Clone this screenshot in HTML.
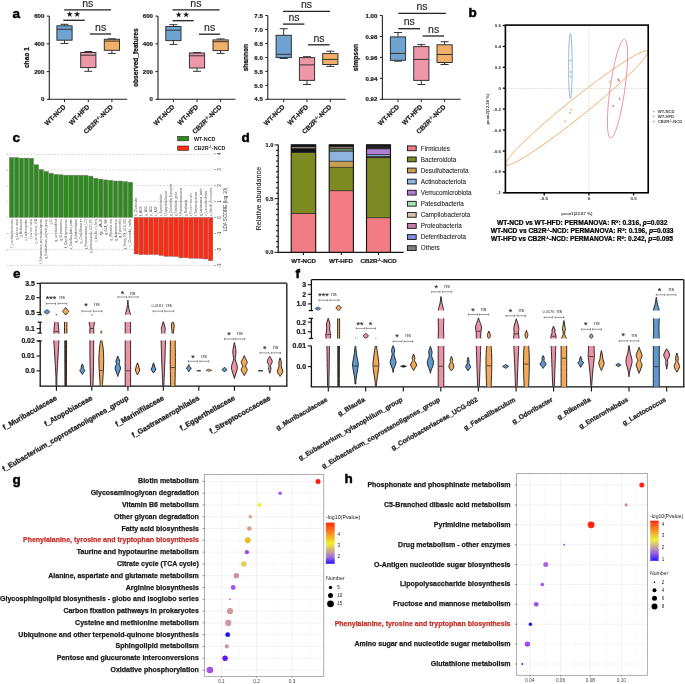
<!DOCTYPE html>
<html><head><meta charset="utf-8"><style>
html,body{margin:0;padding:0;background:#fff;width:685px;height:684px;overflow:hidden}
svg{display:block;font-family:"Liberation Sans", sans-serif;will-change:transform}
</style></head><body>
<svg width="685" height="684" viewBox="0 0 685 684">
<line x1="49.30" y1="16.10" x2="49.30" y2="99.90" stroke="#222" stroke-width="1.1"/>
<line x1="48.80" y1="99.30" x2="127.20" y2="99.30" stroke="#222" stroke-width="1.1"/>
<line x1="46.80" y1="16.10" x2="49.30" y2="16.10" stroke="#222" stroke-width="1"/>
<text x="44.30" y="18.20" font-size="6.1" text-anchor="end" font-weight="bold" fill="#222" stroke="#222" stroke-width="0.21">600</text>
<line x1="46.80" y1="43.80" x2="49.30" y2="43.80" stroke="#222" stroke-width="1"/>
<text x="44.30" y="45.90" font-size="6.1" text-anchor="end" font-weight="bold" fill="#222" stroke="#222" stroke-width="0.21">400</text>
<line x1="46.80" y1="71.60" x2="49.30" y2="71.60" stroke="#222" stroke-width="1"/>
<text x="44.30" y="73.70" font-size="6.1" text-anchor="end" font-weight="bold" fill="#222" stroke="#222" stroke-width="0.21">200</text>
<line x1="46.80" y1="99.30" x2="49.30" y2="99.30" stroke="#222" stroke-width="1"/>
<text x="44.30" y="101.40" font-size="6.1" text-anchor="end" font-weight="bold" fill="#222" stroke="#222" stroke-width="0.21">0</text>
<text x="29.50" y="57.60" font-size="6.6" text-anchor="middle" font-weight="bold" fill="#111" stroke="#111" stroke-width="0.23" transform="rotate(-90 29.50 57.60)">chao 1</text>
<line x1="64.50" y1="24.30" x2="64.50" y2="25.80" stroke="#333" stroke-width="1"/>
<line x1="64.50" y1="40.20" x2="64.50" y2="43.50" stroke="#333" stroke-width="1"/>
<line x1="60.50" y1="24.30" x2="68.50" y2="24.30" stroke="#333" stroke-width="1"/>
<line x1="60.50" y1="43.50" x2="68.50" y2="43.50" stroke="#333" stroke-width="1"/>
<rect x="56.90" y="25.80" width="15.20" height="14.40" fill="#6FA3D2" stroke="#333" stroke-width="1"/>
<line x1="56.90" y1="29.30" x2="72.10" y2="29.30" stroke="#333" stroke-width="1"/>
<line x1="64.50" y1="99.30" x2="64.50" y2="102.10" stroke="#222" stroke-width="1"/>
<text x="66.00" y="107.30" font-size="6.6" text-anchor="end" font-weight="bold" fill="#222" stroke="#222" stroke-width="0.23" transform="rotate(-45 66.00 107.30)">WT-NCD</text>
<line x1="88.30" y1="51.50" x2="88.30" y2="52.50" stroke="#333" stroke-width="1"/>
<line x1="88.30" y1="67.60" x2="88.30" y2="71.30" stroke="#333" stroke-width="1"/>
<line x1="84.30" y1="51.50" x2="92.30" y2="51.50" stroke="#333" stroke-width="1"/>
<line x1="84.30" y1="71.30" x2="92.30" y2="71.30" stroke="#333" stroke-width="1"/>
<rect x="80.70" y="52.50" width="15.20" height="15.10" fill="#EE97A8" stroke="#333" stroke-width="1"/>
<line x1="80.70" y1="55.20" x2="95.90" y2="55.20" stroke="#333" stroke-width="1"/>
<line x1="88.30" y1="99.30" x2="88.30" y2="102.10" stroke="#222" stroke-width="1"/>
<text x="89.80" y="107.30" font-size="6.6" text-anchor="end" font-weight="bold" fill="#222" stroke="#222" stroke-width="0.23" transform="rotate(-45 89.80 107.30)">WT-HFD</text>
<line x1="111.90" y1="38.80" x2="111.90" y2="39.30" stroke="#333" stroke-width="1"/>
<line x1="111.90" y1="50.30" x2="111.90" y2="53.40" stroke="#333" stroke-width="1"/>
<line x1="107.90" y1="38.80" x2="115.90" y2="38.80" stroke="#333" stroke-width="1"/>
<line x1="107.90" y1="53.40" x2="115.90" y2="53.40" stroke="#333" stroke-width="1"/>
<rect x="104.30" y="39.30" width="15.20" height="11.00" fill="#F2AF67" stroke="#333" stroke-width="1"/>
<line x1="104.30" y1="41.10" x2="119.50" y2="41.10" stroke="#333" stroke-width="1"/>
<line x1="111.90" y1="99.30" x2="111.90" y2="102.10" stroke="#222" stroke-width="1"/>
<text x="113.40" y="107.30" font-size="6.6" text-anchor="end" font-weight="bold" fill="#222" stroke="#222" stroke-width="0.23" transform="rotate(-45 113.40 107.30)">CB2R<tspan font-size="4" dy="-2.2">-/-</tspan><tspan dy="2.2">-NCD</tspan></text>
<line x1="64.20" y1="9.90" x2="111.00" y2="9.90" stroke="#222" stroke-width="1.3"/>
<text x="87.80" y="6.80" font-size="10.5" text-anchor="middle" fill="#222" stroke="#222" stroke-width="0.13">ns</text>
<line x1="63.30" y1="20.30" x2="84.80" y2="20.30" stroke="#222" stroke-width="1.3"/>
<polygon points="69.70,11.00 70.44,13.29 72.84,13.28 70.89,14.69 71.64,16.97 69.70,15.55 67.76,16.97 68.51,14.69 66.56,13.28 68.96,13.29" fill="#111"/>
<polygon points="77.10,11.00 77.84,13.29 80.24,13.28 78.29,14.69 79.04,16.97 77.10,15.55 75.16,16.97 75.91,14.69 73.96,13.28 76.36,13.29" fill="#111"/>
<line x1="89.90" y1="34.00" x2="111.10" y2="34.00" stroke="#222" stroke-width="1.3"/>
<text x="100.60" y="31.10" font-size="10.5" text-anchor="middle" fill="#222" stroke="#222" stroke-width="0.13">ns</text>
<line x1="158.00" y1="16.10" x2="158.00" y2="99.90" stroke="#222" stroke-width="1.1"/>
<line x1="157.50" y1="99.30" x2="235.50" y2="99.30" stroke="#222" stroke-width="1.1"/>
<line x1="155.50" y1="16.10" x2="158.00" y2="16.10" stroke="#222" stroke-width="1"/>
<text x="153.00" y="18.20" font-size="6.1" text-anchor="end" font-weight="bold" fill="#222" stroke="#222" stroke-width="0.21">600</text>
<line x1="155.50" y1="43.80" x2="158.00" y2="43.80" stroke="#222" stroke-width="1"/>
<text x="153.00" y="45.90" font-size="6.1" text-anchor="end" font-weight="bold" fill="#222" stroke="#222" stroke-width="0.21">400</text>
<line x1="155.50" y1="71.60" x2="158.00" y2="71.60" stroke="#222" stroke-width="1"/>
<text x="153.00" y="73.70" font-size="6.1" text-anchor="end" font-weight="bold" fill="#222" stroke="#222" stroke-width="0.21">200</text>
<line x1="155.50" y1="99.30" x2="158.00" y2="99.30" stroke="#222" stroke-width="1"/>
<text x="153.00" y="101.40" font-size="6.1" text-anchor="end" font-weight="bold" fill="#222" stroke="#222" stroke-width="0.21">0</text>
<text x="138.30" y="57.60" font-size="6.6" text-anchor="middle" font-weight="bold" fill="#111" stroke="#111" stroke-width="0.23" transform="rotate(-90 138.30 57.60)">observed_features</text>
<line x1="173.40" y1="24.70" x2="173.40" y2="26.50" stroke="#333" stroke-width="1"/>
<line x1="173.40" y1="40.60" x2="173.40" y2="44.40" stroke="#333" stroke-width="1"/>
<line x1="169.40" y1="24.70" x2="177.40" y2="24.70" stroke="#333" stroke-width="1"/>
<line x1="169.40" y1="44.40" x2="177.40" y2="44.40" stroke="#333" stroke-width="1"/>
<rect x="165.80" y="26.50" width="15.20" height="14.10" fill="#6FA3D2" stroke="#333" stroke-width="1"/>
<line x1="165.80" y1="30.20" x2="181.00" y2="30.20" stroke="#333" stroke-width="1"/>
<line x1="173.40" y1="99.30" x2="173.40" y2="102.10" stroke="#222" stroke-width="1"/>
<text x="174.90" y="107.30" font-size="6.6" text-anchor="end" font-weight="bold" fill="#222" stroke="#222" stroke-width="0.23" transform="rotate(-45 174.90 107.30)">WT-NCD</text>
<line x1="197.00" y1="52.50" x2="197.00" y2="53.00" stroke="#333" stroke-width="1"/>
<line x1="197.00" y1="68.00" x2="197.00" y2="71.30" stroke="#333" stroke-width="1"/>
<line x1="193.00" y1="52.50" x2="201.00" y2="52.50" stroke="#333" stroke-width="1"/>
<line x1="193.00" y1="71.30" x2="201.00" y2="71.30" stroke="#333" stroke-width="1"/>
<rect x="189.40" y="53.00" width="15.20" height="15.00" fill="#EE97A8" stroke="#333" stroke-width="1"/>
<line x1="189.40" y1="55.80" x2="204.60" y2="55.80" stroke="#333" stroke-width="1"/>
<line x1="197.00" y1="99.30" x2="197.00" y2="102.10" stroke="#222" stroke-width="1"/>
<text x="198.50" y="107.30" font-size="6.6" text-anchor="end" font-weight="bold" fill="#222" stroke="#222" stroke-width="0.23" transform="rotate(-45 198.50 107.30)">WT-HFD</text>
<line x1="220.60" y1="38.90" x2="220.60" y2="39.90" stroke="#333" stroke-width="1"/>
<line x1="220.60" y1="50.60" x2="220.60" y2="53.40" stroke="#333" stroke-width="1"/>
<line x1="216.60" y1="38.90" x2="224.60" y2="38.90" stroke="#333" stroke-width="1"/>
<line x1="216.60" y1="53.40" x2="224.60" y2="53.40" stroke="#333" stroke-width="1"/>
<rect x="213.00" y="39.90" width="15.20" height="10.70" fill="#F2AF67" stroke="#333" stroke-width="1"/>
<line x1="213.00" y1="41.70" x2="228.20" y2="41.70" stroke="#333" stroke-width="1"/>
<line x1="220.60" y1="99.30" x2="220.60" y2="102.10" stroke="#222" stroke-width="1"/>
<text x="222.10" y="107.30" font-size="6.6" text-anchor="end" font-weight="bold" fill="#222" stroke="#222" stroke-width="0.23" transform="rotate(-45 222.10 107.30)">CB2R<tspan font-size="4" dy="-2.2">-/-</tspan><tspan dy="2.2">-NCD</tspan></text>
<line x1="172.50" y1="9.90" x2="219.60" y2="9.90" stroke="#222" stroke-width="1.3"/>
<text x="195.90" y="6.80" font-size="10.5" text-anchor="middle" fill="#222" stroke="#222" stroke-width="0.13">ns</text>
<line x1="172.50" y1="20.70" x2="193.70" y2="20.70" stroke="#222" stroke-width="1.3"/>
<polygon points="178.70,11.40 179.44,13.69 181.84,13.68 179.89,15.09 180.64,17.37 178.70,15.95 176.76,17.37 177.51,15.09 175.56,13.68 177.96,13.69" fill="#111"/>
<polygon points="186.10,11.40 186.84,13.69 189.24,13.68 187.29,15.09 188.04,17.37 186.10,15.95 184.16,17.37 184.91,15.09 182.96,13.68 185.36,13.69" fill="#111"/>
<line x1="199.00" y1="34.20" x2="220.20" y2="34.20" stroke="#222" stroke-width="1.3"/>
<text x="209.60" y="31.10" font-size="10.5" text-anchor="middle" fill="#222" stroke="#222" stroke-width="0.13">ns</text>
<line x1="267.80" y1="15.50" x2="267.80" y2="99.90" stroke="#222" stroke-width="1.1"/>
<line x1="267.30" y1="99.30" x2="345.70" y2="99.30" stroke="#222" stroke-width="1.1"/>
<line x1="265.30" y1="15.50" x2="267.80" y2="15.50" stroke="#222" stroke-width="1"/>
<text x="262.80" y="17.60" font-size="6.1" text-anchor="end" font-weight="bold" fill="#222" stroke="#222" stroke-width="0.21">7.5</text>
<line x1="265.30" y1="29.50" x2="267.80" y2="29.50" stroke="#222" stroke-width="1"/>
<text x="262.80" y="31.60" font-size="6.1" text-anchor="end" font-weight="bold" fill="#222" stroke="#222" stroke-width="0.21">7.0</text>
<line x1="265.30" y1="43.50" x2="267.80" y2="43.50" stroke="#222" stroke-width="1"/>
<text x="262.80" y="45.60" font-size="6.1" text-anchor="end" font-weight="bold" fill="#222" stroke="#222" stroke-width="0.21">6.5</text>
<line x1="265.30" y1="57.50" x2="267.80" y2="57.50" stroke="#222" stroke-width="1"/>
<text x="262.80" y="59.60" font-size="6.1" text-anchor="end" font-weight="bold" fill="#222" stroke="#222" stroke-width="0.21">6.0</text>
<line x1="265.30" y1="71.40" x2="267.80" y2="71.40" stroke="#222" stroke-width="1"/>
<text x="262.80" y="73.50" font-size="6.1" text-anchor="end" font-weight="bold" fill="#222" stroke="#222" stroke-width="0.21">5.5</text>
<line x1="265.30" y1="85.40" x2="267.80" y2="85.40" stroke="#222" stroke-width="1"/>
<text x="262.80" y="87.50" font-size="6.1" text-anchor="end" font-weight="bold" fill="#222" stroke="#222" stroke-width="0.21">5.0</text>
<line x1="265.30" y1="99.30" x2="267.80" y2="99.30" stroke="#222" stroke-width="1"/>
<text x="262.80" y="101.40" font-size="6.1" text-anchor="end" font-weight="bold" fill="#222" stroke="#222" stroke-width="0.21">4.5</text>
<text x="247.80" y="57.60" font-size="6.6" text-anchor="middle" font-weight="bold" fill="#111" stroke="#111" stroke-width="0.23" transform="rotate(-90 247.80 57.60)">shannon</text>
<line x1="283.70" y1="28.70" x2="283.70" y2="35.30" stroke="#333" stroke-width="1"/>
<line x1="283.70" y1="57.60" x2="283.70" y2="58.50" stroke="#333" stroke-width="1"/>
<line x1="279.70" y1="28.70" x2="287.70" y2="28.70" stroke="#333" stroke-width="1"/>
<line x1="279.70" y1="58.50" x2="287.70" y2="58.50" stroke="#333" stroke-width="1"/>
<rect x="276.10" y="35.30" width="15.20" height="22.30" fill="#6FA3D2" stroke="#333" stroke-width="1"/>
<line x1="276.10" y1="54.30" x2="291.30" y2="54.30" stroke="#333" stroke-width="1"/>
<line x1="283.70" y1="99.30" x2="283.70" y2="102.10" stroke="#222" stroke-width="1"/>
<text x="285.20" y="107.30" font-size="6.6" text-anchor="end" font-weight="bold" fill="#222" stroke="#222" stroke-width="0.23" transform="rotate(-45 285.20 107.30)">WT-NCD</text>
<line x1="307.00" y1="56.70" x2="307.00" y2="57.60" stroke="#333" stroke-width="1"/>
<line x1="307.00" y1="80.40" x2="307.00" y2="84.50" stroke="#333" stroke-width="1"/>
<line x1="303.00" y1="56.70" x2="311.00" y2="56.70" stroke="#333" stroke-width="1"/>
<line x1="303.00" y1="84.50" x2="311.00" y2="84.50" stroke="#333" stroke-width="1"/>
<rect x="299.40" y="57.60" width="15.20" height="22.80" fill="#EE97A8" stroke="#333" stroke-width="1"/>
<line x1="299.40" y1="64.90" x2="314.60" y2="64.90" stroke="#333" stroke-width="1"/>
<line x1="307.00" y1="99.30" x2="307.00" y2="102.10" stroke="#222" stroke-width="1"/>
<text x="308.50" y="107.30" font-size="6.6" text-anchor="end" font-weight="bold" fill="#222" stroke="#222" stroke-width="0.23" transform="rotate(-45 308.50 107.30)">WT-HFD</text>
<line x1="330.30" y1="51.20" x2="330.30" y2="53.60" stroke="#333" stroke-width="1"/>
<line x1="330.30" y1="64.50" x2="330.30" y2="66.40" stroke="#333" stroke-width="1"/>
<line x1="326.30" y1="51.20" x2="334.30" y2="51.20" stroke="#333" stroke-width="1"/>
<line x1="326.30" y1="66.40" x2="334.30" y2="66.40" stroke="#333" stroke-width="1"/>
<rect x="322.70" y="53.60" width="15.20" height="10.90" fill="#F2AF67" stroke="#333" stroke-width="1"/>
<line x1="322.70" y1="59.40" x2="337.90" y2="59.40" stroke="#333" stroke-width="1"/>
<line x1="330.30" y1="99.30" x2="330.30" y2="102.10" stroke="#222" stroke-width="1"/>
<text x="331.80" y="107.30" font-size="6.6" text-anchor="end" font-weight="bold" fill="#222" stroke="#222" stroke-width="0.23" transform="rotate(-45 331.80 107.30)">CB2R<tspan font-size="4" dy="-2.2">-/-</tspan><tspan dy="2.2">-NCD</tspan></text>
<line x1="283.00" y1="11.30" x2="330.00" y2="11.30" stroke="#222" stroke-width="1.3"/>
<text x="306.50" y="8.00" font-size="10.5" text-anchor="middle" fill="#222" stroke="#222" stroke-width="0.13">ns</text>
<line x1="283.00" y1="24.10" x2="304.40" y2="24.10" stroke="#222" stroke-width="1.3"/>
<text x="294.00" y="21.00" font-size="10.5" text-anchor="middle" fill="#222" stroke="#222" stroke-width="0.13">ns</text>
<line x1="308.00" y1="44.80" x2="329.60" y2="44.80" stroke="#222" stroke-width="1.3"/>
<text x="319.00" y="41.50" font-size="10.5" text-anchor="middle" fill="#222" stroke="#222" stroke-width="0.13">ns</text>
<line x1="382.40" y1="15.50" x2="382.40" y2="99.90" stroke="#222" stroke-width="1.1"/>
<line x1="381.90" y1="99.30" x2="460.70" y2="99.30" stroke="#222" stroke-width="1.1"/>
<line x1="379.90" y1="15.50" x2="382.40" y2="15.50" stroke="#222" stroke-width="1"/>
<text x="377.40" y="17.60" font-size="6.1" text-anchor="end" font-weight="bold" fill="#222" stroke="#222" stroke-width="0.21">1.00</text>
<line x1="379.90" y1="36.50" x2="382.40" y2="36.50" stroke="#222" stroke-width="1"/>
<text x="377.40" y="38.60" font-size="6.1" text-anchor="end" font-weight="bold" fill="#222" stroke="#222" stroke-width="0.21">0.98</text>
<line x1="379.90" y1="57.40" x2="382.40" y2="57.40" stroke="#222" stroke-width="1"/>
<text x="377.40" y="59.50" font-size="6.1" text-anchor="end" font-weight="bold" fill="#222" stroke="#222" stroke-width="0.21">0.96</text>
<line x1="379.90" y1="78.40" x2="382.40" y2="78.40" stroke="#222" stroke-width="1"/>
<text x="377.40" y="80.50" font-size="6.1" text-anchor="end" font-weight="bold" fill="#222" stroke="#222" stroke-width="0.21">0.94</text>
<line x1="379.90" y1="99.30" x2="382.40" y2="99.30" stroke="#222" stroke-width="1"/>
<text x="377.40" y="101.40" font-size="6.1" text-anchor="end" font-weight="bold" fill="#222" stroke="#222" stroke-width="0.21">0.92</text>
<text x="358.50" y="57.60" font-size="6.6" text-anchor="middle" font-weight="bold" fill="#111" stroke="#111" stroke-width="0.23" transform="rotate(-90 358.50 57.60)">simpson</text>
<line x1="398.00" y1="32.50" x2="398.00" y2="36.90" stroke="#333" stroke-width="1"/>
<line x1="398.00" y1="60.30" x2="398.00" y2="61.20" stroke="#333" stroke-width="1"/>
<line x1="394.00" y1="32.50" x2="402.00" y2="32.50" stroke="#333" stroke-width="1"/>
<line x1="394.00" y1="61.20" x2="402.00" y2="61.20" stroke="#333" stroke-width="1"/>
<rect x="390.40" y="36.90" width="15.20" height="23.40" fill="#6FA3D2" stroke="#333" stroke-width="1"/>
<line x1="390.40" y1="53.40" x2="405.60" y2="53.40" stroke="#333" stroke-width="1"/>
<line x1="398.00" y1="99.30" x2="398.00" y2="102.10" stroke="#222" stroke-width="1"/>
<text x="399.50" y="107.30" font-size="6.6" text-anchor="end" font-weight="bold" fill="#222" stroke="#222" stroke-width="0.23" transform="rotate(-45 399.50 107.30)">WT-NCD</text>
<line x1="421.30" y1="44.60" x2="421.30" y2="46.60" stroke="#333" stroke-width="1"/>
<line x1="421.30" y1="80.40" x2="421.30" y2="84.50" stroke="#333" stroke-width="1"/>
<line x1="417.30" y1="44.60" x2="425.30" y2="44.60" stroke="#333" stroke-width="1"/>
<line x1="417.30" y1="84.50" x2="425.30" y2="84.50" stroke="#333" stroke-width="1"/>
<rect x="413.70" y="46.60" width="15.20" height="33.80" fill="#EE97A8" stroke="#333" stroke-width="1"/>
<line x1="413.70" y1="59.40" x2="428.90" y2="59.40" stroke="#333" stroke-width="1"/>
<line x1="421.30" y1="99.30" x2="421.30" y2="102.10" stroke="#222" stroke-width="1"/>
<text x="422.80" y="107.30" font-size="6.6" text-anchor="end" font-weight="bold" fill="#222" stroke="#222" stroke-width="0.23" transform="rotate(-45 422.80 107.30)">WT-HFD</text>
<line x1="444.60" y1="41.70" x2="444.60" y2="44.80" stroke="#333" stroke-width="1"/>
<line x1="444.60" y1="62.50" x2="444.60" y2="64.50" stroke="#333" stroke-width="1"/>
<line x1="440.60" y1="41.70" x2="448.60" y2="41.70" stroke="#333" stroke-width="1"/>
<line x1="440.60" y1="64.50" x2="448.60" y2="64.50" stroke="#333" stroke-width="1"/>
<rect x="437.00" y="44.80" width="15.20" height="17.70" fill="#F2AF67" stroke="#333" stroke-width="1"/>
<line x1="437.00" y1="54.50" x2="452.20" y2="54.50" stroke="#333" stroke-width="1"/>
<line x1="444.60" y1="99.30" x2="444.60" y2="102.10" stroke="#222" stroke-width="1"/>
<text x="446.10" y="107.30" font-size="6.6" text-anchor="end" font-weight="bold" fill="#222" stroke="#222" stroke-width="0.23" transform="rotate(-45 446.10 107.30)">CB2R<tspan font-size="4" dy="-2.2">-/-</tspan><tspan dy="2.2">-NCD</tspan></text>
<line x1="398.30" y1="13.30" x2="445.90" y2="13.30" stroke="#222" stroke-width="1.3"/>
<text x="422.00" y="10.30" font-size="10.5" text-anchor="middle" fill="#222" stroke="#222" stroke-width="0.13">ns</text>
<line x1="398.30" y1="28.70" x2="420.00" y2="28.70" stroke="#222" stroke-width="1.3"/>
<text x="409.30" y="25.20" font-size="10.5" text-anchor="middle" fill="#222" stroke="#222" stroke-width="0.13">ns</text>
<line x1="422.60" y1="36.00" x2="444.00" y2="36.00" stroke="#222" stroke-width="1.3"/>
<text x="433.60" y="32.60" font-size="10.5" text-anchor="middle" fill="#222" stroke="#222" stroke-width="0.13">ns</text>
<text x="12.50" y="17.50" font-size="13.5" text-anchor="start" font-weight="bold" fill="#000" stroke="#000" stroke-width="0.47">a</text>
<text x="468.50" y="17.00" font-size="13.5" text-anchor="start" font-weight="bold" fill="#000" stroke="#000" stroke-width="0.47">b</text>
<text x="12.50" y="142.30" font-size="13.5" text-anchor="start" font-weight="bold" fill="#000" stroke="#000" stroke-width="0.47">c</text>
<text x="241.50" y="141.70" font-size="13.5" text-anchor="start" font-weight="bold" fill="#000" stroke="#000" stroke-width="0.47">d</text>
<text x="13.00" y="277.70" font-size="13.5" text-anchor="start" font-weight="bold" fill="#000" stroke="#000" stroke-width="0.47">e</text>
<text x="295.50" y="277.70" font-size="13.5" text-anchor="start" font-weight="bold" fill="#000" stroke="#000" stroke-width="0.47">f</text>
<text x="12.50" y="484.00" font-size="13.5" text-anchor="start" font-weight="bold" fill="#000" stroke="#000" stroke-width="0.47">g</text>
<text x="344.50" y="483.10" font-size="13.5" text-anchor="start" font-weight="bold" fill="#000" stroke="#000" stroke-width="0.47">h</text>
<line x1="505.40" y1="88.50" x2="648.20" y2="88.50" stroke="#bbb" stroke-width="0.5" stroke-dasharray="1.5,1"/>
<line x1="588.90" y1="25.10" x2="588.90" y2="192.80" stroke="#bbb" stroke-width="0.5" stroke-dasharray="1.5,1"/>
<ellipse cx="570.40" cy="66.20" rx="1.80" ry="32.70" transform="rotate(0.00 570.40 66.20)" fill="none" stroke="#6C9FCB" stroke-width="0.7"/>
<ellipse cx="617.50" cy="88.70" rx="7.40" ry="50.00" transform="rotate(8.00 617.50 88.70)" fill="none" stroke="#E0708A" stroke-width="0.7"/>
<ellipse cx="576.70" cy="108.00" rx="90.70" ry="9.20" transform="rotate(-38.75 576.70 108.00)" fill="none" stroke="#EDA35A" stroke-width="0.8"/>
<line x1="569.50" y1="60.40" x2="571.50" y2="60.40" stroke="#6C9FCB" stroke-width="0.5"/>
<line x1="570.50" y1="59.40" x2="570.50" y2="61.40" stroke="#6C9FCB" stroke-width="0.5"/>
<line x1="569.50" y1="72.10" x2="571.50" y2="72.10" stroke="#6C9FCB" stroke-width="0.5"/>
<line x1="570.50" y1="71.10" x2="570.50" y2="73.10" stroke="#6C9FCB" stroke-width="0.5"/>
<line x1="569.50" y1="76.90" x2="571.50" y2="76.90" stroke="#6C9FCB" stroke-width="0.5"/>
<line x1="570.50" y1="75.90" x2="570.50" y2="77.90" stroke="#6C9FCB" stroke-width="0.5"/>
<polygon points="618.10,77.90 619.40,80.20 616.80,80.20" fill="#E0708A"/>
<polygon points="619.20,79.20 620.50,81.50 617.90,81.50" fill="#E0708A"/>
<polygon points="619.50,97.20 620.80,99.50 618.20,99.50" fill="#E0708A"/>
<polygon points="613.30,104.50 614.60,106.80 612.00,106.80" fill="#E0708A"/>
<circle cx="569.90" cy="112.80" r="0.90" fill="#EDA35A" stroke="none" stroke-width="0"/>
<circle cx="571.20" cy="109.60" r="0.90" fill="#EDA35A" stroke="none" stroke-width="0"/>
<circle cx="565.10" cy="121.10" r="0.90" fill="#EDA35A" stroke="none" stroke-width="0"/>
<circle cx="609.90" cy="81.70" r="0.90" fill="#EDA35A" stroke="none" stroke-width="0"/>
<rect x="505.40" y="25.10" width="142.80" height="167.70" fill="none" stroke="#000" stroke-width="1.6"/>
<line x1="502.80" y1="25.50" x2="505.40" y2="25.50" stroke="#000" stroke-width="1.3"/>
<text x="500.90" y="27.00" font-size="4.4" text-anchor="end" font-weight="bold" fill="#333">0.6</text>
<line x1="502.80" y1="46.40" x2="505.40" y2="46.40" stroke="#000" stroke-width="1.3"/>
<text x="500.90" y="47.90" font-size="4.4" text-anchor="end" font-weight="bold" fill="#333">0.4</text>
<line x1="502.80" y1="67.30" x2="505.40" y2="67.30" stroke="#000" stroke-width="1.3"/>
<text x="500.90" y="68.80" font-size="4.4" text-anchor="end" font-weight="bold" fill="#333">0.2</text>
<line x1="502.80" y1="88.20" x2="505.40" y2="88.20" stroke="#000" stroke-width="1.3"/>
<text x="500.90" y="89.70" font-size="4.4" text-anchor="end" font-weight="bold" fill="#333">0</text>
<line x1="502.80" y1="109.10" x2="505.40" y2="109.10" stroke="#000" stroke-width="1.3"/>
<text x="500.90" y="110.60" font-size="4.4" text-anchor="end" font-weight="bold" fill="#333">-0.2</text>
<line x1="502.80" y1="130.00" x2="505.40" y2="130.00" stroke="#000" stroke-width="1.3"/>
<text x="500.90" y="131.50" font-size="4.4" text-anchor="end" font-weight="bold" fill="#333">-0.4</text>
<line x1="502.80" y1="151.00" x2="505.40" y2="151.00" stroke="#000" stroke-width="1.3"/>
<text x="500.90" y="152.50" font-size="4.4" text-anchor="end" font-weight="bold" fill="#333">-0.6</text>
<line x1="502.80" y1="171.90" x2="505.40" y2="171.90" stroke="#000" stroke-width="1.3"/>
<text x="500.90" y="173.40" font-size="4.4" text-anchor="end" font-weight="bold" fill="#333">-0.8</text>
<line x1="502.80" y1="192.80" x2="505.40" y2="192.80" stroke="#000" stroke-width="1.3"/>
<text x="500.90" y="194.30" font-size="4.4" text-anchor="end" font-weight="bold" fill="#333">-1</text>
<line x1="544.20" y1="192.80" x2="544.20" y2="195.40" stroke="#000" stroke-width="1.3"/>
<text x="544.20" y="200.00" font-size="4.4" text-anchor="middle" font-weight="bold" fill="#333">-0.5</text>
<line x1="588.90" y1="192.80" x2="588.90" y2="195.40" stroke="#000" stroke-width="1.3"/>
<text x="588.90" y="200.00" font-size="4.4" text-anchor="middle" font-weight="bold" fill="#333">0</text>
<line x1="633.60" y1="192.80" x2="633.60" y2="195.40" stroke="#000" stroke-width="1.3"/>
<text x="633.60" y="200.00" font-size="4.4" text-anchor="middle" font-weight="bold" fill="#333">0.5</text>
<text x="576.80" y="215.20" font-size="4.3" text-anchor="middle" font-weight="bold" fill="#444">pcoa1(22.87 %)</text>
<text x="488.60" y="109.00" font-size="4.3" text-anchor="middle" font-weight="bold" fill="#444" transform="rotate(-90 488.60 109.00)">pcoa2(12.34 %)</text>
<line x1="652.80" y1="111.50" x2="654.80" y2="111.50" stroke="#6C9FCB" stroke-width="0.5"/>
<line x1="653.80" y1="110.50" x2="653.80" y2="112.50" stroke="#6C9FCB" stroke-width="0.5"/>
<polygon points="653.8,115.5 654.8,117.3 652.8,117.3" fill="#E0708A"/>
<circle cx="653.80" cy="121.50" r="0.90" fill="#EDA35A" stroke="none" stroke-width="0"/>
<text x="657.80" y="113.00" font-size="4.2" text-anchor="start" font-weight="bold" fill="#444">WT-NCD</text>
<text x="657.80" y="118.10" font-size="4.2" text-anchor="start" font-weight="bold" fill="#444">WT-HFD</text>
<text x="657.80" y="123.00" font-size="4.2" text-anchor="start" font-weight="bold" fill="#444">CB2R<tspan font-size="2.8" dy="-1.3">-/-</tspan><tspan dy="1.3">-NCD</tspan></text>
<text x="582.20" y="225.40" font-size="6.65" text-anchor="middle" font-weight="bold" fill="#000" stroke="#000" stroke-width="0.23">WT-NCD vs WT-HFD: PERMANOVA: R<tspan font-size="4.4" dy="-2.4">2</tspan><tspan dy="2.4">: 0.316, </tspan><tspan font-style="italic">p</tspan>=0.032</text>
<text x="582.20" y="233.10" font-size="6.65" text-anchor="middle" font-weight="bold" fill="#000" stroke="#000" stroke-width="0.23">WT-NCD vs CB2R<tspan font-size="3.6" dy="-2.4">-/-</tspan><tspan dy="2.4">-NCD: PERMANOVA: R</tspan><tspan font-size="4.4" dy="-2.4">2</tspan><tspan dy="2.4">: 0.196, </tspan><tspan font-style="italic">p</tspan>=0.033</text>
<text x="581.90" y="241.00" font-size="6.65" text-anchor="middle" font-weight="bold" fill="#000" stroke="#000" stroke-width="0.23">WT-HFD vs CB2R<tspan font-size="3.6" dy="-2.4">-/-</tspan><tspan dy="2.4">-NCD: PERMANOVA: R</tspan><tspan font-size="4.4" dy="-2.4">2</tspan><tspan dy="2.4">: 0.242, </tspan><tspan font-style="italic">p</tspan>=0.095</text>
<line x1="6.70" y1="154.30" x2="215.00" y2="154.30" stroke="#b4b4b4" stroke-width="0.6" stroke-dasharray="1.8,1.6"/>
<line x1="6.70" y1="170.00" x2="215.00" y2="170.00" stroke="#b4b4b4" stroke-width="0.6" stroke-dasharray="1.8,1.6"/>
<line x1="6.70" y1="185.60" x2="215.00" y2="185.60" stroke="#b4b4b4" stroke-width="0.6" stroke-dasharray="1.8,1.6"/>
<line x1="6.70" y1="201.40" x2="215.00" y2="201.40" stroke="#b4b4b4" stroke-width="0.6" stroke-dasharray="1.8,1.6"/>
<line x1="6.70" y1="233.50" x2="215.00" y2="233.50" stroke="#b4b4b4" stroke-width="0.6" stroke-dasharray="1.8,1.6"/>
<line x1="6.70" y1="249.70" x2="215.00" y2="249.70" stroke="#b4b4b4" stroke-width="0.6" stroke-dasharray="1.8,1.6"/>
<line x1="6.70" y1="265.40" x2="215.00" y2="265.40" stroke="#b4b4b4" stroke-width="0.6" stroke-dasharray="1.8,1.6"/>
<rect x="9.35" y="157.50" width="4.45" height="60.00" fill="#2F8A1E" stroke="#777" stroke-width="0.4"/>
<rect x="14.30" y="157.50" width="4.45" height="60.00" fill="#2F8A1E" stroke="#777" stroke-width="0.4"/>
<rect x="19.25" y="158.10" width="4.45" height="59.40" fill="#2F8A1E" stroke="#777" stroke-width="0.4"/>
<rect x="24.20" y="158.10" width="4.45" height="59.40" fill="#2F8A1E" stroke="#777" stroke-width="0.4"/>
<rect x="29.15" y="158.20" width="4.45" height="59.30" fill="#2F8A1E" stroke="#777" stroke-width="0.4"/>
<rect x="34.10" y="164.70" width="4.45" height="52.80" fill="#2F8A1E" stroke="#777" stroke-width="0.4"/>
<rect x="39.05" y="169.50" width="4.45" height="48.00" fill="#2F8A1E" stroke="#777" stroke-width="0.4"/>
<rect x="44.00" y="171.40" width="4.45" height="46.10" fill="#2F8A1E" stroke="#777" stroke-width="0.4"/>
<rect x="48.95" y="173.30" width="4.45" height="44.20" fill="#2F8A1E" stroke="#777" stroke-width="0.4"/>
<rect x="53.90" y="174.40" width="4.45" height="43.10" fill="#2F8A1E" stroke="#777" stroke-width="0.4"/>
<rect x="58.85" y="174.80" width="4.45" height="42.70" fill="#2F8A1E" stroke="#777" stroke-width="0.4"/>
<rect x="63.80" y="175.20" width="4.45" height="42.30" fill="#2F8A1E" stroke="#777" stroke-width="0.4"/>
<rect x="68.75" y="175.20" width="4.45" height="42.30" fill="#2F8A1E" stroke="#777" stroke-width="0.4"/>
<rect x="73.70" y="175.20" width="4.45" height="42.30" fill="#2F8A1E" stroke="#777" stroke-width="0.4"/>
<rect x="78.65" y="175.30" width="4.45" height="42.20" fill="#2F8A1E" stroke="#777" stroke-width="0.4"/>
<rect x="83.60" y="175.30" width="4.45" height="42.20" fill="#2F8A1E" stroke="#777" stroke-width="0.4"/>
<rect x="88.55" y="176.10" width="4.45" height="41.40" fill="#2F8A1E" stroke="#777" stroke-width="0.4"/>
<rect x="93.50" y="178.20" width="4.45" height="39.30" fill="#2F8A1E" stroke="#777" stroke-width="0.4"/>
<rect x="98.45" y="179.10" width="4.45" height="38.40" fill="#2F8A1E" stroke="#777" stroke-width="0.4"/>
<rect x="103.40" y="179.90" width="4.45" height="37.60" fill="#2F8A1E" stroke="#777" stroke-width="0.4"/>
<rect x="108.35" y="180.30" width="4.45" height="37.20" fill="#2F8A1E" stroke="#777" stroke-width="0.4"/>
<rect x="113.30" y="181.00" width="4.45" height="36.50" fill="#2F8A1E" stroke="#777" stroke-width="0.4"/>
<rect x="118.25" y="181.00" width="4.45" height="36.50" fill="#2F8A1E" stroke="#777" stroke-width="0.4"/>
<rect x="123.20" y="181.60" width="4.45" height="35.90" fill="#2F8A1E" stroke="#777" stroke-width="0.4"/>
<rect x="128.15" y="182.20" width="4.45" height="35.30" fill="#2F8A1E" stroke="#777" stroke-width="0.4"/>
<rect x="134.15" y="217.50" width="4.45" height="36.50" fill="#FF2A12" stroke="#666" stroke-width="0.4"/>
<rect x="139.10" y="217.50" width="4.45" height="37.10" fill="#FF2A12" stroke="#666" stroke-width="0.4"/>
<rect x="144.05" y="217.50" width="4.45" height="37.10" fill="#FF2A12" stroke="#666" stroke-width="0.4"/>
<rect x="149.00" y="217.50" width="4.45" height="37.10" fill="#FF2A12" stroke="#666" stroke-width="0.4"/>
<rect x="153.95" y="217.50" width="4.45" height="37.10" fill="#FF2A12" stroke="#666" stroke-width="0.4"/>
<rect x="158.90" y="217.50" width="4.45" height="38.00" fill="#FF2A12" stroke="#666" stroke-width="0.4"/>
<rect x="163.85" y="217.50" width="4.45" height="38.80" fill="#FF2A12" stroke="#666" stroke-width="0.4"/>
<rect x="168.80" y="217.50" width="4.45" height="38.80" fill="#FF2A12" stroke="#666" stroke-width="0.4"/>
<rect x="173.75" y="217.50" width="4.45" height="39.00" fill="#FF2A12" stroke="#666" stroke-width="0.4"/>
<rect x="178.70" y="217.50" width="4.45" height="40.30" fill="#FF2A12" stroke="#666" stroke-width="0.4"/>
<rect x="183.65" y="217.50" width="4.45" height="40.30" fill="#FF2A12" stroke="#666" stroke-width="0.4"/>
<rect x="188.60" y="217.50" width="4.45" height="40.70" fill="#FF2A12" stroke="#666" stroke-width="0.4"/>
<rect x="193.55" y="217.50" width="4.45" height="40.70" fill="#FF2A12" stroke="#666" stroke-width="0.4"/>
<rect x="198.50" y="217.50" width="4.45" height="41.10" fill="#FF2A12" stroke="#666" stroke-width="0.4"/>
<rect x="203.45" y="217.50" width="4.45" height="41.50" fill="#FF2A12" stroke="#666" stroke-width="0.4"/>
<rect x="208.40" y="217.50" width="4.45" height="43.20" fill="#FF2A12" stroke="#666" stroke-width="0.4"/>
<line x1="214.30" y1="153.70" x2="216.20" y2="153.70" stroke="#555" stroke-width="0.5"/>
<text x="221.20" y="153.70" font-size="4.5" text-anchor="middle" fill="#333" transform="rotate(-90 221.20 153.70)">4</text>
<line x1="214.30" y1="169.50" x2="216.20" y2="169.50" stroke="#555" stroke-width="0.5"/>
<text x="221.20" y="169.50" font-size="4.5" text-anchor="middle" fill="#333" transform="rotate(-90 221.20 169.50)">3</text>
<line x1="214.30" y1="185.60" x2="216.20" y2="185.60" stroke="#555" stroke-width="0.5"/>
<text x="221.20" y="185.60" font-size="4.5" text-anchor="middle" fill="#333" transform="rotate(-90 221.20 185.60)">2</text>
<line x1="214.30" y1="201.40" x2="216.20" y2="201.40" stroke="#555" stroke-width="0.5"/>
<text x="221.20" y="201.40" font-size="4.5" text-anchor="middle" fill="#333" transform="rotate(-90 221.20 201.40)">1</text>
<line x1="214.30" y1="217.50" x2="216.20" y2="217.50" stroke="#555" stroke-width="0.5"/>
<text x="221.20" y="217.50" font-size="4.5" text-anchor="middle" fill="#333" transform="rotate(-90 221.20 217.50)">0</text>
<line x1="214.30" y1="233.50" x2="216.20" y2="233.50" stroke="#555" stroke-width="0.5"/>
<text x="221.20" y="233.50" font-size="4.5" text-anchor="middle" fill="#333" transform="rotate(-90 221.20 233.50)">-1</text>
<line x1="214.30" y1="249.70" x2="216.20" y2="249.70" stroke="#555" stroke-width="0.5"/>
<text x="221.20" y="249.70" font-size="4.5" text-anchor="middle" fill="#333" transform="rotate(-90 221.20 249.70)">-2</text>
<line x1="214.30" y1="265.40" x2="216.20" y2="265.40" stroke="#555" stroke-width="0.5"/>
<text x="221.20" y="265.40" font-size="4.5" text-anchor="middle" fill="#333" transform="rotate(-90 221.20 265.40)">-3</text>
<line x1="6.50" y1="154.30" x2="8.00" y2="154.30" stroke="#bbb" stroke-width="0.5"/>
<line x1="6.50" y1="170.00" x2="8.00" y2="170.00" stroke="#bbb" stroke-width="0.5"/>
<line x1="6.50" y1="185.60" x2="8.00" y2="185.60" stroke="#bbb" stroke-width="0.5"/>
<line x1="6.50" y1="201.40" x2="8.00" y2="201.40" stroke="#bbb" stroke-width="0.5"/>
<line x1="6.50" y1="217.50" x2="8.00" y2="217.50" stroke="#bbb" stroke-width="0.5"/>
<line x1="6.50" y1="233.50" x2="8.00" y2="233.50" stroke="#bbb" stroke-width="0.5"/>
<line x1="6.50" y1="249.70" x2="8.00" y2="249.70" stroke="#bbb" stroke-width="0.5"/>
<line x1="6.50" y1="265.40" x2="8.00" y2="265.40" stroke="#bbb" stroke-width="0.5"/>
<text x="227.00" y="209.40" font-size="4.65" text-anchor="middle" fill="#333" transform="rotate(-90 227.00 209.40)">LDA SCORE (log 10)</text>
<rect x="177.70" y="136.40" width="10.90" height="4.40" fill="#2F8A1E" stroke="#222" stroke-width="0.6"/>
<rect x="177.70" y="146.00" width="10.90" height="4.40" fill="#FF2A12" stroke="#222" stroke-width="0.6"/>
<text x="193.90" y="140.60" font-size="5.4" text-anchor="start" font-weight="bold" fill="#222">WT-NCD</text>
<text x="193.90" y="150.20" font-size="5.4" text-anchor="start" font-weight="bold" fill="#222">CB2R<tspan font-size="3.6" dy="-1.8">-/-</tspan><tspan dy="1.8">-NCD</tspan></text>
<text x="12.57" y="219.0" font-size="3.0" fill="#555" text-anchor="end" textLength="28.4" lengthAdjust="spacingAndGlyphs" transform="rotate(-90 12.57 219.0)">f_Lachnospiraceae</text>
<text x="17.53" y="219.0" font-size="3.0" fill="#555" text-anchor="end" textLength="20.8" lengthAdjust="spacingAndGlyphs" transform="rotate(-90 17.53 219.0)">g_Lachnospiraceae</text>
<text x="22.48" y="219.0" font-size="3.0" fill="#555" text-anchor="end" textLength="17.9" lengthAdjust="spacingAndGlyphs" transform="rotate(-90 22.48 219.0)">g_Muribaculum</text>
<text x="27.43" y="219.0" font-size="3.0" fill="#555" text-anchor="end" textLength="21.7" lengthAdjust="spacingAndGlyphs" transform="rotate(-90 27.43 219.0)">o_Lachnospirales</text>
<text x="32.38" y="219.0" font-size="3.0" fill="#555" text-anchor="end" textLength="19.8" lengthAdjust="spacingAndGlyphs" transform="rotate(-90 32.38 219.0)">f_Lachnospiraceae</text>
<text x="37.33" y="219.0" font-size="3.0" fill="#555" text-anchor="end" textLength="24.6" lengthAdjust="spacingAndGlyphs" transform="rotate(-90 37.33 219.0)">g_Lachnospiraceae_NK4A</text>
<text x="42.28" y="219.0" font-size="3.0" fill="#555" text-anchor="end" textLength="44.5" lengthAdjust="spacingAndGlyphs" transform="rotate(-90 42.28 219.0)">f_Eubacterium_coprostanoligenes</text>
<text x="47.23" y="219.0" font-size="3.0" fill="#555" text-anchor="end" textLength="39.8" lengthAdjust="spacingAndGlyphs" transform="rotate(-90 47.23 219.0)">g_Eubacterium_coprost_group</text>
<text x="52.18" y="219.0" font-size="3.0" fill="#555" text-anchor="end" textLength="5.6" lengthAdjust="spacingAndGlyphs" transform="rotate(-90 52.18 219.0)">g_UC5</text>
<text x="57.13" y="219.0" font-size="3.0" fill="#555" text-anchor="end" textLength="22.7" lengthAdjust="spacingAndGlyphs" transform="rotate(-90 57.13 219.0)">g_unclassified</text>
<text x="62.08" y="219.0" font-size="3.0" fill="#555" text-anchor="end" textLength="21.7" lengthAdjust="spacingAndGlyphs" transform="rotate(-90 62.08 219.0)">g_Ruminococcus</text>
<text x="67.03" y="219.0" font-size="3.0" fill="#555" text-anchor="end" textLength="29.3" lengthAdjust="spacingAndGlyphs" transform="rotate(-90 67.03 219.0)">f_Oscillospiraceae</text>
<text x="71.97" y="219.0" font-size="3.0" fill="#555" text-anchor="end" textLength="30.3" lengthAdjust="spacingAndGlyphs" transform="rotate(-90 71.97 219.0)">o_Oscillospirales_order</text>
<text x="76.92" y="219.0" font-size="3.0" fill="#555" text-anchor="end" textLength="23.6" lengthAdjust="spacingAndGlyphs" transform="rotate(-90 76.92 219.0)">g_Colidextribacter</text>
<text x="81.87" y="219.0" font-size="3.0" fill="#555" text-anchor="end" textLength="24.6" lengthAdjust="spacingAndGlyphs" transform="rotate(-90 81.87 219.0)">g_Oscillibacter</text>
<text x="86.82" y="219.0" font-size="3.0" fill="#555" text-anchor="end" textLength="30.3" lengthAdjust="spacingAndGlyphs" transform="rotate(-90 86.82 219.0)">g_Ruminococcaceae_UCG</text>
<text x="91.77" y="219.0" font-size="3.0" fill="#555" text-anchor="end" textLength="34.1" lengthAdjust="spacingAndGlyphs" transform="rotate(-90 91.77 219.0)">g_Lachnospiraceae_UCG_006</text>
<text x="96.72" y="219.0" font-size="3.0" fill="#555" text-anchor="end" textLength="22.7" lengthAdjust="spacingAndGlyphs" transform="rotate(-90 96.72 219.0)">g_Desulfovibrio_family</text>
<text x="101.67" y="219.0" font-size="3.0" fill="#555" text-anchor="end" textLength="16.0" lengthAdjust="spacingAndGlyphs" transform="rotate(-90 101.67 219.0)">g_A2</text>
<text x="106.62" y="219.0" font-size="3.0" fill="#555" text-anchor="end" textLength="16.0" lengthAdjust="spacingAndGlyphs" transform="rotate(-90 106.62 219.0)">g_GCA_900</text>
<text x="111.57" y="219.0" font-size="3.0" fill="#555" text-anchor="end" textLength="21.7" lengthAdjust="spacingAndGlyphs" transform="rotate(-90 111.57 219.0)">g_Roseburia</text>
<text x="116.52" y="219.0" font-size="3.0" fill="#555" text-anchor="end" textLength="21.7" lengthAdjust="spacingAndGlyphs" transform="rotate(-90 116.52 219.0)">g_Anaerotruncus</text>
<text x="121.47" y="219.0" font-size="3.0" fill="#555" text-anchor="end" textLength="18.9" lengthAdjust="spacingAndGlyphs" transform="rotate(-90 121.47 219.0)">g_Tyzzerella</text>
<text x="126.42" y="219.0" font-size="3.0" fill="#555" text-anchor="end" textLength="30.3" lengthAdjust="spacingAndGlyphs" transform="rotate(-90 126.42 219.0)">g_Family_XIII_UCG_001</text>
<text x="131.38" y="219.0" font-size="3.0" fill="#555" text-anchor="end" textLength="27.4" lengthAdjust="spacingAndGlyphs" transform="rotate(-90 131.38 219.0)">c_Clostridia_vadin</text>
<text x="137.38" y="216.0" font-size="3.0" fill="#555" textLength="18.0" lengthAdjust="spacingAndGlyphs" transform="rotate(-90 137.38 216.0)">k_Clostridia</text>
<text x="142.32" y="216.0" font-size="3.0" fill="#555" textLength="9.5" lengthAdjust="spacingAndGlyphs" transform="rotate(-90 142.32 216.0)">f_A03</text>
<text x="147.28" y="216.0" font-size="3.0" fill="#555" textLength="9.5" lengthAdjust="spacingAndGlyphs" transform="rotate(-90 147.28 216.0)">g_A03</text>
<text x="152.22" y="216.0" font-size="3.0" fill="#555" textLength="9.5" lengthAdjust="spacingAndGlyphs" transform="rotate(-90 152.22 216.0)">p_A03</text>
<text x="157.18" y="216.0" font-size="3.0" fill="#555" textLength="9.5" lengthAdjust="spacingAndGlyphs" transform="rotate(-90 157.18 216.0)">c_A03</text>
<text x="162.12" y="216.0" font-size="3.0" fill="#555" textLength="21.8" lengthAdjust="spacingAndGlyphs" transform="rotate(-90 162.12 216.0)">o_Erysipelotrichales</text>
<text x="167.08" y="216.0" font-size="3.0" fill="#555" textLength="25.1" lengthAdjust="spacingAndGlyphs" transform="rotate(-90 167.08 216.0)">f_Erysipelotrichaceae</text>
<text x="172.03" y="216.0" font-size="3.0" fill="#555" textLength="32.3" lengthAdjust="spacingAndGlyphs" transform="rotate(-90 172.03 216.0)">g_Dubosiella_Erysipelot</text>
<text x="176.97" y="216.0" font-size="3.0" fill="#555" textLength="24.3" lengthAdjust="spacingAndGlyphs" transform="rotate(-90 176.97 216.0)">g_Turicibacter_genus</text>
<text x="181.93" y="216.0" font-size="3.0" fill="#555" textLength="28.5" lengthAdjust="spacingAndGlyphs" transform="rotate(-90 181.93 216.0)">f_Peptostreptococcaceae</text>
<text x="186.88" y="216.0" font-size="3.0" fill="#555" textLength="16.1" lengthAdjust="spacingAndGlyphs" transform="rotate(-90 186.88 216.0)">g_Romboutsia</text>
<text x="191.83" y="216.0" font-size="3.0" fill="#555" textLength="22.8" lengthAdjust="spacingAndGlyphs" transform="rotate(-90 191.83 216.0)">o_Peptostreptococcales</text>
<text x="196.78" y="216.0" font-size="3.0" fill="#555" textLength="24.3" lengthAdjust="spacingAndGlyphs" transform="rotate(-90 196.78 216.0)">f_Streptococcaceae</text>
<text x="201.72" y="216.0" font-size="3.0" fill="#555" textLength="27.5" lengthAdjust="spacingAndGlyphs" transform="rotate(-90 201.72 216.0)">g_Lactococcus_lactis</text>
<text x="206.67" y="216.0" font-size="3.0" fill="#555" textLength="25.1" lengthAdjust="spacingAndGlyphs" transform="rotate(-90 206.67 216.0)">o_Lactobacillales</text>
<text x="211.62" y="216.0" font-size="3.0" fill="#555" textLength="28.5" lengthAdjust="spacingAndGlyphs" transform="rotate(-90 211.62 216.0)">c_Bacilli_Firmicutes</text>
<line x1="278.20" y1="144.40" x2="278.20" y2="252.80" stroke="#111" stroke-width="1.2"/>
<line x1="278.20" y1="252.30" x2="403.70" y2="252.30" stroke="#111" stroke-width="1.2"/>
<line x1="274.60" y1="252.30" x2="278.20" y2="252.30" stroke="#111" stroke-width="1.0"/>
<line x1="276.00" y1="246.93" x2="278.20" y2="246.93" stroke="#111" stroke-width="1.0"/>
<line x1="276.00" y1="241.56" x2="278.20" y2="241.56" stroke="#111" stroke-width="1.0"/>
<line x1="276.00" y1="236.19" x2="278.20" y2="236.19" stroke="#111" stroke-width="1.0"/>
<line x1="276.00" y1="230.82" x2="278.20" y2="230.82" stroke="#111" stroke-width="1.0"/>
<line x1="276.00" y1="225.45" x2="278.20" y2="225.45" stroke="#111" stroke-width="1.0"/>
<line x1="276.00" y1="220.08" x2="278.20" y2="220.08" stroke="#111" stroke-width="1.0"/>
<line x1="276.00" y1="214.71" x2="278.20" y2="214.71" stroke="#111" stroke-width="1.0"/>
<line x1="276.00" y1="209.34" x2="278.20" y2="209.34" stroke="#111" stroke-width="1.0"/>
<line x1="276.00" y1="203.97" x2="278.20" y2="203.97" stroke="#111" stroke-width="1.0"/>
<line x1="274.60" y1="198.60" x2="278.20" y2="198.60" stroke="#111" stroke-width="1.0"/>
<line x1="276.00" y1="193.23" x2="278.20" y2="193.23" stroke="#111" stroke-width="1.0"/>
<line x1="276.00" y1="187.86" x2="278.20" y2="187.86" stroke="#111" stroke-width="1.0"/>
<line x1="276.00" y1="182.49" x2="278.20" y2="182.49" stroke="#111" stroke-width="1.0"/>
<line x1="276.00" y1="177.12" x2="278.20" y2="177.12" stroke="#111" stroke-width="1.0"/>
<line x1="276.00" y1="171.75" x2="278.20" y2="171.75" stroke="#111" stroke-width="1.0"/>
<line x1="276.00" y1="166.38" x2="278.20" y2="166.38" stroke="#111" stroke-width="1.0"/>
<line x1="276.00" y1="161.01" x2="278.20" y2="161.01" stroke="#111" stroke-width="1.0"/>
<line x1="276.00" y1="155.64" x2="278.20" y2="155.64" stroke="#111" stroke-width="1.0"/>
<line x1="276.00" y1="150.27" x2="278.20" y2="150.27" stroke="#111" stroke-width="1.0"/>
<line x1="274.60" y1="144.90" x2="278.20" y2="144.90" stroke="#111" stroke-width="1.0"/>
<text x="273.40" y="146.90" font-size="5.6" text-anchor="end" font-weight="bold" fill="#222" stroke="#222" stroke-width="0.20">1.0</text>
<text x="273.40" y="200.60" font-size="5.6" text-anchor="end" font-weight="bold" fill="#222" stroke="#222" stroke-width="0.20">0.5</text>
<text x="273.40" y="254.30" font-size="5.6" text-anchor="end" font-weight="bold" fill="#222" stroke="#222" stroke-width="0.20">0.0</text>
<text x="261.30" y="198.60" font-size="7.2" text-anchor="middle" fill="#222" stroke="#222" stroke-width="0.09" transform="rotate(-90 261.30 198.60)">Relative abundance</text>
<rect x="291.20" y="213.50" width="24.50" height="38.80" fill="#F27C84" stroke="none" stroke-width="0"/>
<rect x="291.20" y="152.50" width="24.50" height="61.00" fill="#7D8A21" stroke="none" stroke-width="0"/>
<rect x="291.20" y="148.30" width="24.50" height="4.20" fill="#111" stroke="none" stroke-width="0"/>
<rect x="291.20" y="146.90" width="24.50" height="1.40" fill="#D9C3AC" stroke="none" stroke-width="0"/>
<rect x="291.20" y="144.90" width="24.50" height="2.00" fill="#111" stroke="none" stroke-width="0"/>
<line x1="291.20" y1="213.50" x2="315.70" y2="213.50" stroke="#111" stroke-width="0.7"/>
<line x1="291.20" y1="152.50" x2="315.70" y2="152.50" stroke="#111" stroke-width="0.7"/>
<line x1="291.20" y1="148.30" x2="315.70" y2="148.30" stroke="#111" stroke-width="0.7"/>
<line x1="291.20" y1="146.90" x2="315.70" y2="146.90" stroke="#111" stroke-width="0.7"/>
<line x1="291.20" y1="144.90" x2="315.70" y2="144.90" stroke="#111" stroke-width="0.7"/>
<rect x="291.20" y="144.90" width="24.50" height="107.40" fill="none" stroke="#111" stroke-width="1.1"/>
<rect x="329.20" y="190.70" width="24.20" height="61.60" fill="#F27C84" stroke="none" stroke-width="0"/>
<rect x="329.20" y="167.40" width="24.20" height="23.30" fill="#7D8A21" stroke="none" stroke-width="0"/>
<rect x="329.20" y="161.30" width="24.20" height="6.10" fill="#C9A052" stroke="none" stroke-width="0"/>
<rect x="329.20" y="151.30" width="24.20" height="10.00" fill="#8EB5DF" stroke="none" stroke-width="0"/>
<rect x="329.20" y="148.60" width="24.20" height="2.70" fill="#6A8A6A" stroke="none" stroke-width="0"/>
<rect x="329.20" y="146.60" width="24.20" height="2.00" fill="#8A7A70" stroke="none" stroke-width="0"/>
<rect x="329.20" y="144.90" width="24.20" height="1.70" fill="#111" stroke="none" stroke-width="0"/>
<line x1="329.20" y1="190.70" x2="353.40" y2="190.70" stroke="#111" stroke-width="0.7"/>
<line x1="329.20" y1="167.40" x2="353.40" y2="167.40" stroke="#111" stroke-width="0.7"/>
<line x1="329.20" y1="161.30" x2="353.40" y2="161.30" stroke="#111" stroke-width="0.7"/>
<line x1="329.20" y1="151.30" x2="353.40" y2="151.30" stroke="#111" stroke-width="0.7"/>
<line x1="329.20" y1="148.60" x2="353.40" y2="148.60" stroke="#111" stroke-width="0.7"/>
<line x1="329.20" y1="146.60" x2="353.40" y2="146.60" stroke="#111" stroke-width="0.7"/>
<line x1="329.20" y1="144.90" x2="353.40" y2="144.90" stroke="#111" stroke-width="0.7"/>
<rect x="329.20" y="144.90" width="24.20" height="107.40" fill="none" stroke="#111" stroke-width="1.1"/>
<rect x="366.50" y="217.70" width="24.00" height="34.60" fill="#F27C84" stroke="none" stroke-width="0"/>
<rect x="366.50" y="157.60" width="24.00" height="60.10" fill="#7D8A21" stroke="none" stroke-width="0"/>
<rect x="366.50" y="156.40" width="24.00" height="1.20" fill="#111" stroke="none" stroke-width="0"/>
<rect x="366.50" y="154.50" width="24.00" height="1.90" fill="#8EB5DF" stroke="none" stroke-width="0"/>
<rect x="366.50" y="148.80" width="24.00" height="5.70" fill="#B17ED6" stroke="none" stroke-width="0"/>
<rect x="366.50" y="144.90" width="24.00" height="3.90" fill="#222" stroke="none" stroke-width="0"/>
<line x1="366.50" y1="217.70" x2="390.50" y2="217.70" stroke="#111" stroke-width="0.7"/>
<line x1="366.50" y1="157.60" x2="390.50" y2="157.60" stroke="#111" stroke-width="0.7"/>
<line x1="366.50" y1="156.40" x2="390.50" y2="156.40" stroke="#111" stroke-width="0.7"/>
<line x1="366.50" y1="154.50" x2="390.50" y2="154.50" stroke="#111" stroke-width="0.7"/>
<line x1="366.50" y1="148.80" x2="390.50" y2="148.80" stroke="#111" stroke-width="0.7"/>
<line x1="366.50" y1="144.90" x2="390.50" y2="144.90" stroke="#111" stroke-width="0.7"/>
<rect x="366.50" y="144.90" width="24.00" height="107.40" fill="none" stroke="#111" stroke-width="1.1"/>
<line x1="303.40" y1="252.30" x2="303.40" y2="254.90" stroke="#111" stroke-width="1.1"/>
<line x1="341.30" y1="252.30" x2="341.30" y2="254.90" stroke="#111" stroke-width="1.1"/>
<line x1="378.50" y1="252.30" x2="378.50" y2="254.90" stroke="#111" stroke-width="1.1"/>
<text x="303.50" y="263.00" font-size="6.2" text-anchor="middle" font-weight="bold" fill="#222" stroke="#222" stroke-width="0.22">WT-NCD</text>
<text x="341.00" y="263.00" font-size="6.2" text-anchor="middle" font-weight="bold" fill="#222" stroke="#222" stroke-width="0.22">WT-HFD</text>
<text x="378.60" y="263.00" font-size="6.2" text-anchor="middle" font-weight="bold" fill="#222" stroke="#222" stroke-width="0.22">CB2R<tspan font-size="4" dy="-2">-/-</tspan><tspan dy="2">-NCD</tspan></text>
<rect x="407.40" y="145.90" width="8.80" height="4.80" fill="#F27C84" stroke="#111" stroke-width="0.9"/>
<text x="420.80" y="150.50" font-size="6.3" text-anchor="start" fill="#222" stroke="#222" stroke-width="0.08">Firmicutes</text>
<rect x="407.40" y="156.99" width="8.80" height="4.80" fill="#7D8A21" stroke="#111" stroke-width="0.9"/>
<text x="420.80" y="161.59" font-size="6.3" text-anchor="start" fill="#222" stroke="#222" stroke-width="0.08">Bacteroidota</text>
<rect x="407.40" y="168.08" width="8.80" height="4.80" fill="#C9A052" stroke="#111" stroke-width="0.9"/>
<text x="420.80" y="172.68" font-size="6.3" text-anchor="start" fill="#222" stroke="#222" stroke-width="0.08">Desulfobacterota</text>
<rect x="407.40" y="179.17" width="8.80" height="4.80" fill="#8EB5DF" stroke="#111" stroke-width="0.9"/>
<text x="420.80" y="183.77" font-size="6.3" text-anchor="start" fill="#222" stroke="#222" stroke-width="0.08">Actinobacteriota</text>
<rect x="407.40" y="190.26" width="8.80" height="4.80" fill="#B17ED6" stroke="#111" stroke-width="0.9"/>
<text x="420.80" y="194.86" font-size="6.3" text-anchor="start" fill="#222" stroke="#222" stroke-width="0.08">Verrucomicrobiota</text>
<rect x="407.40" y="201.35" width="8.80" height="4.80" fill="#A9E2B3" stroke="#111" stroke-width="0.9"/>
<text x="420.80" y="205.95" font-size="6.3" text-anchor="start" fill="#222" stroke="#222" stroke-width="0.08">Patescibacteria</text>
<rect x="407.40" y="212.44" width="8.80" height="4.80" fill="#D9C3AC" stroke="#111" stroke-width="0.9"/>
<text x="420.80" y="217.04" font-size="6.3" text-anchor="start" fill="#222" stroke="#222" stroke-width="0.08">Campilobacterota</text>
<rect x="407.40" y="223.53" width="8.80" height="4.80" fill="#C77BA9" stroke="#111" stroke-width="0.9"/>
<text x="420.80" y="228.13" font-size="6.3" text-anchor="start" fill="#222" stroke="#222" stroke-width="0.08">Proteobacteria</text>
<rect x="407.40" y="234.62" width="8.80" height="4.80" fill="#7E8CE0" stroke="#111" stroke-width="0.9"/>
<text x="420.80" y="239.22" font-size="6.3" text-anchor="start" fill="#222" stroke="#222" stroke-width="0.08">Deferribacterota</text>
<rect x="407.40" y="245.71" width="8.80" height="4.80" fill="#7F7F7F" stroke="#111" stroke-width="0.9"/>
<text x="420.80" y="250.31" font-size="6.3" text-anchor="start" fill="#222" stroke="#222" stroke-width="0.08">Others</text>
<line x1="40.20" y1="283.20" x2="286.80" y2="283.20" stroke="#111" stroke-width="1.3"/>
<line x1="286.80" y1="283.20" x2="286.80" y2="386.20" stroke="#111" stroke-width="1.3"/>
<line x1="39.60" y1="386.20" x2="287.40" y2="386.20" stroke="#111" stroke-width="1.3"/>
<line x1="40.20" y1="283.20" x2="40.20" y2="314.60" stroke="#111" stroke-width="1.3"/>
<line x1="40.20" y1="322.20" x2="40.20" y2="333.10" stroke="#111" stroke-width="1.3"/>
<line x1="40.20" y1="340.90" x2="40.20" y2="386.20" stroke="#111" stroke-width="1.3"/>
<line x1="37.60" y1="314.60" x2="41.80" y2="314.60" stroke="#111" stroke-width="1.2"/>
<line x1="37.60" y1="322.20" x2="41.80" y2="322.20" stroke="#111" stroke-width="1.2"/>
<line x1="37.60" y1="333.10" x2="41.80" y2="333.10" stroke="#111" stroke-width="1.2"/>
<line x1="37.60" y1="340.90" x2="41.80" y2="340.90" stroke="#111" stroke-width="1.2"/>
<line x1="36.60" y1="283.40" x2="40.20" y2="283.40" stroke="#111" stroke-width="1.1"/>
<text x="34.80" y="285.80" font-size="6.9" text-anchor="end" font-weight="bold" fill="#222" stroke="#222" stroke-width="0.24">3.5</text>
<line x1="36.60" y1="297.70" x2="40.20" y2="297.70" stroke="#111" stroke-width="1.1"/>
<text x="34.80" y="300.10" font-size="6.9" text-anchor="end" font-weight="bold" fill="#222" stroke="#222" stroke-width="0.24">2.0</text>
<line x1="36.60" y1="312.40" x2="40.20" y2="312.40" stroke="#111" stroke-width="1.1"/>
<text x="34.80" y="314.80" font-size="6.9" text-anchor="end" font-weight="bold" fill="#222" stroke="#222" stroke-width="0.24">0.5</text>
<line x1="36.60" y1="328.60" x2="40.20" y2="328.60" stroke="#111" stroke-width="1.1"/>
<text x="34.80" y="331.00" font-size="6.9" text-anchor="end" font-weight="bold" fill="#222" stroke="#222" stroke-width="0.24">0.1</text>
<line x1="36.60" y1="341.00" x2="40.20" y2="341.00" stroke="#111" stroke-width="1.1"/>
<text x="34.80" y="343.40" font-size="6.9" text-anchor="end" font-weight="bold" fill="#222" stroke="#222" stroke-width="0.24">0.02</text>
<line x1="36.60" y1="356.00" x2="40.20" y2="356.00" stroke="#111" stroke-width="1.1"/>
<text x="34.80" y="358.40" font-size="6.9" text-anchor="end" font-weight="bold" fill="#222" stroke="#222" stroke-width="0.24">0.01</text>
<line x1="36.60" y1="370.90" x2="40.20" y2="370.90" stroke="#111" stroke-width="1.1"/>
<text x="34.80" y="373.30" font-size="6.9" text-anchor="end" font-weight="bold" fill="#222" stroke="#222" stroke-width="0.24">0.0</text>
<line x1="56.40" y1="386.20" x2="56.40" y2="390.80" stroke="#111" stroke-width="1.1"/>
<text x="57.60" y="399.40" font-size="7.3" text-anchor="end" font-weight="bold" fill="#222" stroke="#222" stroke-width="0.26" transform="rotate(-30 57.60 399.40)">f_Muribaculaceae</text>
<line x1="91.80" y1="386.20" x2="91.80" y2="390.80" stroke="#111" stroke-width="1.1"/>
<text x="93.00" y="399.40" font-size="7.3" text-anchor="end" font-weight="bold" fill="#222" stroke="#222" stroke-width="0.26" transform="rotate(-30 93.00 399.40)">f_Atopobiaceae</text>
<line x1="127.90" y1="386.20" x2="127.90" y2="390.80" stroke="#111" stroke-width="1.1"/>
<text x="129.10" y="399.40" font-size="7.3" text-anchor="end" font-weight="bold" fill="#222" stroke="#222" stroke-width="0.26" transform="rotate(-30 129.10 399.40)">f_Eubacterium_coprostanoligenes_group</text>
<line x1="163.30" y1="386.20" x2="163.30" y2="390.80" stroke="#111" stroke-width="1.1"/>
<text x="164.50" y="399.40" font-size="7.3" text-anchor="end" font-weight="bold" fill="#222" stroke="#222" stroke-width="0.26" transform="rotate(-30 164.50 399.40)">f_Marinifilaceae</text>
<line x1="198.80" y1="386.20" x2="198.80" y2="390.80" stroke="#111" stroke-width="1.1"/>
<text x="200.00" y="399.40" font-size="7.3" text-anchor="end" font-weight="bold" fill="#222" stroke="#222" stroke-width="0.26" transform="rotate(-30 200.00 399.40)">f_Gastranaerophilales</text>
<line x1="234.40" y1="386.20" x2="234.40" y2="390.80" stroke="#111" stroke-width="1.1"/>
<text x="235.60" y="399.40" font-size="7.3" text-anchor="end" font-weight="bold" fill="#222" stroke="#222" stroke-width="0.26" transform="rotate(-30 235.60 399.40)">f_Eggerthellaceae</text>
<line x1="269.90" y1="386.20" x2="269.90" y2="390.80" stroke="#111" stroke-width="1.1"/>
<text x="271.10" y="399.40" font-size="7.3" text-anchor="end" font-weight="bold" fill="#222" stroke="#222" stroke-width="0.26" transform="rotate(-30 271.10 399.40)">f_Streptococcaceae</text>
<path d="M46.90,309.60 C47.25,309.83 48.50,310.60 49.00,310.98 C49.50,311.36 49.90,311.59 49.90,311.90 C49.90,312.21 49.50,312.44 49.00,312.82 C48.50,313.20 47.25,313.97 46.90,314.20 L46.90,314.20 C46.55,313.97 45.30,313.20 44.80,312.82 C44.30,312.44 43.90,312.21 43.90,311.90 C43.90,311.59 44.30,311.36 44.80,310.98 C45.30,310.60 46.55,309.83 46.90,309.60 Z" fill="#5F98CC" stroke="none"/>
<path d="M46.90,309.60 C47.25,309.83 48.50,310.60 49.00,310.98 C49.50,311.36 49.90,311.59 49.90,311.90 C49.90,312.21 49.50,312.44 49.00,312.82 C48.50,313.20 47.25,313.97 46.90,314.20" fill="none" stroke="#1a1a1a" stroke-width="0.6"/>
<path d="M46.90,309.60 C46.55,309.83 45.30,310.60 44.80,310.98 C44.30,311.36 43.90,311.59 43.90,311.90 C43.90,312.21 44.30,312.44 44.80,312.82 C45.30,313.20 46.55,313.97 46.90,314.20" fill="none" stroke="#1a1a1a" stroke-width="0.6"/>
<path d="M56.40,314.00 C56.50,314.13 56.90,314.67 57.00,314.80 L55.80,314.80 C55.90,314.67 56.30,314.13 56.40,314.00 Z" fill="#EE93A6" stroke="none"/>
<path d="M56.40,314.00 C56.50,314.13 56.90,314.67 57.00,314.80" fill="none" stroke="#1a1a1a" stroke-width="0.5"/>
<path d="M56.40,314.00 C56.30,314.13 55.90,314.67 55.80,314.80" fill="none" stroke="#1a1a1a" stroke-width="0.5"/>
<line x1="55.80" y1="314.80" x2="57.00" y2="314.80" stroke="#1a1a1a" stroke-width="0.5"/>
<path d="M58.00,321.90 C58.05,322.42 58.18,323.82 58.30,325.00 C58.42,326.18 58.58,327.58 58.70,329.00 C58.82,330.42 58.95,332.75 59.00,333.50 L53.80,333.50 C53.85,332.75 53.98,330.42 54.10,329.00 C54.22,327.58 54.38,326.18 54.50,325.00 C54.62,323.82 54.75,322.42 54.80,321.90 Z" fill="#EE93A6" stroke="none"/>
<path d="M58.00,321.90 C58.05,322.42 58.18,323.82 58.30,325.00 C58.42,326.18 58.58,327.58 58.70,329.00 C58.82,330.42 58.95,332.75 59.00,333.50" fill="none" stroke="#1a1a1a" stroke-width="0.9"/>
<path d="M54.80,321.90 C54.75,322.42 54.62,323.82 54.50,325.00 C54.38,326.18 54.22,327.58 54.10,329.00 C53.98,330.42 53.85,332.75 53.80,333.50" fill="none" stroke="#1a1a1a" stroke-width="0.9"/>
<line x1="54.54" y1="331.60" x2="58.26" y2="331.60" stroke="#1a1a1a" stroke-width="0.7"/>
<path d="M59.00,340.40 C58.90,342.00 58.62,346.40 58.40,350.00 C58.18,353.60 57.92,358.33 57.70,362.00 C57.48,365.67 57.24,369.33 57.10,372.00 C56.96,374.67 56.89,375.67 56.85,378.00 C56.81,380.33 56.85,384.67 56.85,386.00 L55.95,386.00 C55.95,384.67 55.99,380.33 55.95,378.00 C55.91,375.67 55.84,374.67 55.70,372.00 C55.56,369.33 55.32,365.67 55.10,362.00 C54.88,358.33 54.62,353.60 54.40,350.00 C54.18,346.40 53.90,342.00 53.80,340.40 Z" fill="#EE93A6" stroke="none"/>
<path d="M59.00,340.40 C58.90,342.00 58.62,346.40 58.40,350.00 C58.18,353.60 57.92,358.33 57.70,362.00 C57.48,365.67 57.24,369.33 57.10,372.00 C56.96,374.67 56.89,375.67 56.85,378.00 C56.81,380.33 56.85,384.67 56.85,386.00" fill="none" stroke="#1a1a1a" stroke-width="0.9"/>
<path d="M53.80,340.40 C53.90,342.00 54.18,346.40 54.40,350.00 C54.62,353.60 54.88,358.33 55.10,362.00 C55.32,365.67 55.56,369.33 55.70,372.00 C55.84,374.67 55.91,375.67 55.95,378.00 C55.99,380.33 55.95,384.67 55.95,386.00" fill="none" stroke="#1a1a1a" stroke-width="0.9"/>
<path d="M65.70,307.40 C65.95,307.75 66.70,308.85 67.20,309.50 C67.70,310.15 68.70,310.68 68.70,311.30 C68.70,311.92 67.70,312.58 67.20,313.20 C66.70,313.82 65.95,314.70 65.70,315.00 L65.70,315.00 C65.45,314.70 64.70,313.82 64.20,313.20 C63.70,312.58 62.70,311.92 62.70,311.30 C62.70,310.68 63.70,310.15 64.20,309.50 C64.70,308.85 65.45,307.75 65.70,307.40 Z" fill="#F2A95A" stroke="none"/>
<path d="M65.70,307.40 C65.95,307.75 66.70,308.85 67.20,309.50 C67.70,310.15 68.70,310.68 68.70,311.30 C68.70,311.92 67.70,312.58 67.20,313.20 C66.70,313.82 65.95,314.70 65.70,315.00" fill="none" stroke="#1a1a1a" stroke-width="0.9"/>
<path d="M65.70,307.40 C65.45,307.75 64.70,308.85 64.20,309.50 C63.70,310.15 62.70,310.68 62.70,311.30 C62.70,311.92 63.70,312.58 64.20,313.20 C64.70,313.82 65.45,314.70 65.70,315.00" fill="none" stroke="#1a1a1a" stroke-width="0.9"/>
<path d="M66.90,321.90 C66.90,323.83 66.90,331.57 66.90,333.50 L64.50,333.50 C64.50,331.57 64.50,323.83 64.50,321.90 Z" fill="#F2A95A" stroke="none"/>
<path d="M66.90,321.90 C66.90,323.83 66.90,331.57 66.90,333.50" fill="none" stroke="#1a1a1a" stroke-width="0.9"/>
<path d="M64.50,321.90 C64.50,323.83 64.50,331.57 64.50,333.50" fill="none" stroke="#1a1a1a" stroke-width="0.9"/>
<path d="M66.60,340.40 C66.57,348.00 66.43,378.40 66.40,386.00 L65.00,386.00 C64.97,378.40 64.83,348.00 64.80,340.40 Z" fill="#5a3a18" stroke="none"/>
<path d="M66.60,340.40 C66.57,348.00 66.43,378.40 66.40,386.00" fill="none" stroke="#1a1a1a" stroke-width="0.9"/>
<path d="M64.80,340.40 C64.83,348.00 64.97,378.40 65.00,386.00" fill="none" stroke="#1a1a1a" stroke-width="0.9"/>
<path d="M82.30,364.00 C82.45,364.33 82.98,365.25 83.20,366.00 C83.42,366.75 83.33,367.75 83.60,368.50 C83.87,369.25 84.77,369.92 84.80,370.50 C84.83,371.08 84.22,371.33 83.80,372.00 C83.38,372.67 82.55,374.08 82.30,374.50 L82.30,374.50 C82.05,374.08 81.22,372.67 80.80,372.00 C80.38,371.33 79.77,371.08 79.80,370.50 C79.83,369.92 80.73,369.25 81.00,368.50 C81.27,367.75 81.18,366.75 81.40,366.00 C81.62,365.25 82.15,364.33 82.30,364.00 Z" fill="#5F98CC" stroke="none"/>
<path d="M82.30,364.00 C82.45,364.33 82.98,365.25 83.20,366.00 C83.42,366.75 83.33,367.75 83.60,368.50 C83.87,369.25 84.77,369.92 84.80,370.50 C84.83,371.08 84.22,371.33 83.80,372.00 C83.38,372.67 82.55,374.08 82.30,374.50" fill="none" stroke="#1a1a1a" stroke-width="0.9"/>
<path d="M82.30,364.00 C82.15,364.33 81.62,365.25 81.40,366.00 C81.18,366.75 81.27,367.75 81.00,368.50 C80.73,369.25 79.83,369.92 79.80,370.50 C79.77,371.08 80.38,371.33 80.80,372.00 C81.22,372.67 82.05,374.08 82.30,374.50" fill="none" stroke="#1a1a1a" stroke-width="0.9"/>
<path d="M91.80,314.30 C91.88,314.43 92.22,314.97 92.30,315.10 L91.30,315.10 C91.38,314.97 91.72,314.43 91.80,314.30 Z" fill="#EE93A6" stroke="none"/>
<path d="M91.80,314.30 C91.88,314.43 92.22,314.97 92.30,315.10" fill="none" stroke="#1a1a1a" stroke-width="0.4"/>
<path d="M91.80,314.30 C91.72,314.43 91.38,314.97 91.30,315.10" fill="none" stroke="#1a1a1a" stroke-width="0.4"/>
<line x1="91.30" y1="315.10" x2="92.30" y2="315.10" stroke="#1a1a1a" stroke-width="0.4"/>
<path d="M94.40,321.90 C94.38,322.25 94.43,323.07 94.30,324.00 C94.17,324.93 93.68,326.50 93.60,327.50 C93.52,328.50 93.77,329.00 93.80,330.00 C93.83,331.00 93.80,332.92 93.80,333.50 L89.80,333.50 C89.80,332.92 89.77,331.00 89.80,330.00 C89.83,329.00 90.08,328.50 90.00,327.50 C89.92,326.50 89.43,324.93 89.30,324.00 C89.17,323.07 89.22,322.25 89.20,321.90 Z" fill="#EE93A6" stroke="none"/>
<path d="M94.40,321.90 C94.38,322.25 94.43,323.07 94.30,324.00 C94.17,324.93 93.68,326.50 93.60,327.50 C93.52,328.50 93.77,329.00 93.80,330.00 C93.83,331.00 93.80,332.92 93.80,333.50" fill="none" stroke="#1a1a1a" stroke-width="0.9"/>
<path d="M89.20,321.90 C89.22,322.25 89.17,323.07 89.30,324.00 C89.43,324.93 89.92,326.50 90.00,327.50 C90.08,328.50 89.83,329.00 89.80,330.00 C89.77,331.00 89.80,332.92 89.80,333.50" fill="none" stroke="#1a1a1a" stroke-width="0.9"/>
<line x1="90.39" y1="328.50" x2="93.21" y2="328.50" stroke="#1a1a1a" stroke-width="0.7"/>
<path d="M93.70,340.40 C93.68,343.67 93.67,354.23 93.60,360.00 C93.53,365.77 93.42,370.67 93.30,375.00 C93.18,379.33 92.97,384.17 92.90,386.00 L90.70,386.00 C90.63,384.17 90.42,379.33 90.30,375.00 C90.18,370.67 90.07,365.77 90.00,360.00 C89.93,354.23 89.92,343.67 89.90,340.40 Z" fill="#EE93A6" stroke="none"/>
<path d="M93.70,340.40 C93.68,343.67 93.67,354.23 93.60,360.00 C93.53,365.77 93.42,370.67 93.30,375.00 C93.18,379.33 92.97,384.17 92.90,386.00" fill="none" stroke="#1a1a1a" stroke-width="0.9"/>
<path d="M89.90,340.40 C89.92,343.67 89.93,354.23 90.00,360.00 C90.07,365.77 90.18,370.67 90.30,375.00 C90.42,379.33 90.63,384.17 90.70,386.00" fill="none" stroke="#1a1a1a" stroke-width="0.9"/>
<path d="M101.30,330.50 C101.40,330.75 101.77,331.50 101.90,332.00 C102.03,332.50 102.07,333.25 102.10,333.50 L100.50,333.50 C100.53,333.25 100.57,332.50 100.70,332.00 C100.83,331.50 101.20,330.75 101.30,330.50 Z" fill="#F2A95A" stroke="none"/>
<path d="M101.30,330.50 C101.40,330.75 101.77,331.50 101.90,332.00 C102.03,332.50 102.07,333.25 102.10,333.50" fill="none" stroke="#1a1a1a" stroke-width="0.5"/>
<path d="M101.30,330.50 C101.20,330.75 100.83,331.50 100.70,332.00 C100.57,332.50 100.53,333.25 100.50,333.50" fill="none" stroke="#1a1a1a" stroke-width="0.5"/>
<path d="M101.90,340.40 C102.10,341.67 102.80,345.07 103.10,348.00 C103.40,350.93 103.63,354.67 103.70,358.00 C103.77,361.33 103.63,364.67 103.50,368.00 C103.37,371.33 103.08,375.00 102.90,378.00 C102.72,381.00 102.48,384.67 102.40,386.00 L100.20,386.00 C100.12,384.67 99.88,381.00 99.70,378.00 C99.52,375.00 99.23,371.33 99.10,368.00 C98.97,364.67 98.83,361.33 98.90,358.00 C98.97,354.67 99.20,350.93 99.50,348.00 C99.80,345.07 100.50,341.67 100.70,340.40 Z" fill="#F2A95A" stroke="none"/>
<path d="M101.90,340.40 C102.10,341.67 102.80,345.07 103.10,348.00 C103.40,350.93 103.63,354.67 103.70,358.00 C103.77,361.33 103.63,364.67 103.50,368.00 C103.37,371.33 103.08,375.00 102.90,378.00 C102.72,381.00 102.48,384.67 102.40,386.00" fill="none" stroke="#1a1a1a" stroke-width="0.9"/>
<path d="M100.70,340.40 C100.50,341.67 99.80,345.07 99.50,348.00 C99.20,350.93 98.97,354.67 98.90,358.00 C98.83,361.33 98.97,364.67 99.10,368.00 C99.23,371.33 99.52,375.00 99.70,378.00 C99.88,381.00 100.12,384.67 100.20,386.00" fill="none" stroke="#1a1a1a" stroke-width="0.9"/>
<line x1="99.76" y1="370.50" x2="102.84" y2="370.50" stroke="#1a1a1a" stroke-width="0.7"/>
<path d="M117.80,356.00 C117.97,356.42 118.48,357.58 118.80,358.50 C119.12,359.42 119.65,360.58 119.70,361.50 C119.75,362.42 118.95,362.92 119.10,364.00 C119.25,365.08 120.57,366.67 120.60,368.00 C120.63,369.33 119.77,370.58 119.30,372.00 C118.83,373.42 118.05,375.75 117.80,376.50 L117.80,376.50 C117.55,375.75 116.77,373.42 116.30,372.00 C115.83,370.58 114.97,369.33 115.00,368.00 C115.03,366.67 116.35,365.08 116.50,364.00 C116.65,362.92 115.85,362.42 115.90,361.50 C115.95,360.58 116.48,359.42 116.80,358.50 C117.12,357.58 117.63,356.42 117.80,356.00 Z" fill="#5F98CC" stroke="none"/>
<path d="M117.80,356.00 C117.97,356.42 118.48,357.58 118.80,358.50 C119.12,359.42 119.65,360.58 119.70,361.50 C119.75,362.42 118.95,362.92 119.10,364.00 C119.25,365.08 120.57,366.67 120.60,368.00 C120.63,369.33 119.77,370.58 119.30,372.00 C118.83,373.42 118.05,375.75 117.80,376.50" fill="none" stroke="#1a1a1a" stroke-width="0.9"/>
<path d="M117.80,356.00 C117.63,356.42 117.12,357.58 116.80,358.50 C116.48,359.42 115.95,360.58 115.90,361.50 C115.85,362.42 116.65,362.92 116.50,364.00 C116.35,365.08 115.03,366.67 115.00,368.00 C114.97,369.33 115.83,370.58 116.30,372.00 C116.77,373.42 117.55,375.75 117.80,376.50" fill="none" stroke="#1a1a1a" stroke-width="0.9"/>
<path d="M127.90,300.00 C127.98,301.00 128.13,304.17 128.40,306.00 C128.67,307.83 129.13,309.53 129.50,311.00 C129.87,312.47 130.42,314.17 130.60,314.80 L125.20,314.80 C125.38,314.17 125.93,312.47 126.30,311.00 C126.67,309.53 127.13,307.83 127.40,306.00 C127.67,304.17 127.82,301.00 127.90,300.00 Z" fill="#EE93A6" stroke="none"/>
<path d="M127.90,300.00 C127.98,301.00 128.13,304.17 128.40,306.00 C128.67,307.83 129.13,309.53 129.50,311.00 C129.87,312.47 130.42,314.17 130.60,314.80" fill="none" stroke="#1a1a1a" stroke-width="0.9"/>
<path d="M127.90,300.00 C127.82,301.00 127.67,304.17 127.40,306.00 C127.13,307.83 126.67,309.53 126.30,311.00 C125.93,312.47 125.38,314.17 125.20,314.80" fill="none" stroke="#1a1a1a" stroke-width="0.9"/>
<path d="M130.60,321.90 C130.60,323.83 130.60,331.57 130.60,333.50 L125.20,333.50 C125.20,331.57 125.20,323.83 125.20,321.90 Z" fill="#EE93A6" stroke="none"/>
<path d="M130.60,321.90 C130.60,323.83 130.60,331.57 130.60,333.50" fill="none" stroke="#1a1a1a" stroke-width="0.9"/>
<path d="M125.20,321.90 C125.20,323.83 125.20,331.57 125.20,333.50" fill="none" stroke="#1a1a1a" stroke-width="0.9"/>
<path d="M130.60,340.40 C130.60,348.00 130.60,378.40 130.60,386.00 L125.20,386.00 C125.20,378.40 125.20,348.00 125.20,340.40 Z" fill="#EE93A6" stroke="none"/>
<path d="M130.60,340.40 C130.60,348.00 130.60,378.40 130.60,386.00" fill="none" stroke="#1a1a1a" stroke-width="0.9"/>
<path d="M125.20,340.40 C125.20,348.00 125.20,378.40 125.20,386.00" fill="none" stroke="#1a1a1a" stroke-width="0.9"/>
<line x1="125.88" y1="370.80" x2="129.93" y2="370.80" stroke="#1a1a1a" stroke-width="0.7"/>
<path d="M137.50,362.80 C137.68,363.25 138.33,364.63 138.60,365.50 C138.87,366.37 138.92,367.25 139.10,368.00 C139.28,368.75 139.77,369.25 139.70,370.00 C139.63,370.75 139.07,371.67 138.70,372.50 C138.33,373.33 137.70,374.58 137.50,375.00 L137.50,375.00 C137.30,374.58 136.67,373.33 136.30,372.50 C135.93,371.67 135.37,370.75 135.30,370.00 C135.23,369.25 135.72,368.75 135.90,368.00 C136.08,367.25 136.13,366.37 136.40,365.50 C136.67,364.63 137.32,363.25 137.50,362.80 Z" fill="#F2A95A" stroke="none"/>
<path d="M137.50,362.80 C137.68,363.25 138.33,364.63 138.60,365.50 C138.87,366.37 138.92,367.25 139.10,368.00 C139.28,368.75 139.77,369.25 139.70,370.00 C139.63,370.75 139.07,371.67 138.70,372.50 C138.33,373.33 137.70,374.58 137.50,375.00" fill="none" stroke="#1a1a1a" stroke-width="0.9"/>
<path d="M137.50,362.80 C137.32,363.25 136.67,364.63 136.40,365.50 C136.13,366.37 136.08,367.25 135.90,368.00 C135.72,368.75 135.23,369.25 135.30,370.00 C135.37,370.75 135.93,371.67 136.30,372.50 C136.67,373.33 137.30,374.58 137.50,375.00" fill="none" stroke="#1a1a1a" stroke-width="0.9"/>
<path d="M153.50,362.80 C153.63,363.17 154.10,364.30 154.30,365.00 C154.50,365.70 154.43,366.33 154.70,367.00 C154.97,367.67 155.87,368.33 155.90,369.00 C155.93,369.67 155.30,370.33 154.90,371.00 C154.50,371.67 153.73,372.67 153.50,373.00 L153.50,373.00 C153.27,372.67 152.50,371.67 152.10,371.00 C151.70,370.33 151.07,369.67 151.10,369.00 C151.13,368.33 152.03,367.67 152.30,367.00 C152.57,366.33 152.50,365.70 152.70,365.00 C152.90,364.30 153.37,363.17 153.50,362.80 Z" fill="#5F98CC" stroke="none"/>
<path d="M153.50,362.80 C153.63,363.17 154.10,364.30 154.30,365.00 C154.50,365.70 154.43,366.33 154.70,367.00 C154.97,367.67 155.87,368.33 155.90,369.00 C155.93,369.67 155.30,370.33 154.90,371.00 C154.50,371.67 153.73,372.67 153.50,373.00" fill="none" stroke="#1a1a1a" stroke-width="0.9"/>
<path d="M153.50,362.80 C153.37,363.17 152.90,364.30 152.70,365.00 C152.50,365.70 152.57,366.33 152.30,367.00 C152.03,367.67 151.13,368.33 151.10,369.00 C151.07,369.67 151.70,370.33 152.10,371.00 C152.50,371.67 153.27,372.67 153.50,373.00" fill="none" stroke="#1a1a1a" stroke-width="0.9"/>
<path d="M163.30,321.60 C163.43,322.00 163.83,323.10 164.10,324.00 C164.37,324.90 164.70,326.08 164.90,327.00 C165.10,327.92 165.30,328.75 165.30,329.50 C165.30,330.25 164.93,330.83 164.90,331.50 C164.87,332.17 165.07,333.17 165.10,333.50 L161.50,333.50 C161.53,333.17 161.73,332.17 161.70,331.50 C161.67,330.83 161.30,330.25 161.30,329.50 C161.30,328.75 161.50,327.92 161.70,327.00 C161.90,326.08 162.23,324.90 162.50,324.00 C162.77,323.10 163.17,322.00 163.30,321.60 Z" fill="#EE93A6" stroke="none"/>
<path d="M163.30,321.60 C163.43,322.00 163.83,323.10 164.10,324.00 C164.37,324.90 164.70,326.08 164.90,327.00 C165.10,327.92 165.30,328.75 165.30,329.50 C165.30,330.25 164.93,330.83 164.90,331.50 C164.87,332.17 165.07,333.17 165.10,333.50" fill="none" stroke="#1a1a1a" stroke-width="0.9"/>
<path d="M163.30,321.60 C163.17,322.00 162.77,323.10 162.50,324.00 C162.23,324.90 161.90,326.08 161.70,327.00 C161.50,327.92 161.30,328.75 161.30,329.50 C161.30,330.25 161.67,330.83 161.70,331.50 C161.73,332.17 161.53,333.17 161.50,333.50" fill="none" stroke="#1a1a1a" stroke-width="0.9"/>
<path d="M165.50,340.40 C165.40,343.67 165.10,354.23 164.90,360.00 C164.70,365.77 164.48,370.67 164.30,375.00 C164.12,379.33 163.88,384.17 163.80,386.00 L162.80,386.00 C162.72,384.17 162.48,379.33 162.30,375.00 C162.12,370.67 161.90,365.77 161.70,360.00 C161.50,354.23 161.20,343.67 161.10,340.40 Z" fill="#EE93A6" stroke="none"/>
<path d="M165.50,340.40 C165.40,343.67 165.10,354.23 164.90,360.00 C164.70,365.77 164.48,370.67 164.30,375.00 C164.12,379.33 163.88,384.17 163.80,386.00" fill="none" stroke="#1a1a1a" stroke-width="0.9"/>
<path d="M161.10,340.40 C161.20,343.67 161.50,354.23 161.70,360.00 C161.90,365.77 162.12,370.67 162.30,375.00 C162.48,379.33 162.72,384.17 162.80,386.00" fill="none" stroke="#1a1a1a" stroke-width="0.9"/>
<path d="M173.40,321.90 C173.48,322.25 173.77,323.15 173.90,324.00 C174.03,324.85 174.23,326.00 174.20,327.00 C174.17,328.00 173.82,328.92 173.70,330.00 C173.58,331.08 173.53,332.92 173.50,333.50 L172.10,333.50 C172.07,332.92 172.02,331.08 171.90,330.00 C171.78,328.92 171.43,328.00 171.40,327.00 C171.37,326.00 171.57,324.85 171.70,324.00 C171.83,323.15 172.12,322.25 172.20,321.90 Z" fill="#F2A95A" stroke="none"/>
<path d="M173.40,321.90 C173.48,322.25 173.77,323.15 173.90,324.00 C174.03,324.85 174.23,326.00 174.20,327.00 C174.17,328.00 173.82,328.92 173.70,330.00 C173.58,331.08 173.53,332.92 173.50,333.50" fill="none" stroke="#1a1a1a" stroke-width="0.9"/>
<path d="M172.20,321.90 C172.12,322.25 171.83,323.15 171.70,324.00 C171.57,324.85 171.37,326.00 171.40,327.00 C171.43,328.00 171.78,328.92 171.90,330.00 C172.02,331.08 172.07,332.92 172.10,333.50" fill="none" stroke="#1a1a1a" stroke-width="0.9"/>
<path d="M175.20,340.40 C175.23,343.67 175.40,354.23 175.40,360.00 C175.40,365.77 175.27,370.67 175.20,375.00 C175.13,379.33 175.03,384.17 175.00,386.00 L170.60,386.00 C170.57,384.17 170.47,379.33 170.40,375.00 C170.33,370.67 170.20,365.77 170.20,360.00 C170.20,354.23 170.37,343.67 170.40,340.40 Z" fill="#F2A95A" stroke="none"/>
<path d="M175.20,340.40 C175.23,343.67 175.40,354.23 175.40,360.00 C175.40,365.77 175.27,370.67 175.20,375.00 C175.13,379.33 175.03,384.17 175.00,386.00" fill="none" stroke="#1a1a1a" stroke-width="0.9"/>
<path d="M170.40,340.40 C170.37,343.67 170.20,354.23 170.20,360.00 C170.20,365.77 170.33,370.67 170.40,375.00 C170.47,379.33 170.57,384.17 170.60,386.00" fill="none" stroke="#1a1a1a" stroke-width="0.9"/>
<line x1="170.93" y1="367.50" x2="174.68" y2="367.50" stroke="#1a1a1a" stroke-width="0.7"/>
<path d="M188.80,364.50 C188.95,364.83 189.28,365.87 189.70,366.50 C190.12,367.13 191.25,367.75 191.30,368.30 C191.35,368.85 190.42,369.22 190.00,369.80 C189.58,370.38 189.00,371.47 188.80,371.80 L188.80,371.80 C188.60,371.47 188.02,370.38 187.60,369.80 C187.18,369.22 186.25,368.85 186.30,368.30 C186.35,367.75 187.48,367.13 187.90,366.50 C188.32,365.87 188.65,364.83 188.80,364.50 Z" fill="#5F98CC" stroke="none"/>
<path d="M188.80,364.50 C188.95,364.83 189.28,365.87 189.70,366.50 C190.12,367.13 191.25,367.75 191.30,368.30 C191.35,368.85 190.42,369.22 190.00,369.80 C189.58,370.38 189.00,371.47 188.80,371.80" fill="none" stroke="#1a1a1a" stroke-width="0.9"/>
<path d="M188.80,364.50 C188.65,364.83 188.32,365.87 187.90,366.50 C187.48,367.13 186.35,367.75 186.30,368.30 C186.25,368.85 187.18,369.22 187.60,369.80 C188.02,370.38 188.60,371.47 188.80,371.80" fill="none" stroke="#1a1a1a" stroke-width="0.9"/>
<line x1="196.80" y1="370.80" x2="200.80" y2="370.80" stroke="#1a1a1a" stroke-width="1.2"/>
<path d="M208.90,369.20 C209.23,369.31 210.39,369.68 210.86,369.86 C211.33,370.04 211.70,370.15 211.70,370.30 C211.70,370.45 211.33,370.56 210.86,370.74 C210.39,370.92 209.23,371.29 208.90,371.40 L208.90,371.40 C208.57,371.29 207.41,370.92 206.94,370.74 C206.47,370.56 206.10,370.45 206.10,370.30 C206.10,370.15 206.47,370.04 206.94,369.86 C207.41,369.68 208.57,369.31 208.90,369.20 Z" fill="#F2A95A" stroke="none"/>
<path d="M208.90,369.20 C209.23,369.31 210.39,369.68 210.86,369.86 C211.33,370.04 211.70,370.15 211.70,370.30 C211.70,370.45 211.33,370.56 210.86,370.74 C210.39,370.92 209.23,371.29 208.90,371.40" fill="none" stroke="#1a1a1a" stroke-width="0.6"/>
<path d="M208.90,369.20 C208.57,369.31 207.41,369.68 206.94,369.86 C206.47,370.04 206.10,370.15 206.10,370.30 C206.10,370.45 206.47,370.56 206.94,370.74 C207.41,370.92 208.57,371.29 208.90,371.40" fill="none" stroke="#1a1a1a" stroke-width="0.6"/>
<path d="M224.50,367.30 C224.75,367.55 225.57,368.42 226.00,368.80 C226.43,369.18 227.10,369.33 227.10,369.60 C227.10,369.87 226.43,370.00 226.00,370.40 C225.57,370.80 224.75,371.73 224.50,372.00 L224.50,372.00 C224.25,371.73 223.43,370.80 223.00,370.40 C222.57,370.00 221.90,369.87 221.90,369.60 C221.90,369.33 222.57,369.18 223.00,368.80 C223.43,368.42 224.25,367.55 224.50,367.30 Z" fill="#5F98CC" stroke="none"/>
<path d="M224.50,367.30 C224.75,367.55 225.57,368.42 226.00,368.80 C226.43,369.18 227.10,369.33 227.10,369.60 C227.10,369.87 226.43,370.00 226.00,370.40 C225.57,370.80 224.75,371.73 224.50,372.00" fill="none" stroke="#1a1a1a" stroke-width="0.9"/>
<path d="M224.50,367.30 C224.25,367.55 223.43,368.42 223.00,368.80 C222.57,369.18 221.90,369.33 221.90,369.60 C221.90,369.87 222.57,370.00 223.00,370.40 C223.43,370.80 224.25,371.73 224.50,372.00" fill="none" stroke="#1a1a1a" stroke-width="0.9"/>
<path d="M234.40,342.50 C234.57,343.25 235.13,345.42 235.40,347.00 C235.67,348.58 236.00,350.33 236.00,352.00 C236.00,353.67 235.52,355.67 235.40,357.00 C235.28,358.33 235.08,358.83 235.30,360.00 C235.52,361.17 236.35,362.75 236.70,364.00 C237.05,365.25 237.40,366.33 237.40,367.50 C237.40,368.67 237.03,369.75 236.70,371.00 C236.37,372.25 235.78,373.75 235.40,375.00 C235.02,376.25 234.57,377.92 234.40,378.50 L234.40,378.50 C234.23,377.92 233.78,376.25 233.40,375.00 C233.02,373.75 232.43,372.25 232.10,371.00 C231.77,369.75 231.40,368.67 231.40,367.50 C231.40,366.33 231.75,365.25 232.10,364.00 C232.45,362.75 233.28,361.17 233.50,360.00 C233.72,358.83 233.52,358.33 233.40,357.00 C233.28,355.67 232.80,353.67 232.80,352.00 C232.80,350.33 233.13,348.58 233.40,347.00 C233.67,345.42 234.23,343.25 234.40,342.50 Z" fill="#EE93A6" stroke="none"/>
<path d="M234.40,342.50 C234.57,343.25 235.13,345.42 235.40,347.00 C235.67,348.58 236.00,350.33 236.00,352.00 C236.00,353.67 235.52,355.67 235.40,357.00 C235.28,358.33 235.08,358.83 235.30,360.00 C235.52,361.17 236.35,362.75 236.70,364.00 C237.05,365.25 237.40,366.33 237.40,367.50 C237.40,368.67 237.03,369.75 236.70,371.00 C236.37,372.25 235.78,373.75 235.40,375.00 C235.02,376.25 234.57,377.92 234.40,378.50" fill="none" stroke="#1a1a1a" stroke-width="0.9"/>
<path d="M234.40,342.50 C234.23,343.25 233.67,345.42 233.40,347.00 C233.13,348.58 232.80,350.33 232.80,352.00 C232.80,353.67 233.28,355.67 233.40,357.00 C233.52,358.33 233.72,358.83 233.50,360.00 C233.28,361.17 232.45,362.75 232.10,364.00 C231.75,365.25 231.40,366.33 231.40,367.50 C231.40,368.67 231.77,369.75 232.10,371.00 C232.43,372.25 233.02,373.75 233.40,375.00 C233.78,376.25 234.23,377.92 234.40,378.50" fill="none" stroke="#1a1a1a" stroke-width="0.9"/>
<path d="M244.20,355.60 C244.42,356.08 245.00,357.37 245.50,358.50 C246.00,359.63 247.18,361.15 247.20,362.40 C247.22,363.65 245.60,364.78 245.60,366.00 C245.60,367.22 247.18,368.53 247.20,369.70 C247.22,370.87 246.20,372.02 245.70,373.00 C245.20,373.98 244.45,375.17 244.20,375.60 L244.20,375.60 C243.95,375.17 243.20,373.98 242.70,373.00 C242.20,372.02 241.18,370.87 241.20,369.70 C241.22,368.53 242.80,367.22 242.80,366.00 C242.80,364.78 241.18,363.65 241.20,362.40 C241.22,361.15 242.40,359.63 242.90,358.50 C243.40,357.37 243.98,356.08 244.20,355.60 Z" fill="#F2A95A" stroke="none"/>
<path d="M244.20,355.60 C244.42,356.08 245.00,357.37 245.50,358.50 C246.00,359.63 247.18,361.15 247.20,362.40 C247.22,363.65 245.60,364.78 245.60,366.00 C245.60,367.22 247.18,368.53 247.20,369.70 C247.22,370.87 246.20,372.02 245.70,373.00 C245.20,373.98 244.45,375.17 244.20,375.60" fill="none" stroke="#1a1a1a" stroke-width="0.9"/>
<path d="M244.20,355.60 C243.98,356.08 243.40,357.37 242.90,358.50 C242.40,359.63 241.22,361.15 241.20,362.40 C241.18,363.65 242.80,364.78 242.80,366.00 C242.80,367.22 241.22,368.53 241.20,369.70 C241.18,370.87 242.20,372.02 242.70,373.00 C243.20,373.98 243.95,375.17 244.20,375.60" fill="none" stroke="#1a1a1a" stroke-width="0.9"/>
<line x1="258.20" y1="370.80" x2="263.00" y2="370.80" stroke="#1a1a1a" stroke-width="1.2"/>
<path d="M269.80,356.30 C270.03,356.68 270.78,357.72 271.20,358.60 C271.62,359.48 272.33,360.62 272.30,361.60 C272.27,362.58 271.28,363.68 271.00,364.50 C270.72,365.32 270.60,365.88 270.60,366.50 C270.60,367.12 271.00,367.53 271.00,368.20 C271.00,368.87 270.80,369.65 270.60,370.50 C270.40,371.35 269.93,372.83 269.80,373.30 L269.80,373.30 C269.67,372.83 269.20,371.35 269.00,370.50 C268.80,369.65 268.60,368.87 268.60,368.20 C268.60,367.53 269.00,367.12 269.00,366.50 C269.00,365.88 268.88,365.32 268.60,364.50 C268.32,363.68 267.33,362.58 267.30,361.60 C267.27,360.62 267.98,359.48 268.40,358.60 C268.82,357.72 269.57,356.68 269.80,356.30 Z" fill="#EE93A6" stroke="none"/>
<path d="M269.80,356.30 C270.03,356.68 270.78,357.72 271.20,358.60 C271.62,359.48 272.33,360.62 272.30,361.60 C272.27,362.58 271.28,363.68 271.00,364.50 C270.72,365.32 270.60,365.88 270.60,366.50 C270.60,367.12 271.00,367.53 271.00,368.20 C271.00,368.87 270.80,369.65 270.60,370.50 C270.40,371.35 269.93,372.83 269.80,373.30" fill="none" stroke="#1a1a1a" stroke-width="0.9"/>
<path d="M269.80,356.30 C269.57,356.68 268.82,357.72 268.40,358.60 C267.98,359.48 267.27,360.62 267.30,361.60 C267.33,362.58 268.32,363.68 268.60,364.50 C268.88,365.32 269.00,365.88 269.00,366.50 C269.00,367.12 268.60,367.53 268.60,368.20 C268.60,368.87 268.80,369.65 269.00,370.50 C269.20,371.35 269.67,372.83 269.80,373.30" fill="none" stroke="#1a1a1a" stroke-width="0.9"/>
<path d="M280.10,357.80 C280.25,358.25 280.78,359.50 281.00,360.50 C281.22,361.50 281.35,362.72 281.40,363.80 C281.45,364.88 281.05,365.78 281.30,367.00 C281.55,368.22 282.83,369.93 282.90,371.10 C282.97,372.27 282.17,373.12 281.70,374.00 C281.23,374.88 280.37,376.00 280.10,376.40 L280.10,376.40 C279.83,376.00 278.97,374.88 278.50,374.00 C278.03,373.12 277.23,372.27 277.30,371.10 C277.37,369.93 278.65,368.22 278.90,367.00 C279.15,365.78 278.75,364.88 278.80,363.80 C278.85,362.72 278.98,361.50 279.20,360.50 C279.42,359.50 279.95,358.25 280.10,357.80 Z" fill="#F2A95A" stroke="none"/>
<path d="M280.10,357.80 C280.25,358.25 280.78,359.50 281.00,360.50 C281.22,361.50 281.35,362.72 281.40,363.80 C281.45,364.88 281.05,365.78 281.30,367.00 C281.55,368.22 282.83,369.93 282.90,371.10 C282.97,372.27 282.17,373.12 281.70,374.00 C281.23,374.88 280.37,376.00 280.10,376.40" fill="none" stroke="#1a1a1a" stroke-width="0.9"/>
<path d="M280.10,357.80 C279.95,358.25 279.42,359.50 279.20,360.50 C278.98,361.50 278.85,362.72 278.80,363.80 C278.75,364.88 279.15,365.78 278.90,367.00 C278.65,368.22 277.37,369.93 277.30,371.10 C277.23,372.27 278.03,373.12 278.50,374.00 C278.97,374.88 279.83,376.00 280.10,376.40" fill="none" stroke="#1a1a1a" stroke-width="0.9"/>
<line x1="46.30" y1="303.60" x2="55.50" y2="303.60" stroke="#444" stroke-width="0.55"/>
<line x1="46.30" y1="302.50" x2="46.30" y2="304.70" stroke="#444" stroke-width="0.55"/>
<line x1="55.50" y1="302.50" x2="55.50" y2="304.70" stroke="#444" stroke-width="0.55"/>
<line x1="58.00" y1="303.60" x2="66.80" y2="303.60" stroke="#444" stroke-width="0.55"/>
<line x1="58.00" y1="302.50" x2="58.00" y2="304.70" stroke="#444" stroke-width="0.55"/>
<line x1="66.80" y1="302.50" x2="66.80" y2="304.70" stroke="#444" stroke-width="0.55"/>
<text x="50.90" y="301.50" font-size="9" text-anchor="middle" fill="#222" stroke="#222" stroke-width="0.11">***</text>
<text x="62.10" y="298.90" font-size="5.4" text-anchor="middle" fill="#333">ns</text>
<line x1="82.00" y1="311.20" x2="90.80" y2="311.20" stroke="#444" stroke-width="0.55"/>
<line x1="82.00" y1="310.10" x2="82.00" y2="312.30" stroke="#444" stroke-width="0.55"/>
<line x1="90.80" y1="310.10" x2="90.80" y2="312.30" stroke="#444" stroke-width="0.55"/>
<line x1="93.30" y1="311.20" x2="102.00" y2="311.20" stroke="#444" stroke-width="0.55"/>
<line x1="93.30" y1="310.10" x2="93.30" y2="312.30" stroke="#444" stroke-width="0.55"/>
<line x1="102.00" y1="310.10" x2="102.00" y2="312.30" stroke="#444" stroke-width="0.55"/>
<text x="86.00" y="308.80" font-size="9" text-anchor="middle" fill="#222" stroke="#222" stroke-width="0.11">*</text>
<text x="96.90" y="306.20" font-size="5.4" text-anchor="middle" fill="#333">ns</text>
<line x1="118.10" y1="297.00" x2="126.60" y2="297.00" stroke="#444" stroke-width="0.55"/>
<line x1="118.10" y1="295.90" x2="118.10" y2="298.10" stroke="#444" stroke-width="0.55"/>
<line x1="126.60" y1="295.90" x2="126.60" y2="298.10" stroke="#444" stroke-width="0.55"/>
<line x1="129.10" y1="297.00" x2="138.10" y2="297.00" stroke="#444" stroke-width="0.55"/>
<line x1="129.10" y1="295.90" x2="129.10" y2="298.10" stroke="#444" stroke-width="0.55"/>
<line x1="138.10" y1="295.90" x2="138.10" y2="298.10" stroke="#444" stroke-width="0.55"/>
<text x="122.50" y="297.10" font-size="9" text-anchor="middle" fill="#222" stroke="#222" stroke-width="0.11">*</text>
<text x="132.70" y="294.50" font-size="5.4" text-anchor="middle" fill="#333">ns</text>
<line x1="153.00" y1="311.20" x2="162.50" y2="311.20" stroke="#444" stroke-width="0.55"/>
<line x1="153.00" y1="310.10" x2="153.00" y2="312.30" stroke="#444" stroke-width="0.55"/>
<line x1="162.50" y1="310.10" x2="162.50" y2="312.30" stroke="#444" stroke-width="0.55"/>
<line x1="164.70" y1="311.20" x2="173.80" y2="311.20" stroke="#444" stroke-width="0.55"/>
<line x1="164.70" y1="310.10" x2="164.70" y2="312.30" stroke="#444" stroke-width="0.55"/>
<line x1="173.80" y1="310.10" x2="173.80" y2="312.30" stroke="#444" stroke-width="0.55"/>
<text x="157.40" y="306.90" font-size="3.9" text-anchor="middle" fill="#333">0.0181</text>
<text x="169.10" y="306.90" font-size="5.4" text-anchor="middle" fill="#333">ns</text>
<line x1="188.50" y1="361.30" x2="197.30" y2="361.30" stroke="#444" stroke-width="0.55"/>
<line x1="188.50" y1="360.20" x2="188.50" y2="362.40" stroke="#444" stroke-width="0.55"/>
<line x1="197.30" y1="360.20" x2="197.30" y2="362.40" stroke="#444" stroke-width="0.55"/>
<line x1="199.80" y1="361.30" x2="208.90" y2="361.30" stroke="#444" stroke-width="0.55"/>
<line x1="199.80" y1="360.20" x2="199.80" y2="362.40" stroke="#444" stroke-width="0.55"/>
<line x1="208.90" y1="360.20" x2="208.90" y2="362.40" stroke="#444" stroke-width="0.55"/>
<text x="192.90" y="360.70" font-size="9" text-anchor="middle" fill="#222" stroke="#222" stroke-width="0.11">*</text>
<text x="204.20" y="358.10" font-size="5.4" text-anchor="middle" fill="#333">ns</text>
<line x1="224.50" y1="339.00" x2="233.60" y2="339.00" stroke="#444" stroke-width="0.55"/>
<line x1="224.50" y1="337.90" x2="224.50" y2="340.10" stroke="#444" stroke-width="0.55"/>
<line x1="233.60" y1="337.90" x2="233.60" y2="340.10" stroke="#444" stroke-width="0.55"/>
<line x1="235.20" y1="339.00" x2="244.70" y2="339.00" stroke="#444" stroke-width="0.55"/>
<line x1="235.20" y1="337.90" x2="235.20" y2="340.10" stroke="#444" stroke-width="0.55"/>
<line x1="244.70" y1="337.90" x2="244.70" y2="340.10" stroke="#444" stroke-width="0.55"/>
<text x="228.90" y="337.80" font-size="9" text-anchor="middle" fill="#222" stroke="#222" stroke-width="0.11">*</text>
<text x="239.90" y="335.20" font-size="5.4" text-anchor="middle" fill="#333">ns</text>
<line x1="260.00" y1="352.90" x2="268.80" y2="352.90" stroke="#444" stroke-width="0.55"/>
<line x1="260.00" y1="351.80" x2="260.00" y2="354.00" stroke="#444" stroke-width="0.55"/>
<line x1="268.80" y1="351.80" x2="268.80" y2="354.00" stroke="#444" stroke-width="0.55"/>
<line x1="271.30" y1="352.90" x2="280.40" y2="352.90" stroke="#444" stroke-width="0.55"/>
<line x1="271.30" y1="351.80" x2="271.30" y2="354.00" stroke="#444" stroke-width="0.55"/>
<line x1="280.40" y1="351.80" x2="280.40" y2="354.00" stroke="#444" stroke-width="0.55"/>
<text x="264.70" y="351.90" font-size="9" text-anchor="middle" fill="#222" stroke="#222" stroke-width="0.11">*</text>
<text x="275.70" y="349.30" font-size="5.4" text-anchor="middle" fill="#333">ns</text>
<line x1="311.40" y1="279.70" x2="683.80" y2="279.70" stroke="#111" stroke-width="1.3"/>
<line x1="683.80" y1="279.70" x2="683.80" y2="386.90" stroke="#111" stroke-width="1.3"/>
<line x1="310.80" y1="386.90" x2="684.40" y2="386.90" stroke="#111" stroke-width="1.3"/>
<line x1="311.40" y1="279.70" x2="311.40" y2="310.60" stroke="#111" stroke-width="1.3"/>
<line x1="311.40" y1="318.40" x2="311.40" y2="338.50" stroke="#111" stroke-width="1.3"/>
<line x1="311.40" y1="345.90" x2="311.40" y2="386.90" stroke="#111" stroke-width="1.3"/>
<line x1="308.80" y1="310.60" x2="313.00" y2="310.60" stroke="#111" stroke-width="1.2"/>
<line x1="308.80" y1="318.40" x2="313.00" y2="318.40" stroke="#111" stroke-width="1.2"/>
<line x1="308.80" y1="338.50" x2="313.00" y2="338.50" stroke="#111" stroke-width="1.2"/>
<line x1="307.80" y1="284.70" x2="311.40" y2="284.70" stroke="#111" stroke-width="1.1"/>
<text x="306.00" y="287.10" font-size="6.9" text-anchor="end" font-weight="bold" fill="#222" stroke="#222" stroke-width="0.24">3</text>
<line x1="307.80" y1="294.30" x2="311.40" y2="294.30" stroke="#111" stroke-width="1.1"/>
<text x="306.00" y="296.70" font-size="6.9" text-anchor="end" font-weight="bold" fill="#222" stroke="#222" stroke-width="0.24">2</text>
<line x1="307.80" y1="303.90" x2="311.40" y2="303.90" stroke="#111" stroke-width="1.1"/>
<text x="306.00" y="306.30" font-size="6.9" text-anchor="end" font-weight="bold" fill="#222" stroke="#222" stroke-width="0.24">1.0</text>
<line x1="307.80" y1="322.10" x2="311.40" y2="322.10" stroke="#111" stroke-width="1.1"/>
<text x="306.00" y="324.50" font-size="6.9" text-anchor="end" font-weight="bold" fill="#222" stroke="#222" stroke-width="0.24">0.2</text>
<line x1="307.80" y1="331.80" x2="311.40" y2="331.80" stroke="#111" stroke-width="1.1"/>
<text x="306.00" y="334.20" font-size="6.9" text-anchor="end" font-weight="bold" fill="#222" stroke="#222" stroke-width="0.24">0.1</text>
<line x1="307.80" y1="345.90" x2="311.40" y2="345.90" stroke="#111" stroke-width="1.1"/>
<text x="306.00" y="348.30" font-size="6.9" text-anchor="end" font-weight="bold" fill="#222" stroke="#222" stroke-width="0.24">0.01</text>
<line x1="307.80" y1="366.60" x2="311.40" y2="366.60" stroke="#111" stroke-width="1.1"/>
<text x="306.00" y="369.00" font-size="6.9" text-anchor="end" font-weight="bold" fill="#222" stroke="#222" stroke-width="0.24">0.0</text>
<line x1="328.30" y1="386.90" x2="328.30" y2="391.50" stroke="#111" stroke-width="1.1"/>
<text x="328.10" y="400.90" font-size="6.75" text-anchor="end" font-weight="bold" fill="#222" stroke="#222" stroke-width="0.24" transform="rotate(-30 328.10 400.90)">g_Muribaculaceae</text>
<line x1="365.70" y1="386.90" x2="365.70" y2="391.50" stroke="#111" stroke-width="1.1"/>
<text x="365.50" y="400.90" font-size="6.75" text-anchor="end" font-weight="bold" fill="#222" stroke="#222" stroke-width="0.24" transform="rotate(-30 365.50 400.90)">g_Blautia</text>
<line x1="403.30" y1="386.90" x2="403.30" y2="391.50" stroke="#111" stroke-width="1.1"/>
<text x="403.10" y="400.90" font-size="6.75" text-anchor="end" font-weight="bold" fill="#222" stroke="#222" stroke-width="0.24" transform="rotate(-30 403.10 400.90)">g_Eubacterium_xylanophilum_group</text>
<line x1="440.80" y1="386.90" x2="440.80" y2="391.50" stroke="#111" stroke-width="1.1"/>
<text x="440.60" y="400.90" font-size="6.75" text-anchor="end" font-weight="bold" fill="#222" stroke="#222" stroke-width="0.24" transform="rotate(-30 440.60 400.90)">g_Eubacterium_coprostanoligenes_group</text>
<line x1="478.40" y1="386.90" x2="478.40" y2="391.50" stroke="#111" stroke-width="1.1"/>
<text x="478.20" y="400.90" font-size="6.75" text-anchor="end" font-weight="bold" fill="#222" stroke="#222" stroke-width="0.24" transform="rotate(-30 478.20 400.90)">g_Coriobacteriaceae_UCG-002</text>
<line x1="516.10" y1="386.90" x2="516.10" y2="391.50" stroke="#111" stroke-width="1.1"/>
<text x="515.90" y="400.90" font-size="6.75" text-anchor="end" font-weight="bold" fill="#222" stroke="#222" stroke-width="0.24" transform="rotate(-30 515.90 400.90)">g_Faecalibaculum</text>
<line x1="553.60" y1="386.90" x2="553.60" y2="391.50" stroke="#111" stroke-width="1.1"/>
<text x="553.40" y="400.90" font-size="6.75" text-anchor="end" font-weight="bold" fill="#222" stroke="#222" stroke-width="0.24" transform="rotate(-30 553.40 400.90)">g_Odoribacter</text>
<line x1="591.40" y1="386.90" x2="591.40" y2="391.50" stroke="#111" stroke-width="1.1"/>
<text x="591.20" y="400.90" font-size="6.75" text-anchor="end" font-weight="bold" fill="#222" stroke="#222" stroke-width="0.24" transform="rotate(-30 591.20 400.90)">g_Rikenella</text>
<line x1="629.00" y1="386.90" x2="629.00" y2="391.50" stroke="#111" stroke-width="1.1"/>
<text x="628.80" y="400.90" font-size="6.75" text-anchor="end" font-weight="bold" fill="#222" stroke="#222" stroke-width="0.24" transform="rotate(-30 628.80 400.90)">g_Enterorhabdus</text>
<line x1="666.70" y1="386.90" x2="666.70" y2="391.50" stroke="#111" stroke-width="1.1"/>
<text x="666.50" y="400.90" font-size="6.75" text-anchor="end" font-weight="bold" fill="#222" stroke="#222" stroke-width="0.24" transform="rotate(-30 666.50 400.90)">g_Lactococcus</text>
<path d="M317.90,307.00 C318.23,307.16 319.39,307.69 319.86,307.96 C320.33,308.23 320.70,308.39 320.70,308.60 C320.70,308.81 320.33,308.97 319.86,309.24 C319.39,309.51 318.23,310.04 317.90,310.20 L317.90,310.20 C317.57,310.04 316.41,309.51 315.94,309.24 C315.47,308.97 315.10,308.81 315.10,308.60 C315.10,308.39 315.47,308.23 315.94,307.96 C316.41,307.69 317.57,307.16 317.90,307.00 Z" fill="#5F98CC" stroke="none"/>
<path d="M317.90,307.00 C318.23,307.16 319.39,307.69 319.86,307.96 C320.33,308.23 320.70,308.39 320.70,308.60 C320.70,308.81 320.33,308.97 319.86,309.24 C319.39,309.51 318.23,310.04 317.90,310.20" fill="none" stroke="#1a1a1a" stroke-width="0.6"/>
<path d="M317.90,307.00 C317.57,307.16 316.41,307.69 315.94,307.96 C315.47,308.23 315.10,308.39 315.10,308.60 C315.10,308.81 315.47,308.97 315.94,309.24 C316.41,309.51 317.57,310.04 317.90,310.20" fill="none" stroke="#1a1a1a" stroke-width="0.6"/>
<path d="M328.20,318.20 C328.35,318.67 328.80,319.87 329.10,321.00 C329.40,322.13 329.92,323.83 330.00,325.00 C330.08,326.17 329.58,326.83 329.60,328.00 C329.62,329.17 329.92,330.83 330.10,332.00 C330.28,333.17 330.68,333.92 330.70,335.00 C330.72,336.08 330.28,337.92 330.20,338.50 L326.20,338.50 C326.12,337.92 325.68,336.08 325.70,335.00 C325.72,333.92 326.12,333.17 326.30,332.00 C326.48,330.83 326.78,329.17 326.80,328.00 C326.82,326.83 326.32,326.17 326.40,325.00 C326.48,323.83 327.00,322.13 327.30,321.00 C327.60,319.87 328.05,318.67 328.20,318.20 Z" fill="#EE93A6" stroke="none"/>
<path d="M328.20,318.20 C328.35,318.67 328.80,319.87 329.10,321.00 C329.40,322.13 329.92,323.83 330.00,325.00 C330.08,326.17 329.58,326.83 329.60,328.00 C329.62,329.17 329.92,330.83 330.10,332.00 C330.28,333.17 330.68,333.92 330.70,335.00 C330.72,336.08 330.28,337.92 330.20,338.50" fill="none" stroke="#1a1a1a" stroke-width="0.9"/>
<path d="M328.20,318.20 C328.05,318.67 327.60,319.87 327.30,321.00 C327.00,322.13 326.48,323.83 326.40,325.00 C326.32,326.17 326.82,326.83 326.80,328.00 C326.78,329.17 326.48,330.83 326.30,332.00 C326.12,333.17 325.72,333.92 325.70,335.00 C325.68,336.08 326.12,337.92 326.20,338.50" fill="none" stroke="#1a1a1a" stroke-width="0.9"/>
<line x1="326.40" y1="334.50" x2="330.00" y2="334.50" stroke="#1a1a1a" stroke-width="0.7"/>
<path d="M329.50,345.90 C329.45,349.08 329.32,358.18 329.20,365.00 C329.08,371.82 328.87,383.17 328.80,386.80 L327.60,386.80 C327.53,383.17 327.32,371.82 327.20,365.00 C327.08,358.18 326.95,349.08 326.90,345.90 Z" fill="#EE93A6" stroke="none"/>
<path d="M329.50,345.90 C329.45,349.08 329.32,358.18 329.20,365.00 C329.08,371.82 328.87,383.17 328.80,386.80" fill="none" stroke="#1a1a1a" stroke-width="0.9"/>
<path d="M326.90,345.90 C326.95,349.08 327.08,358.18 327.20,365.00 C327.32,371.82 327.53,383.17 327.60,386.80" fill="none" stroke="#1a1a1a" stroke-width="0.9"/>
<path d="M338.60,305.00 C338.83,305.25 339.57,306.03 340.00,306.50 C340.43,306.97 341.20,307.33 341.20,307.80 C341.20,308.27 340.37,308.83 340.00,309.30 C339.63,309.77 339.17,310.38 339.00,310.60 L338.20,310.60 C338.03,310.38 337.57,309.77 337.20,309.30 C336.83,308.83 336.00,308.27 336.00,307.80 C336.00,307.33 336.77,306.97 337.20,306.50 C337.63,306.03 338.37,305.25 338.60,305.00 Z" fill="#F2A95A" stroke="none"/>
<path d="M338.60,305.00 C338.83,305.25 339.57,306.03 340.00,306.50 C340.43,306.97 341.20,307.33 341.20,307.80 C341.20,308.27 340.37,308.83 340.00,309.30 C339.63,309.77 339.17,310.38 339.00,310.60" fill="none" stroke="#1a1a1a" stroke-width="0.9"/>
<path d="M338.60,305.00 C338.37,305.25 337.63,306.03 337.20,306.50 C336.77,306.97 336.00,307.33 336.00,307.80 C336.00,308.27 336.83,308.83 337.20,309.30 C337.57,309.77 338.03,310.38 338.20,310.60" fill="none" stroke="#1a1a1a" stroke-width="0.9"/>
<path d="M339.60,318.40 C339.60,321.75 339.60,335.15 339.60,338.50 L337.60,338.50 C337.60,335.15 337.60,321.75 337.60,318.40 Z" fill="#F2A95A" stroke="none"/>
<path d="M339.60,318.40 C339.60,321.75 339.60,335.15 339.60,338.50" fill="none" stroke="#1a1a1a" stroke-width="0.9"/>
<path d="M337.60,318.40 C337.60,321.75 337.60,335.15 337.60,338.50" fill="none" stroke="#1a1a1a" stroke-width="0.9"/>
<path d="M339.40,345.90 C339.38,352.72 339.32,379.98 339.30,386.80 L337.90,386.80 C337.88,379.98 337.82,352.72 337.80,345.90 Z" fill="#5a3a18" stroke="none"/>
<path d="M339.40,345.90 C339.38,352.72 339.32,379.98 339.30,386.80" fill="none" stroke="#1a1a1a" stroke-width="0.9"/>
<path d="M337.80,345.90 C337.82,352.72 337.88,379.98 337.90,386.80" fill="none" stroke="#1a1a1a" stroke-width="0.9"/>
<path d="M355.70,345.90 C355.77,346.58 355.92,348.32 356.10,350.00 C356.28,351.68 356.48,354.00 356.80,356.00 C357.12,358.00 357.77,360.33 358.00,362.00 C358.23,363.67 358.33,364.33 358.20,366.00 C358.07,367.67 357.53,370.00 357.20,372.00 C356.87,374.00 356.43,376.00 356.20,378.00 C355.97,380.00 355.87,383.00 355.80,384.00 L355.00,384.00 C354.93,383.00 354.83,380.00 354.60,378.00 C354.37,376.00 353.93,374.00 353.60,372.00 C353.27,370.00 352.73,367.67 352.60,366.00 C352.47,364.33 352.57,363.67 352.80,362.00 C353.03,360.33 353.68,358.00 354.00,356.00 C354.32,354.00 354.52,351.68 354.70,350.00 C354.88,348.32 355.03,346.58 355.10,345.90 Z" fill="#5F98CC" stroke="none"/>
<path d="M355.70,345.90 C355.77,346.58 355.92,348.32 356.10,350.00 C356.28,351.68 356.48,354.00 356.80,356.00 C357.12,358.00 357.77,360.33 358.00,362.00 C358.23,363.67 358.33,364.33 358.20,366.00 C358.07,367.67 357.53,370.00 357.20,372.00 C356.87,374.00 356.43,376.00 356.20,378.00 C355.97,380.00 355.87,383.00 355.80,384.00" fill="none" stroke="#1a1a1a" stroke-width="0.9"/>
<path d="M355.10,345.90 C355.03,346.58 354.88,348.32 354.70,350.00 C354.52,351.68 354.32,354.00 354.00,356.00 C353.68,358.00 353.03,360.33 352.80,362.00 C352.57,363.67 352.47,364.33 352.60,366.00 C352.73,367.67 353.27,370.00 353.60,372.00 C353.93,374.00 354.37,376.00 354.60,378.00 C354.83,380.00 354.93,383.00 355.00,384.00" fill="none" stroke="#1a1a1a" stroke-width="0.9"/>
<line x1="355.00" y1="384.00" x2="355.80" y2="384.00" stroke="#1a1a1a" stroke-width="0.9"/>
<line x1="353.30" y1="366.00" x2="357.50" y2="366.00" stroke="#1a1a1a" stroke-width="0.7"/>
<circle cx="355.4" cy="338.0" r="0.45" fill="#222"/>
<path d="M365.80,333.40 C366.00,333.57 366.57,334.00 367.00,334.40 C367.43,334.80 368.33,335.33 368.40,335.80 C368.47,336.27 367.83,336.80 367.40,337.20 C366.97,337.60 366.07,338.03 365.80,338.20 L365.80,338.20 C365.53,338.03 364.63,337.60 364.20,337.20 C363.77,336.80 363.13,336.27 363.20,335.80 C363.27,335.33 364.17,334.80 364.60,334.40 C365.03,334.00 365.60,333.57 365.80,333.40 Z" fill="#EE93A6" stroke="none"/>
<path d="M365.80,333.40 C366.00,333.57 366.57,334.00 367.00,334.40 C367.43,334.80 368.33,335.33 368.40,335.80 C368.47,336.27 367.83,336.80 367.40,337.20 C366.97,337.60 366.07,338.03 365.80,338.20" fill="none" stroke="#1a1a1a" stroke-width="0.9"/>
<path d="M365.80,333.40 C365.60,333.57 365.03,334.00 364.60,334.40 C364.17,334.80 363.27,335.33 363.20,335.80 C363.13,336.27 363.77,336.80 364.20,337.20 C364.63,337.60 365.53,338.03 365.80,338.20" fill="none" stroke="#1a1a1a" stroke-width="0.9"/>
<circle cx="375.9" cy="338.0" r="0.45" fill="#222"/>
<path d="M376.40,345.90 C376.57,346.92 377.10,349.98 377.40,352.00 C377.70,354.02 377.95,355.85 378.20,358.00 C378.45,360.15 378.92,362.57 378.90,364.90 C378.88,367.23 378.43,369.48 378.10,372.00 C377.77,374.52 377.18,377.53 376.90,380.00 C376.62,382.47 376.48,385.67 376.40,386.80 L375.40,386.80 C375.32,385.67 375.18,382.47 374.90,380.00 C374.62,377.53 374.03,374.52 373.70,372.00 C373.37,369.48 372.92,367.23 372.90,364.90 C372.88,362.57 373.35,360.15 373.60,358.00 C373.85,355.85 374.10,354.02 374.40,352.00 C374.70,349.98 375.23,346.92 375.40,345.90 Z" fill="#F2A95A" stroke="none"/>
<path d="M376.40,345.90 C376.57,346.92 377.10,349.98 377.40,352.00 C377.70,354.02 377.95,355.85 378.20,358.00 C378.45,360.15 378.92,362.57 378.90,364.90 C378.88,367.23 378.43,369.48 378.10,372.00 C377.77,374.52 377.18,377.53 376.90,380.00 C376.62,382.47 376.48,385.67 376.40,386.80" fill="none" stroke="#1a1a1a" stroke-width="0.9"/>
<path d="M375.40,345.90 C375.23,346.92 374.70,349.98 374.40,352.00 C374.10,354.02 373.85,355.85 373.60,358.00 C373.35,360.15 372.88,362.57 372.90,364.90 C372.92,367.23 373.37,369.48 373.70,372.00 C374.03,374.52 374.62,377.53 374.90,380.00 C375.18,382.47 375.32,385.67 375.40,386.80" fill="none" stroke="#1a1a1a" stroke-width="0.9"/>
<line x1="373.74" y1="366.00" x2="378.06" y2="366.00" stroke="#1a1a1a" stroke-width="0.7"/>
<path d="M393.10,345.60 C393.25,346.00 393.73,347.17 394.00,348.00 C394.27,348.83 394.70,349.60 394.70,350.60 C394.70,351.60 393.97,352.77 394.00,354.00 C394.03,355.23 394.55,356.60 394.90,358.00 C395.25,359.40 396.10,361.07 396.10,362.40 C396.10,363.73 395.30,364.90 394.90,366.00 C394.50,367.10 394.00,367.92 393.70,369.00 C393.40,370.08 393.20,371.92 393.10,372.50 L393.10,372.50 C393.00,371.92 392.80,370.08 392.50,369.00 C392.20,367.92 391.70,367.10 391.30,366.00 C390.90,364.90 390.10,363.73 390.10,362.40 C390.10,361.07 390.95,359.40 391.30,358.00 C391.65,356.60 392.17,355.23 392.20,354.00 C392.23,352.77 391.50,351.60 391.50,350.60 C391.50,349.60 391.93,348.83 392.20,348.00 C392.47,347.17 392.95,346.00 393.10,345.60 Z" fill="#5F98CC" stroke="none"/>
<path d="M393.10,345.60 C393.25,346.00 393.73,347.17 394.00,348.00 C394.27,348.83 394.70,349.60 394.70,350.60 C394.70,351.60 393.97,352.77 394.00,354.00 C394.03,355.23 394.55,356.60 394.90,358.00 C395.25,359.40 396.10,361.07 396.10,362.40 C396.10,363.73 395.30,364.90 394.90,366.00 C394.50,367.10 394.00,367.92 393.70,369.00 C393.40,370.08 393.20,371.92 393.10,372.50" fill="none" stroke="#1a1a1a" stroke-width="0.9"/>
<path d="M393.10,345.60 C392.95,346.00 392.47,347.17 392.20,348.00 C391.93,348.83 391.50,349.60 391.50,350.60 C391.50,351.60 392.23,352.77 392.20,354.00 C392.17,355.23 391.65,356.60 391.30,358.00 C390.95,359.40 390.10,361.07 390.10,362.40 C390.10,363.73 390.90,364.90 391.30,366.00 C391.70,367.10 392.20,367.92 392.50,369.00 C392.80,370.08 393.00,371.92 393.10,372.50" fill="none" stroke="#1a1a1a" stroke-width="0.9"/>
<path d="M403.50,365.30 C403.85,365.40 405.10,365.73 405.60,365.90 C406.10,366.07 406.50,366.17 406.50,366.30 C406.50,366.43 406.10,366.53 405.60,366.70 C405.10,366.87 403.85,367.20 403.50,367.30 L403.50,367.30 C403.15,367.20 401.90,366.87 401.40,366.70 C400.90,366.53 400.50,366.43 400.50,366.30 C400.50,366.17 400.90,366.07 401.40,365.90 C401.90,365.73 403.15,365.40 403.50,365.30 Z" fill="#222" stroke="none"/>
<path d="M403.50,365.30 C403.85,365.40 405.10,365.73 405.60,365.90 C406.10,366.07 406.50,366.17 406.50,366.30 C406.50,366.43 406.10,366.53 405.60,366.70 C405.10,366.87 403.85,367.20 403.50,367.30" fill="none" stroke="#1a1a1a" stroke-width="0.6"/>
<path d="M403.50,365.30 C403.15,365.40 401.90,365.73 401.40,365.90 C400.90,366.07 400.50,366.17 400.50,366.30 C400.50,366.43 400.90,366.53 401.40,366.70 C401.90,366.87 403.15,367.20 403.50,367.30" fill="none" stroke="#1a1a1a" stroke-width="0.6"/>
<path d="M413.60,354.00 C413.73,354.33 414.18,355.30 414.40,356.00 C414.62,356.70 414.88,357.45 414.90,358.20 C414.92,358.95 414.35,359.70 414.50,360.50 C414.65,361.30 415.45,362.25 415.80,363.00 C416.15,363.75 416.67,364.25 416.60,365.00 C416.53,365.75 415.90,366.58 415.40,367.50 C414.90,368.42 413.90,370.00 413.60,370.50 L413.60,370.50 C413.30,370.00 412.30,368.42 411.80,367.50 C411.30,366.58 410.67,365.75 410.60,365.00 C410.53,364.25 411.05,363.75 411.40,363.00 C411.75,362.25 412.55,361.30 412.70,360.50 C412.85,359.70 412.28,358.95 412.30,358.20 C412.32,357.45 412.58,356.70 412.80,356.00 C413.02,355.30 413.47,354.33 413.60,354.00 Z" fill="#F2A95A" stroke="none"/>
<path d="M413.60,354.00 C413.73,354.33 414.18,355.30 414.40,356.00 C414.62,356.70 414.88,357.45 414.90,358.20 C414.92,358.95 414.35,359.70 414.50,360.50 C414.65,361.30 415.45,362.25 415.80,363.00 C416.15,363.75 416.67,364.25 416.60,365.00 C416.53,365.75 415.90,366.58 415.40,367.50 C414.90,368.42 413.90,370.00 413.60,370.50" fill="none" stroke="#1a1a1a" stroke-width="0.9"/>
<path d="M413.60,354.00 C413.47,354.33 413.02,355.30 412.80,356.00 C412.58,356.70 412.32,357.45 412.30,358.20 C412.28,358.95 412.85,359.70 412.70,360.50 C412.55,361.30 411.75,362.25 411.40,363.00 C411.05,363.75 410.53,364.25 410.60,365.00 C410.67,365.75 411.30,366.58 411.80,367.50 C412.30,368.42 413.30,370.00 413.60,370.50" fill="none" stroke="#1a1a1a" stroke-width="0.9"/>
<path d="M430.40,346.20 C430.55,346.67 431.02,347.98 431.30,349.00 C431.58,350.02 432.05,351.13 432.10,352.30 C432.15,353.47 431.50,354.88 431.60,356.00 C431.70,357.12 432.37,357.93 432.70,359.00 C433.03,360.07 433.58,361.23 433.60,362.40 C433.62,363.57 433.20,364.73 432.80,366.00 C432.40,367.27 431.60,368.78 431.20,370.00 C430.80,371.22 430.53,372.75 430.40,373.30 L430.40,373.30 C430.27,372.75 430.00,371.22 429.60,370.00 C429.20,368.78 428.40,367.27 428.00,366.00 C427.60,364.73 427.18,363.57 427.20,362.40 C427.22,361.23 427.77,360.07 428.10,359.00 C428.43,357.93 429.10,357.12 429.20,356.00 C429.30,354.88 428.65,353.47 428.70,352.30 C428.75,351.13 429.22,350.02 429.50,349.00 C429.78,347.98 430.25,346.67 430.40,346.20 Z" fill="#5F98CC" stroke="none"/>
<path d="M430.40,346.20 C430.55,346.67 431.02,347.98 431.30,349.00 C431.58,350.02 432.05,351.13 432.10,352.30 C432.15,353.47 431.50,354.88 431.60,356.00 C431.70,357.12 432.37,357.93 432.70,359.00 C433.03,360.07 433.58,361.23 433.60,362.40 C433.62,363.57 433.20,364.73 432.80,366.00 C432.40,367.27 431.60,368.78 431.20,370.00 C430.80,371.22 430.53,372.75 430.40,373.30" fill="none" stroke="#1a1a1a" stroke-width="0.9"/>
<path d="M430.40,346.20 C430.25,346.67 429.78,347.98 429.50,349.00 C429.22,350.02 428.75,351.13 428.70,352.30 C428.65,353.47 429.30,354.88 429.20,356.00 C429.10,357.12 428.43,357.93 428.10,359.00 C427.77,360.07 427.22,361.23 427.20,362.40 C427.18,363.57 427.60,364.73 428.00,366.00 C428.40,367.27 429.20,368.78 429.60,370.00 C430.00,371.22 430.27,372.75 430.40,373.30" fill="none" stroke="#1a1a1a" stroke-width="0.9"/>
<path d="M441.00,296.50 C441.08,297.08 441.32,298.75 441.50,300.00 C441.68,301.25 441.82,302.75 442.10,304.00 C442.38,305.25 442.93,306.40 443.20,307.50 C443.47,308.60 443.62,310.08 443.70,310.60 L438.30,310.60 C438.38,310.08 438.53,308.60 438.80,307.50 C439.07,306.40 439.62,305.25 439.90,304.00 C440.18,302.75 440.32,301.25 440.50,300.00 C440.68,298.75 440.92,297.08 441.00,296.50 Z" fill="#EE93A6" stroke="none"/>
<path d="M441.00,296.50 C441.08,297.08 441.32,298.75 441.50,300.00 C441.68,301.25 441.82,302.75 442.10,304.00 C442.38,305.25 442.93,306.40 443.20,307.50 C443.47,308.60 443.62,310.08 443.70,310.60" fill="none" stroke="#1a1a1a" stroke-width="0.9"/>
<path d="M441.00,296.50 C440.92,297.08 440.68,298.75 440.50,300.00 C440.32,301.25 440.18,302.75 439.90,304.00 C439.62,305.25 439.07,306.40 438.80,307.50 C438.53,308.60 438.38,310.08 438.30,310.60" fill="none" stroke="#1a1a1a" stroke-width="0.9"/>
<path d="M443.80,318.40 C443.77,320.00 443.60,324.65 443.60,328.00 C443.60,331.35 443.77,336.75 443.80,338.50 L438.20,338.50 C438.23,336.75 438.40,331.35 438.40,328.00 C438.40,324.65 438.23,320.00 438.20,318.40 Z" fill="#EE93A6" stroke="none"/>
<path d="M443.80,318.40 C443.77,320.00 443.60,324.65 443.60,328.00 C443.60,331.35 443.77,336.75 443.80,338.50" fill="none" stroke="#1a1a1a" stroke-width="0.9"/>
<path d="M438.20,318.40 C438.23,320.00 438.40,324.65 438.40,328.00 C438.40,331.35 438.23,336.75 438.20,338.50" fill="none" stroke="#1a1a1a" stroke-width="0.9"/>
<path d="M443.80,345.90 C443.80,352.72 443.80,379.98 443.80,386.80 L438.20,386.80 C438.20,379.98 438.20,352.72 438.20,345.90 Z" fill="#EE93A6" stroke="none"/>
<path d="M443.80,345.90 C443.80,352.72 443.80,379.98 443.80,386.80" fill="none" stroke="#1a1a1a" stroke-width="0.9"/>
<path d="M438.20,345.90 C438.20,352.72 438.20,379.98 438.20,386.80" fill="none" stroke="#1a1a1a" stroke-width="0.9"/>
<line x1="438.90" y1="366.30" x2="443.10" y2="366.30" stroke="#1a1a1a" stroke-width="0.7"/>
<path d="M451.40,356.30 C451.55,356.67 452.08,357.80 452.30,358.50 C452.52,359.20 452.68,359.83 452.70,360.50 C452.72,361.17 452.20,361.62 452.40,362.50 C452.60,363.38 453.77,364.80 453.90,365.80 C454.03,366.80 453.62,367.67 453.20,368.50 C452.78,369.33 451.70,370.42 451.40,370.80 L451.40,370.80 C451.10,370.42 450.02,369.33 449.60,368.50 C449.18,367.67 448.77,366.80 448.90,365.80 C449.03,364.80 450.20,363.38 450.40,362.50 C450.60,361.62 450.08,361.17 450.10,360.50 C450.12,359.83 450.28,359.20 450.50,358.50 C450.72,357.80 451.25,356.67 451.40,356.30 Z" fill="#F2A95A" stroke="none"/>
<path d="M451.40,356.30 C451.55,356.67 452.08,357.80 452.30,358.50 C452.52,359.20 452.68,359.83 452.70,360.50 C452.72,361.17 452.20,361.62 452.40,362.50 C452.60,363.38 453.77,364.80 453.90,365.80 C454.03,366.80 453.62,367.67 453.20,368.50 C452.78,369.33 451.70,370.42 451.40,370.80" fill="none" stroke="#1a1a1a" stroke-width="0.9"/>
<path d="M451.40,356.30 C451.25,356.67 450.72,357.80 450.50,358.50 C450.28,359.20 450.12,359.83 450.10,360.50 C450.08,361.17 450.60,361.62 450.40,362.50 C450.20,363.38 449.03,364.80 448.90,365.80 C448.77,366.80 449.18,367.67 449.60,368.50 C450.02,369.33 451.10,370.42 451.40,370.80" fill="none" stroke="#1a1a1a" stroke-width="0.9"/>
<path d="M468.10,357.20 C468.22,357.58 468.63,358.77 468.80,359.50 C468.97,360.23 469.08,360.93 469.10,361.60 C469.12,362.27 468.65,362.67 468.90,363.50 C469.15,364.33 470.50,365.72 470.60,366.60 C470.70,367.48 469.92,368.10 469.50,368.80 C469.08,369.50 468.33,370.47 468.10,370.80 L468.10,370.80 C467.87,370.47 467.12,369.50 466.70,368.80 C466.28,368.10 465.50,367.48 465.60,366.60 C465.70,365.72 467.05,364.33 467.30,363.50 C467.55,362.67 467.08,362.27 467.10,361.60 C467.12,360.93 467.23,360.23 467.40,359.50 C467.57,358.77 467.98,357.58 468.10,357.20 Z" fill="#5F98CC" stroke="none"/>
<path d="M468.10,357.20 C468.22,357.58 468.63,358.77 468.80,359.50 C468.97,360.23 469.08,360.93 469.10,361.60 C469.12,362.27 468.65,362.67 468.90,363.50 C469.15,364.33 470.50,365.72 470.60,366.60 C470.70,367.48 469.92,368.10 469.50,368.80 C469.08,369.50 468.33,370.47 468.10,370.80" fill="none" stroke="#1a1a1a" stroke-width="0.9"/>
<path d="M468.10,357.20 C467.98,357.58 467.57,358.77 467.40,359.50 C467.23,360.23 467.12,360.93 467.10,361.60 C467.08,362.27 467.55,362.67 467.30,363.50 C467.05,364.33 465.70,365.72 465.60,366.60 C465.50,367.48 466.28,368.10 466.70,368.80 C467.12,369.50 467.87,370.47 468.10,370.80" fill="none" stroke="#1a1a1a" stroke-width="0.9"/>
<path d="M478.50,317.80 C478.63,318.25 478.97,319.55 479.30,320.50 C479.63,321.45 480.13,322.40 480.50,323.50 C480.87,324.60 481.42,325.85 481.50,327.10 C481.58,328.35 481.13,329.68 481.00,331.00 C480.87,332.32 480.73,333.75 480.70,335.00 C480.67,336.25 480.78,337.92 480.80,338.50 L476.20,338.50 C476.22,337.92 476.33,336.25 476.30,335.00 C476.27,333.75 476.13,332.32 476.00,331.00 C475.87,329.68 475.42,328.35 475.50,327.10 C475.58,325.85 476.13,324.60 476.50,323.50 C476.87,322.40 477.37,321.45 477.70,320.50 C478.03,319.55 478.37,318.25 478.50,317.80 Z" fill="#EE93A6" stroke="none"/>
<path d="M478.50,317.80 C478.63,318.25 478.97,319.55 479.30,320.50 C479.63,321.45 480.13,322.40 480.50,323.50 C480.87,324.60 481.42,325.85 481.50,327.10 C481.58,328.35 481.13,329.68 481.00,331.00 C480.87,332.32 480.73,333.75 480.70,335.00 C480.67,336.25 480.78,337.92 480.80,338.50" fill="none" stroke="#1a1a1a" stroke-width="0.9"/>
<path d="M478.50,317.80 C478.37,318.25 478.03,319.55 477.70,320.50 C477.37,321.45 476.87,322.40 476.50,323.50 C476.13,324.60 475.58,325.85 475.50,327.10 C475.42,328.35 475.87,329.68 476.00,331.00 C476.13,332.32 476.27,333.75 476.30,335.00 C476.33,336.25 476.22,337.92 476.20,338.50" fill="none" stroke="#1a1a1a" stroke-width="0.9"/>
<line x1="476.64" y1="331.30" x2="480.36" y2="331.30" stroke="#1a1a1a" stroke-width="0.7"/>
<path d="M480.70,345.90 C480.60,349.08 480.33,358.18 480.10,365.00 C479.87,371.82 479.43,383.17 479.30,386.80 L477.70,386.80 C477.57,383.17 477.13,371.82 476.90,365.00 C476.67,358.18 476.40,349.08 476.30,345.90 Z" fill="#EE93A6" stroke="none"/>
<path d="M480.70,345.90 C480.60,349.08 480.33,358.18 480.10,365.00 C479.87,371.82 479.43,383.17 479.30,386.80" fill="none" stroke="#1a1a1a" stroke-width="0.9"/>
<path d="M476.30,345.90 C476.40,349.08 476.67,358.18 476.90,365.00 C477.13,371.82 477.57,383.17 477.70,386.80" fill="none" stroke="#1a1a1a" stroke-width="0.9"/>
<path d="M488.90,331.00 C489.05,331.33 489.55,332.25 489.80,333.00 C490.05,333.75 490.38,334.75 490.40,335.50 C490.42,336.25 490.08,337.00 489.90,337.50 C489.72,338.00 489.40,338.33 489.30,338.50 L488.50,338.50 C488.40,338.33 488.08,338.00 487.90,337.50 C487.72,337.00 487.38,336.25 487.40,335.50 C487.42,334.75 487.75,333.75 488.00,333.00 C488.25,332.25 488.75,331.33 488.90,331.00 Z" fill="#F2A95A" stroke="none"/>
<path d="M488.90,331.00 C489.05,331.33 489.55,332.25 489.80,333.00 C490.05,333.75 490.38,334.75 490.40,335.50 C490.42,336.25 490.08,337.00 489.90,337.50 C489.72,338.00 489.40,338.33 489.30,338.50" fill="none" stroke="#1a1a1a" stroke-width="0.9"/>
<path d="M488.90,331.00 C488.75,331.33 488.25,332.25 488.00,333.00 C487.75,333.75 487.42,334.75 487.40,335.50 C487.38,336.25 487.72,337.00 487.90,337.50 C488.08,338.00 488.40,338.33 488.50,338.50" fill="none" stroke="#1a1a1a" stroke-width="0.9"/>
<path d="M491.10,345.90 C491.20,347.42 491.58,351.65 491.70,355.00 C491.82,358.35 491.83,362.17 491.80,366.00 C491.77,369.83 491.62,374.53 491.50,378.00 C491.38,381.47 491.17,385.33 491.10,386.80 L486.70,386.80 C486.63,385.33 486.42,381.47 486.30,378.00 C486.18,374.53 486.03,369.83 486.00,366.00 C485.97,362.17 485.98,358.35 486.10,355.00 C486.22,351.65 486.60,347.42 486.70,345.90 Z" fill="#F2A95A" stroke="none"/>
<path d="M491.10,345.90 C491.20,347.42 491.58,351.65 491.70,355.00 C491.82,358.35 491.83,362.17 491.80,366.00 C491.77,369.83 491.62,374.53 491.50,378.00 C491.38,381.47 491.17,385.33 491.10,386.80" fill="none" stroke="#1a1a1a" stroke-width="0.9"/>
<path d="M486.70,345.90 C486.60,347.42 486.22,351.65 486.10,355.00 C485.98,358.35 485.97,362.17 486.00,366.00 C486.03,369.83 486.18,374.53 486.30,378.00 C486.42,381.47 486.63,385.33 486.70,386.80" fill="none" stroke="#1a1a1a" stroke-width="0.9"/>
<line x1="486.73" y1="365.80" x2="491.07" y2="365.80" stroke="#1a1a1a" stroke-width="0.7"/>
<path d="M505.70,364.20 C505.85,364.37 506.10,364.85 506.60,365.20 C507.10,365.55 508.58,365.95 508.70,366.30 C508.82,366.65 507.80,366.97 507.30,367.30 C506.80,367.63 505.97,368.13 505.70,368.30 L505.70,368.30 C505.43,368.13 504.60,367.63 504.10,367.30 C503.60,366.97 502.58,366.65 502.70,366.30 C502.82,365.95 504.30,365.55 504.80,365.20 C505.30,364.85 505.55,364.37 505.70,364.20 Z" fill="#5F98CC" stroke="none"/>
<path d="M505.70,364.20 C505.85,364.37 506.10,364.85 506.60,365.20 C507.10,365.55 508.58,365.95 508.70,366.30 C508.82,366.65 507.80,366.97 507.30,367.30 C506.80,367.63 505.97,368.13 505.70,368.30" fill="none" stroke="#1a1a1a" stroke-width="0.9"/>
<path d="M505.70,364.20 C505.55,364.37 505.30,364.85 504.80,365.20 C504.30,365.55 502.82,365.95 502.70,366.30 C502.58,366.65 503.60,366.97 504.10,367.30 C504.60,367.63 505.43,368.13 505.70,368.30" fill="none" stroke="#1a1a1a" stroke-width="0.9"/>
<path d="M516.30,318.80 C516.43,319.25 516.78,320.47 517.10,321.50 C517.42,322.53 517.92,323.78 518.20,325.00 C518.48,326.22 518.75,327.63 518.80,328.80 C518.85,329.97 518.52,330.97 518.50,332.00 C518.48,333.03 518.60,333.92 518.70,335.00 C518.80,336.08 519.03,337.92 519.10,338.50 L513.50,338.50 C513.57,337.92 513.80,336.08 513.90,335.00 C514.00,333.92 514.12,333.03 514.10,332.00 C514.08,330.97 513.75,329.97 513.80,328.80 C513.85,327.63 514.12,326.22 514.40,325.00 C514.68,323.78 515.18,322.53 515.50,321.50 C515.82,320.47 516.17,319.25 516.30,318.80 Z" fill="#EE93A6" stroke="none"/>
<path d="M516.30,318.80 C516.43,319.25 516.78,320.47 517.10,321.50 C517.42,322.53 517.92,323.78 518.20,325.00 C518.48,326.22 518.75,327.63 518.80,328.80 C518.85,329.97 518.52,330.97 518.50,332.00 C518.48,333.03 518.60,333.92 518.70,335.00 C518.80,336.08 519.03,337.92 519.10,338.50" fill="none" stroke="#1a1a1a" stroke-width="0.9"/>
<path d="M516.30,318.80 C516.17,319.25 515.82,320.47 515.50,321.50 C515.18,322.53 514.68,323.78 514.40,325.00 C514.12,326.22 513.85,327.63 513.80,328.80 C513.75,329.97 514.08,330.97 514.10,332.00 C514.12,333.03 514.00,333.92 513.90,335.00 C513.80,336.08 513.57,337.92 513.50,338.50" fill="none" stroke="#1a1a1a" stroke-width="0.9"/>
<line x1="514.56" y1="333.80" x2="518.04" y2="333.80" stroke="#1a1a1a" stroke-width="0.7"/>
<path d="M518.80,345.90 C518.65,349.08 518.18,358.18 517.90,365.00 C517.62,371.82 517.23,383.17 517.10,386.80 L515.50,386.80 C515.37,383.17 514.98,371.82 514.70,365.00 C514.42,358.18 513.95,349.08 513.80,345.90 Z" fill="#EE93A6" stroke="none"/>
<path d="M518.80,345.90 C518.65,349.08 518.18,358.18 517.90,365.00 C517.62,371.82 517.23,383.17 517.10,386.80" fill="none" stroke="#1a1a1a" stroke-width="0.9"/>
<path d="M513.80,345.90 C513.95,349.08 514.42,358.18 514.70,365.00 C514.98,371.82 515.37,383.17 515.50,386.80" fill="none" stroke="#1a1a1a" stroke-width="0.9"/>
<path d="M526.40,330.20 C526.53,330.58 526.95,331.75 527.20,332.50 C527.45,333.25 527.87,333.98 527.90,334.70 C527.93,335.42 527.58,336.17 527.40,336.80 C527.22,337.43 526.90,338.22 526.80,338.50 L526.00,338.50 C525.90,338.22 525.58,337.43 525.40,336.80 C525.22,336.17 524.87,335.42 524.90,334.70 C524.93,333.98 525.35,333.25 525.60,332.50 C525.85,331.75 526.27,330.58 526.40,330.20 Z" fill="#F2A95A" stroke="none"/>
<path d="M526.40,330.20 C526.53,330.58 526.95,331.75 527.20,332.50 C527.45,333.25 527.87,333.98 527.90,334.70 C527.93,335.42 527.58,336.17 527.40,336.80 C527.22,337.43 526.90,338.22 526.80,338.50" fill="none" stroke="#1a1a1a" stroke-width="0.9"/>
<path d="M526.40,330.20 C526.27,330.58 525.85,331.75 525.60,332.50 C525.35,333.25 524.93,333.98 524.90,334.70 C524.87,335.42 525.22,336.17 525.40,336.80 C525.58,337.43 525.90,338.22 526.00,338.50" fill="none" stroke="#1a1a1a" stroke-width="0.9"/>
<path d="M528.70,345.90 C528.78,347.42 529.10,351.65 529.20,355.00 C529.30,358.35 529.33,362.17 529.30,366.00 C529.27,369.83 529.12,374.53 529.00,378.00 C528.88,381.47 528.67,385.33 528.60,386.80 L524.20,386.80 C524.13,385.33 523.92,381.47 523.80,378.00 C523.68,374.53 523.53,369.83 523.50,366.00 C523.47,362.17 523.50,358.35 523.60,355.00 C523.70,351.65 524.02,347.42 524.10,345.90 Z" fill="#F2A95A" stroke="none"/>
<path d="M528.70,345.90 C528.78,347.42 529.10,351.65 529.20,355.00 C529.30,358.35 529.33,362.17 529.30,366.00 C529.27,369.83 529.12,374.53 529.00,378.00 C528.88,381.47 528.67,385.33 528.60,386.80" fill="none" stroke="#1a1a1a" stroke-width="0.9"/>
<path d="M524.10,345.90 C524.02,347.42 523.70,351.65 523.60,355.00 C523.50,358.35 523.47,362.17 523.50,366.00 C523.53,369.83 523.68,374.53 523.80,378.00 C523.92,381.47 524.13,385.33 524.20,386.80" fill="none" stroke="#1a1a1a" stroke-width="0.9"/>
<line x1="524.24" y1="364.10" x2="528.56" y2="364.10" stroke="#1a1a1a" stroke-width="0.7"/>
<path d="M543.10,355.50 C543.23,355.75 543.70,356.50 543.90,357.00 C544.10,357.50 544.28,357.92 544.30,358.50 C544.32,359.08 543.83,359.83 544.00,360.50 C544.17,361.17 544.95,361.88 545.30,362.50 C545.65,363.12 546.22,363.58 546.10,364.20 C545.98,364.82 545.10,365.50 544.60,366.20 C544.10,366.90 543.35,368.03 543.10,368.40 L543.10,368.40 C542.85,368.03 542.10,366.90 541.60,366.20 C541.10,365.50 540.22,364.82 540.10,364.20 C539.98,363.58 540.55,363.12 540.90,362.50 C541.25,361.88 542.03,361.17 542.20,360.50 C542.37,359.83 541.88,359.08 541.90,358.50 C541.92,357.92 542.10,357.50 542.30,357.00 C542.50,356.50 542.97,355.75 543.10,355.50 Z" fill="#5F98CC" stroke="none"/>
<path d="M543.10,355.50 C543.23,355.75 543.70,356.50 543.90,357.00 C544.10,357.50 544.28,357.92 544.30,358.50 C544.32,359.08 543.83,359.83 544.00,360.50 C544.17,361.17 544.95,361.88 545.30,362.50 C545.65,363.12 546.22,363.58 546.10,364.20 C545.98,364.82 545.10,365.50 544.60,366.20 C544.10,366.90 543.35,368.03 543.10,368.40" fill="none" stroke="#1a1a1a" stroke-width="0.9"/>
<path d="M543.10,355.50 C542.97,355.75 542.50,356.50 542.30,357.00 C542.10,357.50 541.92,357.92 541.90,358.50 C541.88,359.08 542.37,359.83 542.20,360.50 C542.03,361.17 541.25,361.88 540.90,362.50 C540.55,363.12 539.98,363.58 540.10,364.20 C540.22,364.82 541.10,365.50 541.60,366.20 C542.10,366.90 542.85,368.03 543.10,368.40" fill="none" stroke="#1a1a1a" stroke-width="0.9"/>
<path d="M553.50,326.00 C553.62,326.33 553.95,327.33 554.20,328.00 C554.45,328.67 554.88,329.25 555.00,330.00 C555.12,330.75 554.77,331.67 554.90,332.50 C555.03,333.33 555.60,334.25 555.80,335.00 C556.00,335.75 556.05,336.42 556.10,337.00 C556.15,337.58 556.10,338.25 556.10,338.50 L550.90,338.50 C550.90,338.25 550.85,337.58 550.90,337.00 C550.95,336.42 551.00,335.75 551.20,335.00 C551.40,334.25 551.97,333.33 552.10,332.50 C552.23,331.67 551.88,330.75 552.00,330.00 C552.12,329.25 552.55,328.67 552.80,328.00 C553.05,327.33 553.38,326.33 553.50,326.00 Z" fill="#EE93A6" stroke="none"/>
<path d="M553.50,326.00 C553.62,326.33 553.95,327.33 554.20,328.00 C554.45,328.67 554.88,329.25 555.00,330.00 C555.12,330.75 554.77,331.67 554.90,332.50 C555.03,333.33 555.60,334.25 555.80,335.00 C556.00,335.75 556.05,336.42 556.10,337.00 C556.15,337.58 556.10,338.25 556.10,338.50" fill="none" stroke="#1a1a1a" stroke-width="0.9"/>
<path d="M553.50,326.00 C553.38,326.33 553.05,327.33 552.80,328.00 C552.55,328.67 552.12,329.25 552.00,330.00 C551.88,330.75 552.23,331.67 552.10,332.50 C551.97,333.33 551.40,334.25 551.20,335.00 C551.00,335.75 550.95,336.42 550.90,337.00 C550.85,337.58 550.90,338.25 550.90,338.50" fill="none" stroke="#1a1a1a" stroke-width="0.9"/>
<line x1="551.63" y1="336.30" x2="555.37" y2="336.30" stroke="#1a1a1a" stroke-width="0.7"/>
<path d="M555.80,345.90 C555.68,349.08 555.35,358.18 555.10,365.00 C554.85,371.82 554.43,383.17 554.30,386.80 L552.70,386.80 C552.57,383.17 552.15,371.82 551.90,365.00 C551.65,358.18 551.32,349.08 551.20,345.90 Z" fill="#EE93A6" stroke="none"/>
<path d="M555.80,345.90 C555.68,349.08 555.35,358.18 555.10,365.00 C554.85,371.82 554.43,383.17 554.30,386.80" fill="none" stroke="#1a1a1a" stroke-width="0.9"/>
<path d="M551.20,345.90 C551.32,349.08 551.65,358.18 551.90,365.00 C552.15,371.82 552.57,383.17 552.70,386.80" fill="none" stroke="#1a1a1a" stroke-width="0.9"/>
<path d="M563.90,320.50 C563.98,320.92 564.25,322.08 564.40,323.00 C564.55,323.92 564.63,325.03 564.80,326.00 C564.97,326.97 565.40,327.88 565.40,328.80 C565.40,329.72 564.92,330.55 564.80,331.50 C564.68,332.45 564.58,333.67 564.70,334.50 C564.82,335.33 565.20,335.83 565.50,336.50 C565.80,337.17 566.33,338.17 566.50,338.50 L561.30,338.50 C561.47,338.17 562.00,337.17 562.30,336.50 C562.60,335.83 562.98,335.33 563.10,334.50 C563.22,333.67 563.12,332.45 563.00,331.50 C562.88,330.55 562.40,329.72 562.40,328.80 C562.40,327.88 562.83,326.97 563.00,326.00 C563.17,325.03 563.25,323.92 563.40,323.00 C563.55,322.08 563.82,320.92 563.90,320.50 Z" fill="#F2A95A" stroke="none"/>
<path d="M563.90,320.50 C563.98,320.92 564.25,322.08 564.40,323.00 C564.55,323.92 564.63,325.03 564.80,326.00 C564.97,326.97 565.40,327.88 565.40,328.80 C565.40,329.72 564.92,330.55 564.80,331.50 C564.68,332.45 564.58,333.67 564.70,334.50 C564.82,335.33 565.20,335.83 565.50,336.50 C565.80,337.17 566.33,338.17 566.50,338.50" fill="none" stroke="#1a1a1a" stroke-width="0.9"/>
<path d="M563.90,320.50 C563.82,320.92 563.55,322.08 563.40,323.00 C563.25,323.92 563.17,325.03 563.00,326.00 C562.83,326.97 562.40,327.88 562.40,328.80 C562.40,329.72 562.88,330.55 563.00,331.50 C563.12,332.45 563.22,333.67 563.10,334.50 C562.98,335.33 562.60,335.83 562.30,336.50 C562.00,337.17 561.47,338.17 561.30,338.50" fill="none" stroke="#1a1a1a" stroke-width="0.9"/>
<path d="M566.70,345.90 C566.70,352.72 566.70,379.98 566.70,386.80 L561.10,386.80 C561.10,379.98 561.10,352.72 561.10,345.90 Z" fill="#F2A95A" stroke="none"/>
<path d="M566.70,345.90 C566.70,352.72 566.70,379.98 566.70,386.80" fill="none" stroke="#1a1a1a" stroke-width="0.9"/>
<path d="M561.10,345.90 C561.10,352.72 561.10,379.98 561.10,386.80" fill="none" stroke="#1a1a1a" stroke-width="0.9"/>
<line x1="561.80" y1="358.20" x2="566.00" y2="358.20" stroke="#1a1a1a" stroke-width="0.7"/>
<path d="M580.70,356.30 C580.83,356.63 581.30,357.68 581.50,358.30 C581.70,358.92 581.87,359.55 581.90,360.00 C581.93,360.45 581.43,360.60 581.70,361.00 C581.97,361.40 583.40,361.82 583.50,362.40 C583.60,362.98 582.77,363.67 582.30,364.50 C581.83,365.33 580.97,366.92 580.70,367.40 L580.70,367.40 C580.43,366.92 579.57,365.33 579.10,364.50 C578.63,363.67 577.80,362.98 577.90,362.40 C578.00,361.82 579.43,361.40 579.70,361.00 C579.97,360.60 579.47,360.45 579.50,360.00 C579.53,359.55 579.70,358.92 579.90,358.30 C580.10,357.68 580.57,356.63 580.70,356.30 Z" fill="#5F98CC" stroke="none"/>
<path d="M580.70,356.30 C580.83,356.63 581.30,357.68 581.50,358.30 C581.70,358.92 581.87,359.55 581.90,360.00 C581.93,360.45 581.43,360.60 581.70,361.00 C581.97,361.40 583.40,361.82 583.50,362.40 C583.60,362.98 582.77,363.67 582.30,364.50 C581.83,365.33 580.97,366.92 580.70,367.40" fill="none" stroke="#1a1a1a" stroke-width="0.9"/>
<path d="M580.70,356.30 C580.57,356.63 580.10,357.68 579.90,358.30 C579.70,358.92 579.53,359.55 579.50,360.00 C579.47,360.45 579.97,360.60 579.70,361.00 C579.43,361.40 578.00,361.82 577.90,362.40 C577.80,362.98 578.63,363.67 579.10,364.50 C579.57,365.33 580.43,366.92 580.70,367.40" fill="none" stroke="#1a1a1a" stroke-width="0.9"/>
<path d="M591.30,333.80 C591.47,334.00 592.03,334.58 592.30,335.00 C592.57,335.42 592.90,335.87 592.90,336.30 C592.90,336.73 592.52,337.23 592.30,337.60 C592.08,337.97 591.72,338.35 591.60,338.50 L591.00,338.50 C590.88,338.35 590.52,337.97 590.30,337.60 C590.08,337.23 589.70,336.73 589.70,336.30 C589.70,335.87 590.03,335.42 590.30,335.00 C590.57,334.58 591.13,334.00 591.30,333.80 Z" fill="#EE93A6" stroke="none"/>
<path d="M591.30,333.80 C591.47,334.00 592.03,334.58 592.30,335.00 C592.57,335.42 592.90,335.87 592.90,336.30 C592.90,336.73 592.52,337.23 592.30,337.60 C592.08,337.97 591.72,338.35 591.60,338.50" fill="none" stroke="#1a1a1a" stroke-width="0.9"/>
<path d="M591.30,333.80 C591.13,334.00 590.57,334.58 590.30,335.00 C590.03,335.42 589.70,335.87 589.70,336.30 C589.70,336.73 590.08,337.23 590.30,337.60 C590.52,337.97 590.88,338.35 591.00,338.50" fill="none" stroke="#1a1a1a" stroke-width="0.9"/>
<path d="M594.00,345.90 C594.03,346.75 594.13,349.37 594.20,351.00 C594.27,352.63 594.47,353.87 594.40,355.70 C594.33,357.53 594.08,359.28 593.80,362.00 C593.52,364.72 593.07,367.87 592.70,372.00 C592.33,376.13 591.78,384.33 591.60,386.80 L591.00,386.80 C590.82,384.33 590.27,376.13 589.90,372.00 C589.53,367.87 589.08,364.72 588.80,362.00 C588.52,359.28 588.27,357.53 588.20,355.70 C588.13,353.87 588.33,352.63 588.40,351.00 C588.47,349.37 588.57,346.75 588.60,345.90 Z" fill="#EE93A6" stroke="none"/>
<path d="M594.00,345.90 C594.03,346.75 594.13,349.37 594.20,351.00 C594.27,352.63 594.47,353.87 594.40,355.70 C594.33,357.53 594.08,359.28 593.80,362.00 C593.52,364.72 593.07,367.87 592.70,372.00 C592.33,376.13 591.78,384.33 591.60,386.80" fill="none" stroke="#1a1a1a" stroke-width="0.9"/>
<path d="M588.60,345.90 C588.57,346.75 588.47,349.37 588.40,351.00 C588.33,352.63 588.13,353.87 588.20,355.70 C588.27,357.53 588.52,359.28 588.80,362.00 C589.08,364.72 589.53,367.87 589.90,372.00 C590.27,376.13 590.82,384.33 591.00,386.80" fill="none" stroke="#1a1a1a" stroke-width="0.9"/>
<line x1="589.03" y1="356.50" x2="593.57" y2="356.50" stroke="#1a1a1a" stroke-width="0.7"/>
<path d="M601.40,350.50 C601.50,350.92 601.82,352.08 602.00,353.00 C602.18,353.92 602.38,355.08 602.50,356.00 C602.62,356.92 602.53,357.67 602.70,358.50 C602.87,359.33 603.27,360.22 603.50,361.00 C603.73,361.78 604.15,362.28 604.10,363.20 C604.05,364.12 603.65,365.28 603.20,366.50 C602.75,367.72 601.70,369.83 601.40,370.50 L601.40,370.50 C601.10,369.83 600.05,367.72 599.60,366.50 C599.15,365.28 598.75,364.12 598.70,363.20 C598.65,362.28 599.07,361.78 599.30,361.00 C599.53,360.22 599.93,359.33 600.10,358.50 C600.27,357.67 600.18,356.92 600.30,356.00 C600.42,355.08 600.62,353.92 600.80,353.00 C600.98,352.08 601.30,350.92 601.40,350.50 Z" fill="#F2A95A" stroke="none"/>
<path d="M601.40,350.50 C601.50,350.92 601.82,352.08 602.00,353.00 C602.18,353.92 602.38,355.08 602.50,356.00 C602.62,356.92 602.53,357.67 602.70,358.50 C602.87,359.33 603.27,360.22 603.50,361.00 C603.73,361.78 604.15,362.28 604.10,363.20 C604.05,364.12 603.65,365.28 603.20,366.50 C602.75,367.72 601.70,369.83 601.40,370.50" fill="none" stroke="#1a1a1a" stroke-width="0.9"/>
<path d="M601.40,350.50 C601.30,350.92 600.98,352.08 600.80,353.00 C600.62,353.92 600.42,355.08 600.30,356.00 C600.18,356.92 600.27,357.67 600.10,358.50 C599.93,359.33 599.53,360.22 599.30,361.00 C599.07,361.78 598.65,362.28 598.70,363.20 C598.75,364.12 599.15,365.28 599.60,366.50 C600.05,367.72 601.10,369.83 601.40,370.50" fill="none" stroke="#1a1a1a" stroke-width="0.9"/>
<path d="M618.40,363.30 C618.67,363.47 619.57,364.03 620.00,364.30 C620.43,364.57 621.03,364.65 621.00,364.90 C620.97,365.15 620.23,365.50 619.80,365.80 C619.37,366.10 618.63,366.55 618.40,366.70 L618.40,366.70 C618.17,366.55 617.43,366.10 617.00,365.80 C616.57,365.50 615.83,365.15 615.80,364.90 C615.77,364.65 616.37,364.57 616.80,364.30 C617.23,364.03 618.13,363.47 618.40,363.30 Z" fill="#5F98CC" stroke="none"/>
<path d="M618.40,363.30 C618.67,363.47 619.57,364.03 620.00,364.30 C620.43,364.57 621.03,364.65 621.00,364.90 C620.97,365.15 620.23,365.50 619.80,365.80 C619.37,366.10 618.63,366.55 618.40,366.70" fill="none" stroke="#1a1a1a" stroke-width="0.9"/>
<path d="M618.40,363.30 C618.13,363.47 617.23,364.03 616.80,364.30 C616.37,364.57 615.77,364.65 615.80,364.90 C615.83,365.15 616.57,365.50 617.00,365.80 C617.43,366.10 618.17,366.55 618.40,366.70" fill="none" stroke="#1a1a1a" stroke-width="0.9"/>
<path d="M629.00,345.50 C629.10,346.08 629.40,347.75 629.60,349.00 C629.80,350.25 629.90,351.67 630.20,353.00 C630.50,354.33 631.08,355.57 631.40,357.00 C631.72,358.43 632.13,360.10 632.10,361.60 C632.07,363.10 631.55,364.60 631.20,366.00 C630.85,367.40 630.37,368.22 630.00,370.00 C629.63,371.78 629.17,375.58 629.00,376.70 L629.00,376.70 C628.83,375.58 628.37,371.78 628.00,370.00 C627.63,368.22 627.15,367.40 626.80,366.00 C626.45,364.60 625.93,363.10 625.90,361.60 C625.87,360.10 626.28,358.43 626.60,357.00 C626.92,355.57 627.50,354.33 627.80,353.00 C628.10,351.67 628.20,350.25 628.40,349.00 C628.60,347.75 628.90,346.08 629.00,345.50 Z" fill="#EE93A6" stroke="none"/>
<path d="M629.00,345.50 C629.10,346.08 629.40,347.75 629.60,349.00 C629.80,350.25 629.90,351.67 630.20,353.00 C630.50,354.33 631.08,355.57 631.40,357.00 C631.72,358.43 632.13,360.10 632.10,361.60 C632.07,363.10 631.55,364.60 631.20,366.00 C630.85,367.40 630.37,368.22 630.00,370.00 C629.63,371.78 629.17,375.58 629.00,376.70" fill="none" stroke="#1a1a1a" stroke-width="0.9"/>
<path d="M629.00,345.50 C628.90,346.08 628.60,347.75 628.40,349.00 C628.20,350.25 628.10,351.67 627.80,353.00 C627.50,354.33 626.92,355.57 626.60,357.00 C626.28,358.43 625.87,360.10 625.90,361.60 C625.93,363.10 626.45,364.60 626.80,366.00 C627.15,367.40 627.63,368.22 628.00,370.00 C628.37,371.78 628.83,375.58 629.00,376.70" fill="none" stroke="#1a1a1a" stroke-width="0.9"/>
<path d="M639.10,347.20 C639.27,347.67 639.73,349.03 640.10,350.00 C640.47,350.97 640.97,352.05 641.30,353.00 C641.63,353.95 642.13,354.78 642.10,355.70 C642.07,356.62 641.38,357.70 641.10,358.50 C640.82,359.30 640.37,359.83 640.40,360.50 C640.43,361.17 641.02,361.77 641.30,362.50 C641.58,363.23 642.13,363.98 642.10,364.90 C642.07,365.82 641.45,366.98 641.10,368.00 C640.75,369.02 640.33,370.10 640.00,371.00 C639.67,371.90 639.25,373.00 639.10,373.40 L639.10,373.40 C638.95,373.00 638.53,371.90 638.20,371.00 C637.87,370.10 637.45,369.02 637.10,368.00 C636.75,366.98 636.13,365.82 636.10,364.90 C636.07,363.98 636.62,363.23 636.90,362.50 C637.18,361.77 637.77,361.17 637.80,360.50 C637.83,359.83 637.38,359.30 637.10,358.50 C636.82,357.70 636.13,356.62 636.10,355.70 C636.07,354.78 636.57,353.95 636.90,353.00 C637.23,352.05 637.73,350.97 638.10,350.00 C638.47,349.03 638.93,347.67 639.10,347.20 Z" fill="#F2A95A" stroke="none"/>
<path d="M639.10,347.20 C639.27,347.67 639.73,349.03 640.10,350.00 C640.47,350.97 640.97,352.05 641.30,353.00 C641.63,353.95 642.13,354.78 642.10,355.70 C642.07,356.62 641.38,357.70 641.10,358.50 C640.82,359.30 640.37,359.83 640.40,360.50 C640.43,361.17 641.02,361.77 641.30,362.50 C641.58,363.23 642.13,363.98 642.10,364.90 C642.07,365.82 641.45,366.98 641.10,368.00 C640.75,369.02 640.33,370.10 640.00,371.00 C639.67,371.90 639.25,373.00 639.10,373.40" fill="none" stroke="#1a1a1a" stroke-width="0.9"/>
<path d="M639.10,347.20 C638.93,347.67 638.47,349.03 638.10,350.00 C637.73,350.97 637.23,352.05 636.90,353.00 C636.57,353.95 636.07,354.78 636.10,355.70 C636.13,356.62 636.82,357.70 637.10,358.50 C637.38,359.30 637.83,359.83 637.80,360.50 C637.77,361.17 637.18,361.77 636.90,362.50 C636.62,363.23 636.07,363.98 636.10,364.90 C636.13,365.82 636.75,366.98 637.10,368.00 C637.45,369.02 637.87,370.10 638.20,371.00 C638.53,371.90 638.95,373.00 639.10,373.40" fill="none" stroke="#1a1a1a" stroke-width="0.9"/>
<path d="M656.30,297.00 C656.38,297.50 656.62,298.83 656.80,300.00 C656.98,301.17 657.10,302.75 657.40,304.00 C657.70,305.25 658.30,306.40 658.60,307.50 C658.90,308.60 659.10,310.08 659.20,310.60 L653.40,310.60 C653.50,310.08 653.70,308.60 654.00,307.50 C654.30,306.40 654.90,305.25 655.20,304.00 C655.50,302.75 655.62,301.17 655.80,300.00 C655.98,298.83 656.22,297.50 656.30,297.00 Z" fill="#5F98CC" stroke="none"/>
<path d="M656.30,297.00 C656.38,297.50 656.62,298.83 656.80,300.00 C656.98,301.17 657.10,302.75 657.40,304.00 C657.70,305.25 658.30,306.40 658.60,307.50 C658.90,308.60 659.10,310.08 659.20,310.60" fill="none" stroke="#1a1a1a" stroke-width="0.9"/>
<path d="M656.30,297.00 C656.22,297.50 655.98,298.83 655.80,300.00 C655.62,301.17 655.50,302.75 655.20,304.00 C654.90,305.25 654.30,306.40 654.00,307.50 C653.70,308.60 653.50,310.08 653.40,310.60" fill="none" stroke="#1a1a1a" stroke-width="0.9"/>
<path d="M659.30,318.40 C659.25,320.00 659.00,324.65 659.00,328.00 C659.00,331.35 659.25,336.75 659.30,338.50 L653.30,338.50 C653.35,336.75 653.60,331.35 653.60,328.00 C653.60,324.65 653.35,320.00 653.30,318.40 Z" fill="#5F98CC" stroke="none"/>
<path d="M659.30,318.40 C659.25,320.00 659.00,324.65 659.00,328.00 C659.00,331.35 659.25,336.75 659.30,338.50" fill="none" stroke="#1a1a1a" stroke-width="0.9"/>
<path d="M653.30,318.40 C653.35,320.00 653.60,324.65 653.60,328.00 C653.60,331.35 653.35,336.75 653.30,338.50" fill="none" stroke="#1a1a1a" stroke-width="0.9"/>
<path d="M659.30,345.90 C659.30,352.72 659.30,379.98 659.30,386.80 L653.30,386.80 C653.30,379.98 653.30,352.72 653.30,345.90 Z" fill="#5F98CC" stroke="none"/>
<path d="M659.30,345.90 C659.30,352.72 659.30,379.98 659.30,386.80" fill="none" stroke="#1a1a1a" stroke-width="0.9"/>
<path d="M653.30,345.90 C653.30,352.72 653.30,379.98 653.30,386.80" fill="none" stroke="#1a1a1a" stroke-width="0.9"/>
<line x1="654.05" y1="366.60" x2="658.55" y2="366.60" stroke="#1a1a1a" stroke-width="0.7"/>
<path d="M666.70,348.80 C666.93,349.17 667.60,350.00 668.10,351.00 C668.60,352.00 669.63,353.63 669.70,354.80 C669.77,355.97 668.87,357.13 668.50,358.00 C668.13,358.87 667.62,359.27 667.50,360.00 C667.38,360.73 667.82,361.57 667.80,362.40 C667.78,363.23 667.58,363.87 667.40,365.00 C667.22,366.13 666.82,368.50 666.70,369.20 L666.70,369.20 C666.58,368.50 666.18,366.13 666.00,365.00 C665.82,363.87 665.62,363.23 665.60,362.40 C665.58,361.57 666.02,360.73 665.90,360.00 C665.78,359.27 665.27,358.87 664.90,358.00 C664.53,357.13 663.63,355.97 663.70,354.80 C663.77,353.63 664.80,352.00 665.30,351.00 C665.80,350.00 666.47,349.17 666.70,348.80 Z" fill="#EE93A6" stroke="none"/>
<path d="M666.70,348.80 C666.93,349.17 667.60,350.00 668.10,351.00 C668.60,352.00 669.63,353.63 669.70,354.80 C669.77,355.97 668.87,357.13 668.50,358.00 C668.13,358.87 667.62,359.27 667.50,360.00 C667.38,360.73 667.82,361.57 667.80,362.40 C667.78,363.23 667.58,363.87 667.40,365.00 C667.22,366.13 666.82,368.50 666.70,369.20" fill="none" stroke="#1a1a1a" stroke-width="0.9"/>
<path d="M666.70,348.80 C666.47,349.17 665.80,350.00 665.30,351.00 C664.80,352.00 663.77,353.63 663.70,354.80 C663.63,355.97 664.53,357.13 664.90,358.00 C665.27,358.87 665.78,359.27 665.90,360.00 C666.02,360.73 665.58,361.57 665.60,362.40 C665.62,363.23 665.82,363.87 666.00,365.00 C666.18,366.13 666.58,368.50 666.70,369.20" fill="none" stroke="#1a1a1a" stroke-width="0.9"/>
<path d="M676.90,353.00 C677.03,353.42 677.48,354.55 677.70,355.50 C677.92,356.45 678.17,357.70 678.20,358.70 C678.23,359.70 677.78,360.62 677.90,361.50 C678.02,362.38 678.62,363.15 678.90,364.00 C679.18,364.85 679.67,365.68 679.60,366.60 C679.53,367.52 678.95,368.57 678.50,369.50 C678.05,370.43 677.17,371.75 676.90,372.20 L676.90,372.20 C676.63,371.75 675.75,370.43 675.30,369.50 C674.85,368.57 674.27,367.52 674.20,366.60 C674.13,365.68 674.62,364.85 674.90,364.00 C675.18,363.15 675.78,362.38 675.90,361.50 C676.02,360.62 675.57,359.70 675.60,358.70 C675.63,357.70 675.88,356.45 676.10,355.50 C676.32,354.55 676.77,353.42 676.90,353.00 Z" fill="#F2A95A" stroke="none"/>
<path d="M676.90,353.00 C677.03,353.42 677.48,354.55 677.70,355.50 C677.92,356.45 678.17,357.70 678.20,358.70 C678.23,359.70 677.78,360.62 677.90,361.50 C678.02,362.38 678.62,363.15 678.90,364.00 C679.18,364.85 679.67,365.68 679.60,366.60 C679.53,367.52 678.95,368.57 678.50,369.50 C678.05,370.43 677.17,371.75 676.90,372.20" fill="none" stroke="#1a1a1a" stroke-width="0.9"/>
<path d="M676.90,353.00 C676.77,353.42 676.32,354.55 676.10,355.50 C675.88,356.45 675.63,357.70 675.60,358.70 C675.57,359.70 676.02,360.62 675.90,361.50 C675.78,362.38 675.18,363.15 674.90,364.00 C674.62,364.85 674.13,365.68 674.20,366.60 C674.27,367.52 674.85,368.57 675.30,369.50 C675.75,370.43 676.63,371.75 676.90,372.20" fill="none" stroke="#1a1a1a" stroke-width="0.9"/>
<line x1="319.00" y1="300.20" x2="327.70" y2="300.20" stroke="#444" stroke-width="0.55"/>
<line x1="319.00" y1="299.10" x2="319.00" y2="301.30" stroke="#444" stroke-width="0.55"/>
<line x1="327.70" y1="299.10" x2="327.70" y2="301.30" stroke="#444" stroke-width="0.55"/>
<line x1="329.90" y1="300.20" x2="339.00" y2="300.20" stroke="#444" stroke-width="0.55"/>
<line x1="329.90" y1="299.10" x2="329.90" y2="301.30" stroke="#444" stroke-width="0.55"/>
<line x1="339.00" y1="299.10" x2="339.00" y2="301.30" stroke="#444" stroke-width="0.55"/>
<text x="323.50" y="299.00" font-size="9" text-anchor="middle" fill="#222" stroke="#222" stroke-width="0.11">***</text>
<text x="333.90" y="296.40" font-size="5.4" text-anchor="middle" fill="#333">ns</text>
<line x1="356.30" y1="328.40" x2="364.70" y2="328.40" stroke="#444" stroke-width="0.55"/>
<line x1="356.30" y1="327.30" x2="356.30" y2="329.50" stroke="#444" stroke-width="0.55"/>
<line x1="364.70" y1="327.30" x2="364.70" y2="329.50" stroke="#444" stroke-width="0.55"/>
<line x1="366.30" y1="328.40" x2="375.60" y2="328.40" stroke="#444" stroke-width="0.55"/>
<line x1="366.30" y1="327.30" x2="366.30" y2="329.50" stroke="#444" stroke-width="0.55"/>
<line x1="375.60" y1="327.30" x2="375.60" y2="329.50" stroke="#444" stroke-width="0.55"/>
<text x="360.10" y="327.90" font-size="9" text-anchor="middle" fill="#222" stroke="#222" stroke-width="0.11">**</text>
<text x="370.50" y="327.90" font-size="9" text-anchor="middle" fill="#222" stroke="#222" stroke-width="0.11">*</text>
<line x1="393.10" y1="341.40" x2="401.80" y2="341.40" stroke="#444" stroke-width="0.55"/>
<line x1="393.10" y1="340.30" x2="393.10" y2="342.50" stroke="#444" stroke-width="0.55"/>
<line x1="401.80" y1="340.30" x2="401.80" y2="342.50" stroke="#444" stroke-width="0.55"/>
<line x1="404.00" y1="341.40" x2="412.70" y2="341.40" stroke="#444" stroke-width="0.55"/>
<line x1="404.00" y1="340.30" x2="404.00" y2="342.50" stroke="#444" stroke-width="0.55"/>
<line x1="412.70" y1="340.30" x2="412.70" y2="342.50" stroke="#444" stroke-width="0.55"/>
<text x="397.10" y="340.00" font-size="9" text-anchor="middle" fill="#222" stroke="#222" stroke-width="0.11">*</text>
<text x="408.20" y="337.40" font-size="5.4" text-anchor="middle" fill="#333">ns</text>
<line x1="431.70" y1="291.80" x2="440.10" y2="291.80" stroke="#444" stroke-width="0.55"/>
<line x1="431.70" y1="290.70" x2="431.70" y2="292.90" stroke="#444" stroke-width="0.55"/>
<line x1="440.10" y1="290.70" x2="440.10" y2="292.90" stroke="#444" stroke-width="0.55"/>
<line x1="442.60" y1="291.80" x2="451.90" y2="291.80" stroke="#444" stroke-width="0.55"/>
<line x1="442.60" y1="290.70" x2="442.60" y2="292.90" stroke="#444" stroke-width="0.55"/>
<line x1="451.90" y1="290.70" x2="451.90" y2="292.90" stroke="#444" stroke-width="0.55"/>
<text x="436.30" y="290.60" font-size="9" text-anchor="middle" fill="#222" stroke="#222" stroke-width="0.11">*</text>
<text x="447.20" y="288.00" font-size="5.4" text-anchor="middle" fill="#333">ns</text>
<line x1="468.40" y1="314.50" x2="477.60" y2="314.50" stroke="#444" stroke-width="0.55"/>
<line x1="468.40" y1="313.40" x2="468.40" y2="315.60" stroke="#444" stroke-width="0.55"/>
<line x1="477.60" y1="313.40" x2="477.60" y2="315.60" stroke="#444" stroke-width="0.55"/>
<line x1="479.30" y1="314.50" x2="488.60" y2="314.50" stroke="#444" stroke-width="0.55"/>
<line x1="479.30" y1="313.40" x2="479.30" y2="315.60" stroke="#444" stroke-width="0.55"/>
<line x1="488.60" y1="313.40" x2="488.60" y2="315.60" stroke="#444" stroke-width="0.55"/>
<text x="473.10" y="313.70" font-size="9" text-anchor="middle" fill="#222" stroke="#222" stroke-width="0.11">*</text>
<text x="483.50" y="311.10" font-size="5.4" text-anchor="middle" fill="#333">ns</text>
<line x1="506.20" y1="315.80" x2="514.60" y2="315.80" stroke="#444" stroke-width="0.55"/>
<line x1="506.20" y1="314.70" x2="506.20" y2="316.90" stroke="#444" stroke-width="0.55"/>
<line x1="514.60" y1="314.70" x2="514.60" y2="316.90" stroke="#444" stroke-width="0.55"/>
<line x1="517.10" y1="315.80" x2="525.50" y2="315.80" stroke="#444" stroke-width="0.55"/>
<line x1="517.10" y1="314.70" x2="517.10" y2="316.90" stroke="#444" stroke-width="0.55"/>
<line x1="525.50" y1="314.70" x2="525.50" y2="316.90" stroke="#444" stroke-width="0.55"/>
<text x="510.40" y="314.50" font-size="9" text-anchor="middle" fill="#222" stroke="#222" stroke-width="0.11">*</text>
<text x="521.30" y="311.90" font-size="5.4" text-anchor="middle" fill="#333">ns</text>
<line x1="544.20" y1="317.40" x2="552.60" y2="317.40" stroke="#444" stroke-width="0.55"/>
<line x1="544.20" y1="316.30" x2="544.20" y2="318.50" stroke="#444" stroke-width="0.55"/>
<line x1="552.60" y1="316.30" x2="552.60" y2="318.50" stroke="#444" stroke-width="0.55"/>
<line x1="555.20" y1="317.40" x2="563.90" y2="317.40" stroke="#444" stroke-width="0.55"/>
<line x1="555.20" y1="316.30" x2="555.20" y2="318.50" stroke="#444" stroke-width="0.55"/>
<line x1="563.90" y1="316.30" x2="563.90" y2="318.50" stroke="#444" stroke-width="0.55"/>
<text x="548.40" y="313.20" font-size="3.9" text-anchor="middle" fill="#333">0.0576</text>
<text x="559.40" y="313.20" font-size="5.4" text-anchor="middle" fill="#333">ns</text>
<line x1="581.70" y1="329.30" x2="590.50" y2="329.30" stroke="#444" stroke-width="0.55"/>
<line x1="581.70" y1="328.20" x2="581.70" y2="330.40" stroke="#444" stroke-width="0.55"/>
<line x1="590.50" y1="328.20" x2="590.50" y2="330.40" stroke="#444" stroke-width="0.55"/>
<line x1="592.60" y1="329.30" x2="601.40" y2="329.30" stroke="#444" stroke-width="0.55"/>
<line x1="592.60" y1="328.20" x2="592.60" y2="330.40" stroke="#444" stroke-width="0.55"/>
<line x1="601.40" y1="328.20" x2="601.40" y2="330.40" stroke="#444" stroke-width="0.55"/>
<text x="585.80" y="327.90" font-size="9" text-anchor="middle" fill="#222" stroke="#222" stroke-width="0.11">*</text>
<text x="596.80" y="325.30" font-size="5.4" text-anchor="middle" fill="#333">ns</text>
<line x1="619.30" y1="340.90" x2="627.70" y2="340.90" stroke="#444" stroke-width="0.55"/>
<line x1="619.30" y1="339.80" x2="619.30" y2="342.00" stroke="#444" stroke-width="0.55"/>
<line x1="627.70" y1="339.80" x2="627.70" y2="342.00" stroke="#444" stroke-width="0.55"/>
<line x1="630.20" y1="340.90" x2="638.60" y2="340.90" stroke="#444" stroke-width="0.55"/>
<line x1="630.20" y1="339.80" x2="630.20" y2="342.00" stroke="#444" stroke-width="0.55"/>
<line x1="638.60" y1="339.80" x2="638.60" y2="342.00" stroke="#444" stroke-width="0.55"/>
<text x="623.20" y="339.40" font-size="9" text-anchor="middle" fill="#222" stroke="#222" stroke-width="0.11">*</text>
<text x="634.40" y="336.80" font-size="5.4" text-anchor="middle" fill="#333">ns</text>
<line x1="656.30" y1="294.80" x2="664.70" y2="294.80" stroke="#444" stroke-width="0.55"/>
<line x1="656.30" y1="293.70" x2="656.30" y2="295.90" stroke="#444" stroke-width="0.55"/>
<line x1="664.70" y1="293.70" x2="664.70" y2="295.90" stroke="#444" stroke-width="0.55"/>
<line x1="667.20" y1="294.80" x2="675.90" y2="294.80" stroke="#444" stroke-width="0.55"/>
<line x1="667.20" y1="293.70" x2="667.20" y2="295.90" stroke="#444" stroke-width="0.55"/>
<line x1="675.90" y1="293.70" x2="675.90" y2="295.90" stroke="#444" stroke-width="0.55"/>
<text x="659.60" y="293.50" font-size="9" text-anchor="middle" fill="#222" stroke="#222" stroke-width="0.11">*</text>
<text x="671.40" y="290.90" font-size="5.4" text-anchor="middle" fill="#333">ns</text>
<rect x="204.30" y="474.40" width="119.50" height="201.90" fill="#fff" stroke="none" stroke-width="0"/>
<line x1="238.90" y1="474.40" x2="238.90" y2="676.30" stroke="#f0f0f0" stroke-width="0.35"/>
<line x1="274.60" y1="474.40" x2="274.60" y2="676.30" stroke="#f0f0f0" stroke-width="0.35"/>
<line x1="309.70" y1="474.40" x2="309.70" y2="676.30" stroke="#f0f0f0" stroke-width="0.35"/>
<line x1="221.40" y1="474.40" x2="221.40" y2="676.30" stroke="#e6e6e6" stroke-width="0.5"/>
<line x1="256.60" y1="474.40" x2="256.60" y2="676.30" stroke="#e6e6e6" stroke-width="0.5"/>
<line x1="292.00" y1="474.40" x2="292.00" y2="676.30" stroke="#e6e6e6" stroke-width="0.5"/>
<line x1="204.30" y1="481.40" x2="323.80" y2="481.40" stroke="#e6e6e6" stroke-width="0.5"/>
<line x1="204.30" y1="493.19" x2="323.80" y2="493.19" stroke="#e6e6e6" stroke-width="0.5"/>
<line x1="204.30" y1="504.98" x2="323.80" y2="504.98" stroke="#e6e6e6" stroke-width="0.5"/>
<line x1="204.30" y1="516.77" x2="323.80" y2="516.77" stroke="#e6e6e6" stroke-width="0.5"/>
<line x1="204.30" y1="528.56" x2="323.80" y2="528.56" stroke="#e6e6e6" stroke-width="0.5"/>
<line x1="204.30" y1="540.35" x2="323.80" y2="540.35" stroke="#e6e6e6" stroke-width="0.5"/>
<line x1="204.30" y1="552.14" x2="323.80" y2="552.14" stroke="#e6e6e6" stroke-width="0.5"/>
<line x1="204.30" y1="563.93" x2="323.80" y2="563.93" stroke="#e6e6e6" stroke-width="0.5"/>
<line x1="204.30" y1="575.72" x2="323.80" y2="575.72" stroke="#e6e6e6" stroke-width="0.5"/>
<line x1="204.30" y1="587.51" x2="323.80" y2="587.51" stroke="#e6e6e6" stroke-width="0.5"/>
<line x1="204.30" y1="599.30" x2="323.80" y2="599.30" stroke="#e6e6e6" stroke-width="0.5"/>
<line x1="204.30" y1="611.09" x2="323.80" y2="611.09" stroke="#e6e6e6" stroke-width="0.5"/>
<line x1="204.30" y1="622.88" x2="323.80" y2="622.88" stroke="#e6e6e6" stroke-width="0.5"/>
<line x1="204.30" y1="634.67" x2="323.80" y2="634.67" stroke="#e6e6e6" stroke-width="0.5"/>
<line x1="204.30" y1="646.46" x2="323.80" y2="646.46" stroke="#e6e6e6" stroke-width="0.5"/>
<line x1="204.30" y1="658.25" x2="323.80" y2="658.25" stroke="#e6e6e6" stroke-width="0.5"/>
<line x1="204.30" y1="670.04" x2="323.80" y2="670.04" stroke="#e6e6e6" stroke-width="0.5"/>
<circle cx="318.00" cy="481.40" r="2.50" fill="#FF1E12" stroke="none" stroke-width="0"/>
<circle cx="280.10" cy="493.19" r="1.70" fill="#A652E0" stroke="none" stroke-width="0"/>
<circle cx="259.40" cy="504.98" r="2.10" fill="#ECEE3C" stroke="none" stroke-width="0"/>
<circle cx="250.30" cy="516.77" r="1.70" fill="#D8A274" stroke="none" stroke-width="0"/>
<circle cx="249.30" cy="528.56" r="2.30" fill="#D6A080" stroke="none" stroke-width="0"/>
<circle cx="247.80" cy="540.35" r="3.00" fill="#E6C02C" stroke="none" stroke-width="0"/>
<circle cx="246.90" cy="552.14" r="2.10" fill="#A044EE" stroke="none" stroke-width="0"/>
<circle cx="243.80" cy="563.93" r="2.70" fill="#E0D24C" stroke="none" stroke-width="0"/>
<circle cx="236.40" cy="575.72" r="2.70" fill="#D090A2" stroke="none" stroke-width="0"/>
<circle cx="233.20" cy="587.51" r="2.40" fill="#A650E6" stroke="none" stroke-width="0"/>
<circle cx="230.00" cy="599.30" r="0.80" fill="#A040E8" stroke="none" stroke-width="0"/>
<circle cx="230.00" cy="611.09" r="3.10" fill="#D09A98" stroke="none" stroke-width="0"/>
<circle cx="228.30" cy="622.88" r="3.10" fill="#D09898" stroke="none" stroke-width="0"/>
<circle cx="227.70" cy="634.67" r="2.40" fill="#1414F6" stroke="none" stroke-width="0"/>
<circle cx="226.80" cy="646.46" r="2.10" fill="#D09898" stroke="none" stroke-width="0"/>
<circle cx="225.10" cy="658.25" r="2.70" fill="#5A14EE" stroke="none" stroke-width="0"/>
<circle cx="209.90" cy="670.04" r="3.30" fill="#A452E0" stroke="none" stroke-width="0"/>
<rect x="204.30" y="474.40" width="119.50" height="201.90" fill="none" stroke="#8a8a8a" stroke-width="0.7"/>
<line x1="202.50" y1="481.40" x2="204.30" y2="481.40" stroke="#444" stroke-width="0.6"/>
<text x="198.80" y="483.40" font-size="7.0" text-anchor="end" font-weight="bold" fill="#1a1a1a" stroke="#1a1a1a" stroke-width="0.25">Biotin metabolism</text>
<line x1="202.50" y1="493.19" x2="204.30" y2="493.19" stroke="#444" stroke-width="0.6"/>
<text x="198.80" y="495.19" font-size="7.0" text-anchor="end" font-weight="bold" fill="#1a1a1a" stroke="#1a1a1a" stroke-width="0.25">Glycosaminoglycan degradation</text>
<line x1="202.50" y1="504.98" x2="204.30" y2="504.98" stroke="#444" stroke-width="0.6"/>
<text x="198.80" y="506.98" font-size="7.0" text-anchor="end" font-weight="bold" fill="#1a1a1a" stroke="#1a1a1a" stroke-width="0.25">Vitamin B6 metabolism</text>
<line x1="202.50" y1="516.77" x2="204.30" y2="516.77" stroke="#444" stroke-width="0.6"/>
<text x="198.80" y="518.77" font-size="7.0" text-anchor="end" font-weight="bold" fill="#1a1a1a" stroke="#1a1a1a" stroke-width="0.25">Other glycan degradation</text>
<line x1="202.50" y1="528.56" x2="204.30" y2="528.56" stroke="#444" stroke-width="0.6"/>
<text x="198.80" y="530.56" font-size="7.0" text-anchor="end" font-weight="bold" fill="#1a1a1a" stroke="#1a1a1a" stroke-width="0.25">Fatty acid biosynthesis</text>
<line x1="202.50" y1="540.35" x2="204.30" y2="540.35" stroke="#444" stroke-width="0.6"/>
<text x="198.80" y="542.35" font-size="7.0" text-anchor="end" font-weight="bold" fill="#C4302B" stroke="#C4302B" stroke-width="0.25">Phenylalanine, tyrosine and tryptophan biosynthesis</text>
<line x1="202.50" y1="552.14" x2="204.30" y2="552.14" stroke="#444" stroke-width="0.6"/>
<text x="198.80" y="554.14" font-size="7.0" text-anchor="end" font-weight="bold" fill="#1a1a1a" stroke="#1a1a1a" stroke-width="0.25">Taurine and hypotaurine metabolism</text>
<line x1="202.50" y1="563.93" x2="204.30" y2="563.93" stroke="#444" stroke-width="0.6"/>
<text x="198.80" y="565.93" font-size="7.0" text-anchor="end" font-weight="bold" fill="#1a1a1a" stroke="#1a1a1a" stroke-width="0.25">Citrate cycle (TCA cycle)</text>
<line x1="202.50" y1="575.72" x2="204.30" y2="575.72" stroke="#444" stroke-width="0.6"/>
<text x="198.80" y="577.72" font-size="7.0" text-anchor="end" font-weight="bold" fill="#1a1a1a" stroke="#1a1a1a" stroke-width="0.25">Alanine, aspartate and glutamate metabolism</text>
<line x1="202.50" y1="587.51" x2="204.30" y2="587.51" stroke="#444" stroke-width="0.6"/>
<text x="198.80" y="589.51" font-size="7.0" text-anchor="end" font-weight="bold" fill="#1a1a1a" stroke="#1a1a1a" stroke-width="0.25">Arginine biosynthesis</text>
<line x1="202.50" y1="599.30" x2="204.30" y2="599.30" stroke="#444" stroke-width="0.6"/>
<text x="198.80" y="601.30" font-size="7.0" text-anchor="end" font-weight="bold" fill="#1a1a1a" stroke="#1a1a1a" stroke-width="0.25">Glycosphingolipid biosynthesis - globo and isoglobo series</text>
<line x1="202.50" y1="611.09" x2="204.30" y2="611.09" stroke="#444" stroke-width="0.6"/>
<text x="198.80" y="613.09" font-size="7.0" text-anchor="end" font-weight="bold" fill="#1a1a1a" stroke="#1a1a1a" stroke-width="0.25">Carbon fixation pathways in prokaryotes</text>
<line x1="202.50" y1="622.88" x2="204.30" y2="622.88" stroke="#444" stroke-width="0.6"/>
<text x="198.80" y="624.88" font-size="7.0" text-anchor="end" font-weight="bold" fill="#1a1a1a" stroke="#1a1a1a" stroke-width="0.25">Cysteine and methionine metabolism</text>
<line x1="202.50" y1="634.67" x2="204.30" y2="634.67" stroke="#444" stroke-width="0.6"/>
<text x="198.80" y="636.67" font-size="7.0" text-anchor="end" font-weight="bold" fill="#1a1a1a" stroke="#1a1a1a" stroke-width="0.25">Ubiquinone and other terpenoid-quinone biosynthesis</text>
<line x1="202.50" y1="646.46" x2="204.30" y2="646.46" stroke="#444" stroke-width="0.6"/>
<text x="198.80" y="648.46" font-size="7.0" text-anchor="end" font-weight="bold" fill="#1a1a1a" stroke="#1a1a1a" stroke-width="0.25">Sphingolipid metabolism</text>
<line x1="202.50" y1="658.25" x2="204.30" y2="658.25" stroke="#444" stroke-width="0.6"/>
<text x="198.80" y="660.25" font-size="7.0" text-anchor="end" font-weight="bold" fill="#1a1a1a" stroke="#1a1a1a" stroke-width="0.25">Pentose and glucuronate interconversions</text>
<line x1="202.50" y1="670.04" x2="204.30" y2="670.04" stroke="#444" stroke-width="0.6"/>
<text x="198.80" y="672.04" font-size="7.0" text-anchor="end" font-weight="bold" fill="#1a1a1a" stroke="#1a1a1a" stroke-width="0.25">Oxidative phosphorylation</text>
<line x1="221.40" y1="676.30" x2="221.40" y2="677.80" stroke="#444" stroke-width="0.5"/>
<text x="221.40" y="682.70" font-size="4.7" text-anchor="middle" fill="#444">0.1</text>
<line x1="256.60" y1="676.30" x2="256.60" y2="677.80" stroke="#444" stroke-width="0.5"/>
<text x="256.60" y="682.70" font-size="4.7" text-anchor="middle" fill="#444">0.2</text>
<line x1="292.00" y1="676.30" x2="292.00" y2="677.80" stroke="#444" stroke-width="0.5"/>
<text x="292.00" y="682.70" font-size="4.7" text-anchor="middle" fill="#444">0.3</text>
<text x="325.90" y="519.30" font-size="5.3" text-anchor="start" fill="#222">-log10(Pvalue)</text>
<defs><linearGradient id="gradg" x1="0" y1="0" x2="0" y2="1"><stop offset="0" stop-color="#FF2A10"/><stop offset="0.25" stop-color="#F58A20"/><stop offset="0.5" stop-color="#F0F030"/><stop offset="0.72" stop-color="#C8A0A0"/><stop offset="0.86" stop-color="#9060E0"/><stop offset="1" stop-color="#2A10FF"/></linearGradient><linearGradient id="gradh" x1="0" y1="0" x2="0" y2="1"><stop offset="0" stop-color="#FF2A10"/><stop offset="0.22" stop-color="#F58A20"/><stop offset="0.48" stop-color="#F0F040"/><stop offset="0.66" stop-color="#C8A0A0"/><stop offset="0.82" stop-color="#9060E0"/><stop offset="1" stop-color="#2A10FF"/></linearGradient></defs>
<rect x="325.90" y="522.60" width="8.80" height="41.20" fill="url(#gradg)" stroke="none" stroke-width="0"/>
<line x1="325.90" y1="533.90" x2="327.30" y2="533.90" stroke="#fff" stroke-width="0.4"/>
<line x1="333.30" y1="533.90" x2="334.70" y2="533.90" stroke="#fff" stroke-width="0.4"/>
<text x="337.60" y="535.50" font-size="4.5" text-anchor="start" fill="#222">4</text>
<line x1="325.90" y1="545.30" x2="327.30" y2="545.30" stroke="#fff" stroke-width="0.4"/>
<line x1="333.30" y1="545.30" x2="334.70" y2="545.30" stroke="#fff" stroke-width="0.4"/>
<text x="337.60" y="546.90" font-size="4.5" text-anchor="start" fill="#222">3</text>
<line x1="325.90" y1="556.60" x2="327.30" y2="556.60" stroke="#fff" stroke-width="0.4"/>
<line x1="333.30" y1="556.60" x2="334.70" y2="556.60" stroke="#fff" stroke-width="0.4"/>
<text x="337.60" y="558.20" font-size="4.5" text-anchor="start" fill="#222">2</text>
<text x="325.90" y="579.90" font-size="5.3" text-anchor="start" fill="#222">Number</text>
<circle cx="330.50" cy="587.40" r="1.70" fill="#000" stroke="none" stroke-width="0"/>
<text x="337.30" y="589.00" font-size="4.5" text-anchor="start" fill="#222">5</text>
<circle cx="330.50" cy="595.40" r="2.50" fill="#000" stroke="none" stroke-width="0"/>
<text x="337.30" y="597.00" font-size="4.5" text-anchor="start" fill="#222">10</text>
<circle cx="330.50" cy="603.80" r="3.40" fill="#000" stroke="none" stroke-width="0"/>
<text x="337.30" y="605.40" font-size="4.5" text-anchor="start" fill="#222">15</text>
<rect x="516.70" y="473.40" width="130.60" height="201.90" fill="#fff" stroke="none" stroke-width="0"/>
<line x1="545.20" y1="473.40" x2="545.20" y2="675.30" stroke="#f0f0f0" stroke-width="0.35"/>
<line x1="575.80" y1="473.40" x2="575.80" y2="675.30" stroke="#f0f0f0" stroke-width="0.35"/>
<line x1="606.00" y1="473.40" x2="606.00" y2="675.30" stroke="#f0f0f0" stroke-width="0.35"/>
<line x1="636.70" y1="473.40" x2="636.70" y2="675.30" stroke="#f0f0f0" stroke-width="0.35"/>
<line x1="529.80" y1="473.40" x2="529.80" y2="675.30" stroke="#e6e6e6" stroke-width="0.5"/>
<line x1="560.50" y1="473.40" x2="560.50" y2="675.30" stroke="#e6e6e6" stroke-width="0.5"/>
<line x1="590.30" y1="473.40" x2="590.30" y2="675.30" stroke="#e6e6e6" stroke-width="0.5"/>
<line x1="621.40" y1="473.40" x2="621.40" y2="675.30" stroke="#e6e6e6" stroke-width="0.5"/>
<line x1="516.70" y1="485.00" x2="647.30" y2="485.00" stroke="#e6e6e6" stroke-width="0.5"/>
<line x1="516.70" y1="504.89" x2="647.30" y2="504.89" stroke="#e6e6e6" stroke-width="0.5"/>
<line x1="516.70" y1="524.78" x2="647.30" y2="524.78" stroke="#e6e6e6" stroke-width="0.5"/>
<line x1="516.70" y1="544.67" x2="647.30" y2="544.67" stroke="#e6e6e6" stroke-width="0.5"/>
<line x1="516.70" y1="564.56" x2="647.30" y2="564.56" stroke="#e6e6e6" stroke-width="0.5"/>
<line x1="516.70" y1="584.45" x2="647.30" y2="584.45" stroke="#e6e6e6" stroke-width="0.5"/>
<line x1="516.70" y1="604.34" x2="647.30" y2="604.34" stroke="#e6e6e6" stroke-width="0.5"/>
<line x1="516.70" y1="624.23" x2="647.30" y2="624.23" stroke="#e6e6e6" stroke-width="0.5"/>
<line x1="516.70" y1="644.12" x2="647.30" y2="644.12" stroke="#e6e6e6" stroke-width="0.5"/>
<line x1="516.70" y1="664.01" x2="647.30" y2="664.01" stroke="#e6e6e6" stroke-width="0.5"/>
<circle cx="641.80" cy="485.00" r="2.50" fill="#FF2412" stroke="none" stroke-width="0"/>
<circle cx="626.10" cy="504.89" r="1.60" fill="#C89292" stroke="none" stroke-width="0"/>
<circle cx="591.10" cy="524.78" r="3.40" fill="#FF2412" stroke="none" stroke-width="0"/>
<circle cx="564.20" cy="544.67" r="0.90" fill="#8444F0" stroke="none" stroke-width="0"/>
<circle cx="545.80" cy="564.56" r="2.50" fill="#A866E2" stroke="none" stroke-width="0"/>
<circle cx="542.30" cy="584.45" r="1.70" fill="#9A48F0" stroke="none" stroke-width="0"/>
<circle cx="536.20" cy="604.34" r="2.40" fill="#A254E8" stroke="none" stroke-width="0"/>
<circle cx="530.40" cy="624.23" r="1.70" fill="#1010F2" stroke="none" stroke-width="0"/>
<circle cx="527.40" cy="644.12" r="2.70" fill="#9A4AF0" stroke="none" stroke-width="0"/>
<circle cx="522.30" cy="664.01" r="0.90" fill="#2020F8" stroke="none" stroke-width="0"/>
<rect x="516.70" y="473.40" width="130.60" height="201.90" fill="none" stroke="#8a8a8a" stroke-width="0.7"/>
<line x1="514.90" y1="485.00" x2="516.70" y2="485.00" stroke="#444" stroke-width="0.6"/>
<text x="510.50" y="487.00" font-size="7.0" text-anchor="end" font-weight="bold" fill="#1a1a1a" stroke="#1a1a1a" stroke-width="0.25">Phosphonate and phosphinate metabolism</text>
<line x1="514.90" y1="504.89" x2="516.70" y2="504.89" stroke="#444" stroke-width="0.6"/>
<text x="510.50" y="506.89" font-size="7.0" text-anchor="end" font-weight="bold" fill="#1a1a1a" stroke="#1a1a1a" stroke-width="0.25">C5-Branched dibasic acid metabolism</text>
<line x1="514.90" y1="524.78" x2="516.70" y2="524.78" stroke="#444" stroke-width="0.6"/>
<text x="510.50" y="526.78" font-size="7.0" text-anchor="end" font-weight="bold" fill="#1a1a1a" stroke="#1a1a1a" stroke-width="0.25">Pyrimidine metabolism</text>
<line x1="514.90" y1="544.67" x2="516.70" y2="544.67" stroke="#444" stroke-width="0.6"/>
<text x="510.50" y="546.67" font-size="7.0" text-anchor="end" font-weight="bold" fill="#1a1a1a" stroke="#1a1a1a" stroke-width="0.25">Drug metabolism - other enzymes</text>
<line x1="514.90" y1="564.56" x2="516.70" y2="564.56" stroke="#444" stroke-width="0.6"/>
<text x="510.50" y="566.56" font-size="7.0" text-anchor="end" font-weight="bold" fill="#1a1a1a" stroke="#1a1a1a" stroke-width="0.25">O-Antigen nucleotide sugar biosynthesis</text>
<line x1="514.90" y1="584.45" x2="516.70" y2="584.45" stroke="#444" stroke-width="0.6"/>
<text x="510.50" y="586.45" font-size="7.0" text-anchor="end" font-weight="bold" fill="#1a1a1a" stroke="#1a1a1a" stroke-width="0.25">Lipopolysaccharide biosynthesis</text>
<line x1="514.90" y1="604.34" x2="516.70" y2="604.34" stroke="#444" stroke-width="0.6"/>
<text x="510.50" y="606.34" font-size="7.0" text-anchor="end" font-weight="bold" fill="#1a1a1a" stroke="#1a1a1a" stroke-width="0.25">Fructose and mannose metabolism</text>
<line x1="514.90" y1="624.23" x2="516.70" y2="624.23" stroke="#444" stroke-width="0.6"/>
<text x="510.50" y="626.23" font-size="7.0" text-anchor="end" font-weight="bold" fill="#C4302B" stroke="#C4302B" stroke-width="0.25">Phenylalanine, tyrosine and tryptophan biosynthesis</text>
<line x1="514.90" y1="644.12" x2="516.70" y2="644.12" stroke="#444" stroke-width="0.6"/>
<text x="510.50" y="646.12" font-size="7.0" text-anchor="end" font-weight="bold" fill="#1a1a1a" stroke="#1a1a1a" stroke-width="0.25">Amino sugar and nucleotide sugar metabolism</text>
<line x1="514.90" y1="664.01" x2="516.70" y2="664.01" stroke="#444" stroke-width="0.6"/>
<text x="510.50" y="666.01" font-size="7.0" text-anchor="end" font-weight="bold" fill="#1a1a1a" stroke="#1a1a1a" stroke-width="0.25">Glutathione metabolism</text>
<line x1="529.80" y1="675.30" x2="529.80" y2="676.80" stroke="#444" stroke-width="0.5"/>
<text x="529.80" y="681.70" font-size="4.7" text-anchor="middle" fill="#444">0.04</text>
<line x1="560.50" y1="675.30" x2="560.50" y2="676.80" stroke="#444" stroke-width="0.5"/>
<text x="560.50" y="681.70" font-size="4.7" text-anchor="middle" fill="#444">0.06</text>
<line x1="590.30" y1="675.30" x2="590.30" y2="676.80" stroke="#444" stroke-width="0.5"/>
<text x="590.30" y="681.70" font-size="4.7" text-anchor="middle" fill="#444">0.08</text>
<line x1="621.40" y1="675.30" x2="621.40" y2="676.80" stroke="#444" stroke-width="0.5"/>
<text x="621.40" y="681.70" font-size="4.7" text-anchor="middle" fill="#444">0.10</text>
<text x="650.00" y="518.00" font-size="5.1" text-anchor="start" fill="#222">-log10(Pvalue)</text>
<rect x="650.20" y="520.70" width="8.50" height="40.10" fill="url(#gradh)" stroke="none" stroke-width="0"/>
<line x1="650.20" y1="523.90" x2="651.50" y2="523.90" stroke="#fff" stroke-width="0.4"/>
<line x1="657.40" y1="523.90" x2="658.70" y2="523.90" stroke="#fff" stroke-width="0.4"/>
<text x="661.80" y="525.50" font-size="4.5" text-anchor="start" fill="#222">4</text>
<line x1="650.20" y1="535.70" x2="651.50" y2="535.70" stroke="#fff" stroke-width="0.4"/>
<line x1="657.40" y1="535.70" x2="658.70" y2="535.70" stroke="#fff" stroke-width="0.4"/>
<text x="661.80" y="537.30" font-size="4.5" text-anchor="start" fill="#222">3</text>
<line x1="650.20" y1="547.30" x2="651.50" y2="547.30" stroke="#fff" stroke-width="0.4"/>
<line x1="657.40" y1="547.30" x2="658.70" y2="547.30" stroke="#fff" stroke-width="0.4"/>
<text x="661.80" y="548.90" font-size="4.5" text-anchor="start" fill="#222">2</text>
<line x1="650.20" y1="559.20" x2="651.50" y2="559.20" stroke="#fff" stroke-width="0.4"/>
<line x1="657.40" y1="559.20" x2="658.70" y2="559.20" stroke="#fff" stroke-width="0.4"/>
<text x="661.80" y="560.80" font-size="4.5" text-anchor="start" fill="#222">1</text>
<text x="650.00" y="575.00" font-size="5.1" text-anchor="start" fill="#222">Number</text>
<circle cx="654.50" cy="582.30" r="0.80" fill="#000" stroke="none" stroke-width="0"/>
<text x="661.80" y="583.90" font-size="4.5" text-anchor="start" fill="#222">2</text>
<circle cx="654.50" cy="590.30" r="2.00" fill="#000" stroke="none" stroke-width="0"/>
<text x="661.80" y="591.90" font-size="4.5" text-anchor="start" fill="#222">4</text>
<circle cx="654.50" cy="598.30" r="2.50" fill="#000" stroke="none" stroke-width="0"/>
<text x="661.80" y="599.90" font-size="4.5" text-anchor="start" fill="#222">6</text>
<circle cx="654.50" cy="606.40" r="3.00" fill="#000" stroke="none" stroke-width="0"/>
<text x="661.80" y="608.00" font-size="4.5" text-anchor="start" fill="#222">8</text>
</svg>
</body></html>
